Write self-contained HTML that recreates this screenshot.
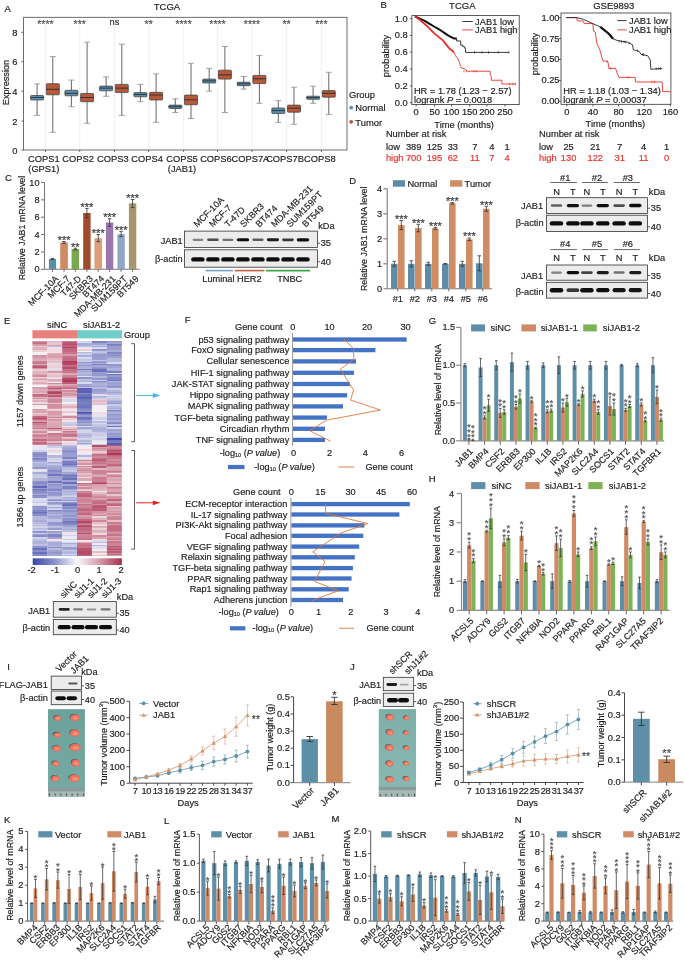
<!DOCTYPE html>
<html><head><meta charset="utf-8"><style>
html,body{margin:0;padding:0;background:#fff;}
svg{display:block;will-change:transform;}
text{font-family:"Liberation Sans",sans-serif;}
</style></head><body>
<svg width="685" height="960" viewBox="0 0 685 960" font-family="Liberation Sans, sans-serif" fill="#1e1e1e">
<defs><filter id="bl" x="-20%" y="-50%" width="140%" height="200%"><feGaussianBlur stdDeviation="0.55"/></filter>
<filter id="hb" x="0" y="0" width="100%" height="100%"><feGaussianBlur stdDeviation="0.35"/></filter>
<filter id="tb" x="-10%" y="-10%" width="120%" height="120%"><feGaussianBlur stdDeviation="0.4"/></filter>
<linearGradient id="phg" x1="0" x2="0" y1="0" y2="1"><stop offset="0" stop-color="#5f9690" stop-opacity="0.35"/><stop offset="1" stop-color="#7cb0aa" stop-opacity="0.3"/></linearGradient></defs>
<rect width="685" height="960" fill="#fff"/>
<text x="4.5" y="8" font-size="9.5" dominant-baseline="central" stroke="#1e1e1e" stroke-width="0.18">A</text>
<text x="167" y="6.6" font-size="9.5" text-anchor="middle" dominant-baseline="central" stroke="#1e1e1e" stroke-width="0.18">TCGA</text>
<line x1="45.4" y1="17.3" x2="45.4" y2="150" stroke="#e6e6e6" stroke-width="0.6"/>
<line x1="79.7" y1="17.3" x2="79.7" y2="150" stroke="#e6e6e6" stroke-width="0.6"/>
<line x1="114.4" y1="17.3" x2="114.4" y2="150" stroke="#e6e6e6" stroke-width="0.6"/>
<line x1="148.7" y1="17.3" x2="148.7" y2="150" stroke="#e6e6e6" stroke-width="0.6"/>
<line x1="183.6" y1="17.3" x2="183.6" y2="150" stroke="#e6e6e6" stroke-width="0.6"/>
<line x1="217.5" y1="17.3" x2="217.5" y2="150" stroke="#e6e6e6" stroke-width="0.6"/>
<line x1="252" y1="17.3" x2="252" y2="150" stroke="#e6e6e6" stroke-width="0.6"/>
<line x1="286.6" y1="17.3" x2="286.6" y2="150" stroke="#e6e6e6" stroke-width="0.6"/>
<line x1="321.4" y1="17.3" x2="321.4" y2="150" stroke="#e6e6e6" stroke-width="0.6"/>
<rect x="23.6" y="17.3" width="323.4" height="132.7" fill="none" stroke="#4a4a4a" stroke-width="0.8"/>
<line x1="21.4" y1="150.1" x2="23.6" y2="150.1" stroke="#4a4a4a" stroke-width="0.8"/>
<text x="17.5" y="150.1" font-size="9.4" text-anchor="end" dominant-baseline="central" stroke="#1e1e1e" stroke-width="0.18">0</text>
<line x1="21.4" y1="121" x2="23.6" y2="121" stroke="#4a4a4a" stroke-width="0.8"/>
<text x="17.5" y="121" font-size="9.4" text-anchor="end" dominant-baseline="central" stroke="#1e1e1e" stroke-width="0.18">2</text>
<line x1="21.4" y1="91.3" x2="23.6" y2="91.3" stroke="#4a4a4a" stroke-width="0.8"/>
<text x="17.5" y="91.3" font-size="9.4" text-anchor="end" dominant-baseline="central" stroke="#1e1e1e" stroke-width="0.18">4</text>
<line x1="21.4" y1="61.7" x2="23.6" y2="61.7" stroke="#4a4a4a" stroke-width="0.8"/>
<text x="17.5" y="61.7" font-size="9.4" text-anchor="end" dominant-baseline="central" stroke="#1e1e1e" stroke-width="0.18">6</text>
<line x1="21.4" y1="32.3" x2="23.6" y2="32.3" stroke="#4a4a4a" stroke-width="0.8"/>
<text x="17.5" y="32.3" font-size="9.4" text-anchor="end" dominant-baseline="central" stroke="#1e1e1e" stroke-width="0.18">8</text>
<text x="5.8" y="82.5" font-size="9.2" text-anchor="middle" transform="rotate(-90 5.8 82.5)" dominant-baseline="central" stroke="#1e1e1e" stroke-width="0.18">Expression</text>
<line x1="37.1" y1="83.9" x2="37.1" y2="115.4" stroke="#555" stroke-width="0.9"/>
<line x1="34.1" y1="83.9" x2="40.1" y2="83.9" stroke="#999" stroke-width="0.9"/>
<line x1="34.1" y1="115.4" x2="40.1" y2="115.4" stroke="#999" stroke-width="0.9"/>
<rect x="30.6" y="95.5" width="13" height="4.5" fill="#5b8fad" stroke="#3a3a3a" stroke-width="0.7" rx="0.8"/>
<line x1="30.6" y1="97.5" x2="43.6" y2="97.5" stroke="#2a2a2a" stroke-width="0.9"/>
<line x1="52.8" y1="56.6" x2="52.8" y2="132.3" stroke="#555" stroke-width="0.9"/>
<line x1="49.8" y1="56.6" x2="55.8" y2="56.6" stroke="#999" stroke-width="0.9"/>
<line x1="49.8" y1="132.3" x2="55.8" y2="132.3" stroke="#999" stroke-width="0.9"/>
<rect x="46.3" y="83.7" width="13" height="11.1" fill="#b5593a" stroke="#3a3a3a" stroke-width="0.7" rx="0.8"/>
<line x1="46.3" y1="89.3" x2="59.3" y2="89.3" stroke="#2a2a2a" stroke-width="0.9"/>
<text x="45.4" y="27.86" font-size="10.5" text-anchor="middle" fill="#555" dominant-baseline="auto" stroke="#555" stroke-width="0.2">****</text>
<line x1="71.4" y1="80.1" x2="71.4" y2="106.7" stroke="#555" stroke-width="0.9"/>
<line x1="68.4" y1="80.1" x2="74.4" y2="80.1" stroke="#999" stroke-width="0.9"/>
<line x1="68.4" y1="106.7" x2="74.4" y2="106.7" stroke="#999" stroke-width="0.9"/>
<rect x="64.9" y="90.3" width="13" height="5.5" fill="#5b8fad" stroke="#3a3a3a" stroke-width="0.7" rx="0.8"/>
<line x1="64.9" y1="93.3" x2="77.9" y2="93.3" stroke="#2a2a2a" stroke-width="0.9"/>
<line x1="87.1" y1="42.2" x2="87.1" y2="123.3" stroke="#555" stroke-width="0.9"/>
<line x1="84.1" y1="42.2" x2="90.1" y2="42.2" stroke="#999" stroke-width="0.9"/>
<line x1="84.1" y1="123.3" x2="90.1" y2="123.3" stroke="#999" stroke-width="0.9"/>
<rect x="80.6" y="93.5" width="13" height="8.2" fill="#b5593a" stroke="#3a3a3a" stroke-width="0.7" rx="0.8"/>
<line x1="80.6" y1="97.5" x2="93.6" y2="97.5" stroke="#2a2a2a" stroke-width="0.9"/>
<text x="79.7" y="27.86" font-size="10.5" text-anchor="middle" fill="#555" dominant-baseline="auto" stroke="#555" stroke-width="0.2">***</text>
<line x1="106.1" y1="76.9" x2="106.1" y2="96.3" stroke="#555" stroke-width="0.9"/>
<line x1="103.1" y1="76.9" x2="109.1" y2="76.9" stroke="#999" stroke-width="0.9"/>
<line x1="103.1" y1="96.3" x2="109.1" y2="96.3" stroke="#999" stroke-width="0.9"/>
<rect x="99.6" y="86.1" width="13" height="4.7" fill="#5b8fad" stroke="#3a3a3a" stroke-width="0.7" rx="0.8"/>
<line x1="99.6" y1="88.1" x2="112.6" y2="88.1" stroke="#2a2a2a" stroke-width="0.9"/>
<line x1="121.8" y1="44.2" x2="121.8" y2="115.4" stroke="#555" stroke-width="0.9"/>
<line x1="118.8" y1="44.2" x2="124.8" y2="44.2" stroke="#999" stroke-width="0.9"/>
<line x1="118.8" y1="115.4" x2="124.8" y2="115.4" stroke="#999" stroke-width="0.9"/>
<rect x="115.3" y="84.4" width="13" height="8.2" fill="#b5593a" stroke="#3a3a3a" stroke-width="0.7" rx="0.8"/>
<line x1="115.3" y1="88.1" x2="128.3" y2="88.1" stroke="#2a2a2a" stroke-width="0.9"/>
<text x="114.4" y="21.5" font-size="9.2" text-anchor="middle" fill="#333" dominant-baseline="central" stroke="#333" stroke-width="0.18">ns</text>
<line x1="140.4" y1="84.4" x2="140.4" y2="101.7" stroke="#555" stroke-width="0.9"/>
<line x1="137.4" y1="84.4" x2="143.4" y2="84.4" stroke="#999" stroke-width="0.9"/>
<line x1="137.4" y1="101.7" x2="143.4" y2="101.7" stroke="#999" stroke-width="0.9"/>
<rect x="133.9" y="92.6" width="13" height="4.2" fill="#5b8fad" stroke="#3a3a3a" stroke-width="0.7" rx="0.8"/>
<line x1="133.9" y1="94.5" x2="146.9" y2="94.5" stroke="#2a2a2a" stroke-width="0.9"/>
<line x1="156.1" y1="73.9" x2="156.1" y2="122.3" stroke="#555" stroke-width="0.9"/>
<line x1="153.1" y1="73.9" x2="159.1" y2="73.9" stroke="#999" stroke-width="0.9"/>
<line x1="153.1" y1="122.3" x2="159.1" y2="122.3" stroke="#999" stroke-width="0.9"/>
<rect x="149.6" y="92.3" width="13" height="7.7" fill="#b5593a" stroke="#3a3a3a" stroke-width="0.7" rx="0.8"/>
<line x1="149.6" y1="95" x2="162.6" y2="95" stroke="#2a2a2a" stroke-width="0.9"/>
<text x="148.7" y="27.86" font-size="10.5" text-anchor="middle" fill="#555" dominant-baseline="auto" stroke="#555" stroke-width="0.2">**</text>
<line x1="175.3" y1="98.8" x2="175.3" y2="112.5" stroke="#555" stroke-width="0.9"/>
<line x1="172.3" y1="98.8" x2="178.3" y2="98.8" stroke="#999" stroke-width="0.9"/>
<line x1="172.3" y1="112.5" x2="178.3" y2="112.5" stroke="#999" stroke-width="0.9"/>
<rect x="168.8" y="105.1" width="13" height="3.4" fill="#5b8fad" stroke="#3a3a3a" stroke-width="0.7" rx="0.8"/>
<line x1="168.8" y1="106.7" x2="181.8" y2="106.7" stroke="#2a2a2a" stroke-width="0.9"/>
<line x1="191" y1="63.3" x2="191" y2="118.5" stroke="#555" stroke-width="0.9"/>
<line x1="188" y1="63.3" x2="194" y2="63.3" stroke="#999" stroke-width="0.9"/>
<line x1="188" y1="118.5" x2="194" y2="118.5" stroke="#999" stroke-width="0.9"/>
<rect x="184.5" y="95.1" width="13" height="9.7" fill="#b5593a" stroke="#3a3a3a" stroke-width="0.7" rx="0.8"/>
<line x1="184.5" y1="99.8" x2="197.5" y2="99.8" stroke="#2a2a2a" stroke-width="0.9"/>
<text x="183.6" y="27.86" font-size="10.5" text-anchor="middle" fill="#555" dominant-baseline="auto" stroke="#555" stroke-width="0.2">****</text>
<line x1="209.2" y1="68.3" x2="209.2" y2="91.2" stroke="#555" stroke-width="0.9"/>
<line x1="206.2" y1="68.3" x2="212.2" y2="68.3" stroke="#999" stroke-width="0.9"/>
<line x1="206.2" y1="91.2" x2="212.2" y2="91.2" stroke="#999" stroke-width="0.9"/>
<rect x="202.7" y="79.1" width="13" height="3.9" fill="#5b8fad" stroke="#3a3a3a" stroke-width="0.7" rx="0.8"/>
<line x1="202.7" y1="80.9" x2="215.7" y2="80.9" stroke="#2a2a2a" stroke-width="0.9"/>
<line x1="224.9" y1="46.5" x2="224.9" y2="112.5" stroke="#555" stroke-width="0.9"/>
<line x1="221.9" y1="46.5" x2="227.9" y2="46.5" stroke="#999" stroke-width="0.9"/>
<line x1="221.9" y1="112.5" x2="227.9" y2="112.5" stroke="#999" stroke-width="0.9"/>
<rect x="218.4" y="70.2" width="13" height="8.9" fill="#b5593a" stroke="#3a3a3a" stroke-width="0.7" rx="0.8"/>
<line x1="218.4" y1="74.9" x2="231.4" y2="74.9" stroke="#2a2a2a" stroke-width="0.9"/>
<text x="217.5" y="27.86" font-size="10.5" text-anchor="middle" fill="#555" dominant-baseline="auto" stroke="#555" stroke-width="0.2">****</text>
<line x1="243.7" y1="76.5" x2="243.7" y2="89.1" stroke="#555" stroke-width="0.9"/>
<line x1="240.7" y1="76.5" x2="246.7" y2="76.5" stroke="#999" stroke-width="0.9"/>
<line x1="240.7" y1="89.1" x2="246.7" y2="89.1" stroke="#999" stroke-width="0.9"/>
<rect x="237.2" y="82.2" width="13" height="3.5" fill="#5b8fad" stroke="#3a3a3a" stroke-width="0.7" rx="0.8"/>
<line x1="237.2" y1="83.8" x2="250.2" y2="83.8" stroke="#2a2a2a" stroke-width="0.9"/>
<line x1="259.4" y1="55.4" x2="259.4" y2="103.3" stroke="#555" stroke-width="0.9"/>
<line x1="256.4" y1="55.4" x2="262.4" y2="55.4" stroke="#999" stroke-width="0.9"/>
<line x1="256.4" y1="103.3" x2="262.4" y2="103.3" stroke="#999" stroke-width="0.9"/>
<rect x="252.9" y="75.4" width="13" height="8.2" fill="#b5593a" stroke="#3a3a3a" stroke-width="0.7" rx="0.8"/>
<line x1="252.9" y1="78.8" x2="265.9" y2="78.8" stroke="#2a2a2a" stroke-width="0.9"/>
<text x="252" y="27.86" font-size="10.5" text-anchor="middle" fill="#555" dominant-baseline="auto" stroke="#555" stroke-width="0.2">****</text>
<line x1="278.3" y1="100.6" x2="278.3" y2="122.4" stroke="#555" stroke-width="0.9"/>
<line x1="275.3" y1="100.6" x2="281.3" y2="100.6" stroke="#999" stroke-width="0.9"/>
<line x1="275.3" y1="122.4" x2="281.3" y2="122.4" stroke="#999" stroke-width="0.9"/>
<rect x="271.8" y="108" width="13" height="5.5" fill="#5b8fad" stroke="#3a3a3a" stroke-width="0.7" rx="0.8"/>
<line x1="271.8" y1="110.6" x2="284.8" y2="110.6" stroke="#2a2a2a" stroke-width="0.9"/>
<line x1="294" y1="87.2" x2="294" y2="124.3" stroke="#555" stroke-width="0.9"/>
<line x1="291" y1="87.2" x2="297" y2="87.2" stroke="#999" stroke-width="0.9"/>
<line x1="291" y1="124.3" x2="297" y2="124.3" stroke="#999" stroke-width="0.9"/>
<rect x="287.5" y="105.1" width="13" height="7.1" fill="#b5593a" stroke="#3a3a3a" stroke-width="0.7" rx="0.8"/>
<line x1="287.5" y1="108.2" x2="300.5" y2="108.2" stroke="#2a2a2a" stroke-width="0.9"/>
<text x="286.6" y="27.86" font-size="10.5" text-anchor="middle" fill="#555" dominant-baseline="auto" stroke="#555" stroke-width="0.2">**</text>
<line x1="313.1" y1="86.2" x2="313.1" y2="103.3" stroke="#555" stroke-width="0.9"/>
<line x1="310.1" y1="86.2" x2="316.1" y2="86.2" stroke="#999" stroke-width="0.9"/>
<line x1="310.1" y1="103.3" x2="316.1" y2="103.3" stroke="#999" stroke-width="0.9"/>
<rect x="306.6" y="96.2" width="13" height="3.1" fill="#5b8fad" stroke="#3a3a3a" stroke-width="0.7" rx="0.8"/>
<line x1="306.6" y1="97.7" x2="319.6" y2="97.7" stroke="#2a2a2a" stroke-width="0.9"/>
<line x1="328.8" y1="72.3" x2="328.8" y2="114.6" stroke="#555" stroke-width="0.9"/>
<line x1="325.8" y1="72.3" x2="331.8" y2="72.3" stroke="#999" stroke-width="0.9"/>
<line x1="325.8" y1="114.6" x2="331.8" y2="114.6" stroke="#999" stroke-width="0.9"/>
<rect x="322.3" y="90.6" width="13" height="6.6" fill="#b5593a" stroke="#3a3a3a" stroke-width="0.7" rx="0.8"/>
<line x1="322.3" y1="93.3" x2="335.3" y2="93.3" stroke="#2a2a2a" stroke-width="0.9"/>
<text x="321.4" y="27.86" font-size="10.5" text-anchor="middle" fill="#555" dominant-baseline="auto" stroke="#555" stroke-width="0.2">***</text>
<line x1="45.4" y1="150" x2="45.4" y2="152" stroke="#4a4a4a" stroke-width="0.8"/>
<text x="43.8" y="159" font-size="9.3" text-anchor="middle" dominant-baseline="central" stroke="#1e1e1e" stroke-width="0.18">COPS1</text>
<line x1="79.7" y1="150" x2="79.7" y2="152" stroke="#4a4a4a" stroke-width="0.8"/>
<text x="78.1" y="159" font-size="9.3" text-anchor="middle" dominant-baseline="central" stroke="#1e1e1e" stroke-width="0.18">COPS2</text>
<line x1="114.4" y1="150" x2="114.4" y2="152" stroke="#4a4a4a" stroke-width="0.8"/>
<text x="112.8" y="159" font-size="9.3" text-anchor="middle" dominant-baseline="central" stroke="#1e1e1e" stroke-width="0.18">COPS3</text>
<line x1="148.7" y1="150" x2="148.7" y2="152" stroke="#4a4a4a" stroke-width="0.8"/>
<text x="147.1" y="159" font-size="9.3" text-anchor="middle" dominant-baseline="central" stroke="#1e1e1e" stroke-width="0.18">COPS4</text>
<line x1="183.6" y1="150" x2="183.6" y2="152" stroke="#4a4a4a" stroke-width="0.8"/>
<text x="182" y="159" font-size="9.3" text-anchor="middle" dominant-baseline="central" stroke="#1e1e1e" stroke-width="0.18">COPS5</text>
<line x1="217.5" y1="150" x2="217.5" y2="152" stroke="#4a4a4a" stroke-width="0.8"/>
<text x="215.9" y="159" font-size="9.3" text-anchor="middle" dominant-baseline="central" stroke="#1e1e1e" stroke-width="0.18">COPS6</text>
<line x1="252" y1="150" x2="252" y2="152" stroke="#4a4a4a" stroke-width="0.8"/>
<text x="250.4" y="159" font-size="9.3" text-anchor="middle" dominant-baseline="central" stroke="#1e1e1e" stroke-width="0.18">COPS7A</text>
<line x1="286.6" y1="150" x2="286.6" y2="152" stroke="#4a4a4a" stroke-width="0.8"/>
<text x="285" y="159" font-size="9.3" text-anchor="middle" dominant-baseline="central" stroke="#1e1e1e" stroke-width="0.18">COPS7B</text>
<line x1="321.4" y1="150" x2="321.4" y2="152" stroke="#4a4a4a" stroke-width="0.8"/>
<text x="319.8" y="159" font-size="9.3" text-anchor="middle" dominant-baseline="central" stroke="#1e1e1e" stroke-width="0.18">COPS8</text>
<text x="43.8" y="169" font-size="9.3" text-anchor="middle" dominant-baseline="central" stroke="#1e1e1e" stroke-width="0.18">(GPS1)</text>
<text x="182" y="169" font-size="9.3" text-anchor="middle" dominant-baseline="central" stroke="#1e1e1e" stroke-width="0.18">(JAB1)</text>
<text x="348.9" y="94.6" font-size="9.4" dominant-baseline="central" stroke="#1e1e1e" stroke-width="0.18">Group</text>
<circle cx="351.2" cy="107.7" r="1.9" fill="#5b8fad"/>
<text x="355.3" y="107.9" font-size="9.4" dominant-baseline="central" stroke="#1e1e1e" stroke-width="0.18">Normal</text>
<circle cx="351.2" cy="121.8" r="1.9" fill="#b5593a"/>
<text x="355.3" y="122" font-size="9.4" dominant-baseline="central" stroke="#1e1e1e" stroke-width="0.18">Tumor</text>
<text x="380.5" y="4.2" font-size="9.5" dominant-baseline="central" stroke="#1e1e1e" stroke-width="0.18">B</text>
<rect x="411.9" y="15.6" width="107.3" height="89" fill="none" stroke="#333" stroke-width="0.8"/>
<line x1="409.9" y1="18.6" x2="411.9" y2="18.6" stroke="#333" stroke-width="0.8"/>
<text x="407.8" y="18.6" font-size="9.3" text-anchor="end" dominant-baseline="central" stroke="#1e1e1e" stroke-width="0.18">1.0</text>
<line x1="409.9" y1="35.4" x2="411.9" y2="35.4" stroke="#333" stroke-width="0.8"/>
<text x="407.8" y="35.4" font-size="9.3" text-anchor="end" dominant-baseline="central" stroke="#1e1e1e" stroke-width="0.18">0.8</text>
<line x1="409.9" y1="52.2" x2="411.9" y2="52.2" stroke="#333" stroke-width="0.8"/>
<text x="407.8" y="52.2" font-size="9.3" text-anchor="end" dominant-baseline="central" stroke="#1e1e1e" stroke-width="0.18">0.6</text>
<line x1="409.9" y1="69.1" x2="411.9" y2="69.1" stroke="#333" stroke-width="0.8"/>
<text x="407.8" y="69.1" font-size="9.3" text-anchor="end" dominant-baseline="central" stroke="#1e1e1e" stroke-width="0.18">0.4</text>
<line x1="409.9" y1="85.9" x2="411.9" y2="85.9" stroke="#333" stroke-width="0.8"/>
<text x="407.8" y="85.9" font-size="9.3" text-anchor="end" dominant-baseline="central" stroke="#1e1e1e" stroke-width="0.18">0.2</text>
<line x1="409.9" y1="102.7" x2="411.9" y2="102.7" stroke="#333" stroke-width="0.8"/>
<text x="407.8" y="102.7" font-size="9.3" text-anchor="end" dominant-baseline="central" stroke="#1e1e1e" stroke-width="0.18">0.0</text>
<line x1="416.1" y1="104.6" x2="416.1" y2="106.6" stroke="#333" stroke-width="0.8"/>
<text x="416.1" y="111.9" font-size="9.3" text-anchor="middle" dominant-baseline="central" stroke="#1e1e1e" stroke-width="0.18">0</text>
<line x1="434.7" y1="104.6" x2="434.7" y2="106.6" stroke="#333" stroke-width="0.8"/>
<text x="434.7" y="111.9" font-size="9.3" text-anchor="middle" dominant-baseline="central" stroke="#1e1e1e" stroke-width="0.18">50</text>
<line x1="451.6" y1="104.6" x2="451.6" y2="106.6" stroke="#333" stroke-width="0.8"/>
<text x="451.6" y="111.9" font-size="9.3" text-anchor="middle" dominant-baseline="central" stroke="#1e1e1e" stroke-width="0.18">100</text>
<line x1="469.7" y1="104.6" x2="469.7" y2="106.6" stroke="#333" stroke-width="0.8"/>
<text x="469.7" y="111.9" font-size="9.3" text-anchor="middle" dominant-baseline="central" stroke="#1e1e1e" stroke-width="0.18">150</text>
<line x1="486.9" y1="104.6" x2="486.9" y2="106.6" stroke="#333" stroke-width="0.8"/>
<text x="486.9" y="111.9" font-size="9.3" text-anchor="middle" dominant-baseline="central" stroke="#1e1e1e" stroke-width="0.18">200</text>
<line x1="505" y1="104.6" x2="505" y2="106.6" stroke="#333" stroke-width="0.8"/>
<text x="505" y="111.9" font-size="9.3" text-anchor="middle" dominant-baseline="central" stroke="#1e1e1e" stroke-width="0.18">250</text>
<text x="462.3" y="5.9" font-size="9.5" text-anchor="middle" dominant-baseline="central" stroke="#1e1e1e" stroke-width="0.18">TCGA</text>
<text x="386.2" y="56" font-size="9.3" text-anchor="middle" transform="rotate(-90 386.2 56)" dominant-baseline="central" stroke="#1e1e1e" stroke-width="0.18">probability</text>
<text x="464.1" y="124.5" font-size="9.3" text-anchor="middle" dominant-baseline="central" stroke="#1e1e1e" stroke-width="0.18">Time (months)</text>
<polyline points="414.91,16.45 419.81,19.72 426.35,25.45 434.53,33.62 442.7,40.16 449.24,48.34 451.69,50.3 454.15,52.42 455.45,55.69 457.42,58.15 459.05,61.42 460.69,66.32 461.5,67.96 464.77,68.77 467.23,71.23 490.12,71.23 490.12,74.82 491.26,76.13 491.26,80.22 501.89,80.22 501.89,83.98 515.46,83.98" fill="none" stroke="#e8302a" stroke-width="0.9"/>
<polyline points="414.91,16.45 419.81,18.58 424.72,20.87 429.62,23.81 434.53,26.75 439.43,29.53 444.34,32.8 449.24,36.07 454.15,38.53 456.6,38.53 456.6,40.98 460.69,40.98 460.69,45.07 462.65,45.07 462.65,46.7 464.77,46.7 464.77,48.34 465.59,48.34 465.59,52.42 508.92,52.42" fill="none" stroke="#222" stroke-width="0.9"/>
<polyline points="414.91,16.45 419.81,18.58 424.72,20.87 429.62,23.81 434.53,26.75 439.43,29.53 444.34,32.8 449.24,36.07 454.15,38.53 456.6,38.53" fill="none" stroke="#111" stroke-width="2"/>
<polyline points="414.91,16.45 419.81,19.72 426.35,25.45 434.53,33.62 442.7,40.16 449.24,48.34 451.69,50.3 454.15,52.42" fill="none" stroke="#e8302a" stroke-width="1.8"/>
<line x1="474.58" y1="51.22" x2="474.58" y2="53.62" stroke="#222" stroke-width="0.7"/>
<line x1="481.94" y1="51.22" x2="481.94" y2="53.62" stroke="#222" stroke-width="0.7"/>
<line x1="488.48" y1="51.22" x2="488.48" y2="53.62" stroke="#222" stroke-width="0.7"/>
<line x1="498.29" y1="51.22" x2="498.29" y2="53.62" stroke="#222" stroke-width="0.7"/>
<line x1="508.92" y1="51.22" x2="508.92" y2="53.62" stroke="#222" stroke-width="0.7"/>
<line x1="463.96" y1="70.03" x2="463.96" y2="72.43" stroke="#e8302a" stroke-width="0.7"/>
<line x1="466.41" y1="70.03" x2="466.41" y2="72.43" stroke="#e8302a" stroke-width="0.7"/>
<line x1="473.77" y1="70.03" x2="473.77" y2="72.43" stroke="#e8302a" stroke-width="0.7"/>
<line x1="476.22" y1="70.03" x2="476.22" y2="72.43" stroke="#e8302a" stroke-width="0.7"/>
<line x1="509.74" y1="82.78" x2="509.74" y2="85.18" stroke="#e8302a" stroke-width="0.7"/>
<line x1="513.01" y1="82.78" x2="513.01" y2="85.18" stroke="#e8302a" stroke-width="0.7"/>
<line x1="515.46" y1="82.78" x2="515.46" y2="85.18" stroke="#e8302a" stroke-width="0.7"/>
<line x1="462.3" y1="21.5" x2="472.8" y2="21.5" stroke="#222" stroke-width="0.9"/>
<text x="475.1" y="21.9" font-size="9.3" dominant-baseline="central" stroke="#1e1e1e" stroke-width="0.18">JAB1 low</text>
<line x1="462.3" y1="29.9" x2="472.8" y2="29.9" stroke="#e8302a" stroke-width="0.9"/>
<text x="475.1" y="30.3" font-size="9.3" dominant-baseline="central" stroke="#1e1e1e" stroke-width="0.18">JAB1 high</text>
<text x="413.9" y="90.8" font-size="9.3" dominant-baseline="central" stroke="#1e1e1e" stroke-width="0.18">HR = 1.78 (1.23 − 2.57)</text>
<text x="413.9" y="100.2" font-size="9.3" dominant-baseline="central" stroke="#1e1e1e" stroke-width="0.18">logrank <tspan font-style="italic">P</tspan> = 0.0018</text>
<rect x="561" y="13" width="109.9" height="91.3" fill="none" stroke="#333" stroke-width="0.8"/>
<line x1="559" y1="17.6" x2="561" y2="17.6" stroke="#333" stroke-width="0.8"/>
<text x="559.5" y="17.6" font-size="9.3" text-anchor="end" dominant-baseline="central" stroke="#1e1e1e" stroke-width="0.18">1.00</text>
<line x1="559" y1="38.5" x2="561" y2="38.5" stroke="#333" stroke-width="0.8"/>
<text x="559.5" y="38.5" font-size="9.3" text-anchor="end" dominant-baseline="central" stroke="#1e1e1e" stroke-width="0.18">0.75</text>
<line x1="559" y1="59.4" x2="561" y2="59.4" stroke="#333" stroke-width="0.8"/>
<text x="559.5" y="59.4" font-size="9.3" text-anchor="end" dominant-baseline="central" stroke="#1e1e1e" stroke-width="0.18">0.50</text>
<line x1="559" y1="80.4" x2="561" y2="80.4" stroke="#333" stroke-width="0.8"/>
<text x="559.5" y="80.4" font-size="9.3" text-anchor="end" dominant-baseline="central" stroke="#1e1e1e" stroke-width="0.18">0.25</text>
<line x1="559" y1="101.3" x2="561" y2="101.3" stroke="#333" stroke-width="0.8"/>
<text x="559.5" y="101.3" font-size="9.3" text-anchor="end" dominant-baseline="central" stroke="#1e1e1e" stroke-width="0.18">0.00</text>
<line x1="566.8" y1="104.3" x2="566.8" y2="106.3" stroke="#333" stroke-width="0.8"/>
<text x="566.8" y="111.9" font-size="9.3" text-anchor="middle" dominant-baseline="central" stroke="#1e1e1e" stroke-width="0.18">0</text>
<line x1="593" y1="104.3" x2="593" y2="106.3" stroke="#333" stroke-width="0.8"/>
<text x="593" y="111.9" font-size="9.3" text-anchor="middle" dominant-baseline="central" stroke="#1e1e1e" stroke-width="0.18">40</text>
<line x1="618.6" y1="104.3" x2="618.6" y2="106.3" stroke="#333" stroke-width="0.8"/>
<text x="618.6" y="111.9" font-size="9.3" text-anchor="middle" dominant-baseline="central" stroke="#1e1e1e" stroke-width="0.18">80</text>
<line x1="644.2" y1="104.3" x2="644.2" y2="106.3" stroke="#333" stroke-width="0.8"/>
<text x="644.2" y="111.9" font-size="9.3" text-anchor="middle" dominant-baseline="central" stroke="#1e1e1e" stroke-width="0.18">120</text>
<line x1="670.4" y1="104.3" x2="670.4" y2="106.3" stroke="#333" stroke-width="0.8"/>
<text x="670.4" y="111.9" font-size="9.3" text-anchor="middle" dominant-baseline="central" stroke="#1e1e1e" stroke-width="0.18">160</text>
<text x="613.8" y="5.3" font-size="9.5" text-anchor="middle" dominant-baseline="central" stroke="#1e1e1e" stroke-width="0.18">GSE9893</text>
<text x="534.5" y="54" font-size="9.3" text-anchor="middle" transform="rotate(-90 534.5 54)" dominant-baseline="central" stroke="#1e1e1e" stroke-width="0.18">probability</text>
<text x="615.4" y="123.8" font-size="9.3" text-anchor="middle" dominant-baseline="central" stroke="#1e1e1e" stroke-width="0.18">Time (months)</text>
<polyline points="566.13,17.62 576.63,17.62 577.48,21.01 583.4,21.01 584.25,23.55 592.72,23.55 593.56,31.17 595.26,32.02 596.95,43.87 599.49,48.95 602.88,60.8 607.96,61.65 608.8,68.43 615.58,68.43 617.27,73.51 618.97,77.4 635.05,77.4 635.56,81.97 662.15,81.97 662.66,91.63 670.62,91.63" fill="none" stroke="#e8302a" stroke-width="0.9"/>
<polyline points="566.13,17.62 576.63,17.62 583.4,19.31 591.87,23.21 600.34,26.93 608.8,33.71 613.04,38.79 617.27,40.48 627.43,42.18 632.51,44.72 633.36,49.8 639.29,51.49 640.98,54.37 647.75,55.72 650.29,59.96 650.8,69.27 662.15,68.43" fill="none" stroke="#222" stroke-width="0.9"/>
<polyline points="600.34,26.93 608.8,33.71 613.04,38.79" fill="none" stroke="#111" stroke-width="2.2"/>
<line x1="618.97" y1="40.13" x2="618.97" y2="42.53" stroke="#222" stroke-width="0.7"/>
<line x1="621.51" y1="40.47" x2="621.51" y2="42.87" stroke="#222" stroke-width="0.7"/>
<line x1="624.05" y1="40.64" x2="624.05" y2="43.04" stroke="#222" stroke-width="0.7"/>
<line x1="625.74" y1="40.81" x2="625.74" y2="43.21" stroke="#222" stroke-width="0.7"/>
<line x1="629.13" y1="41.82" x2="629.13" y2="44.22" stroke="#222" stroke-width="0.7"/>
<line x1="637.59" y1="49.44" x2="637.59" y2="51.84" stroke="#222" stroke-width="0.7"/>
<line x1="642.67" y1="53.17" x2="642.67" y2="55.57" stroke="#222" stroke-width="0.7"/>
<line x1="643.52" y1="53.51" x2="643.52" y2="55.91" stroke="#222" stroke-width="0.7"/>
<line x1="656.22" y1="67.73" x2="656.22" y2="70.13" stroke="#222" stroke-width="0.7"/>
<line x1="658.76" y1="67.56" x2="658.76" y2="69.96" stroke="#222" stroke-width="0.7"/>
<line x1="660.46" y1="67.39" x2="660.46" y2="69.79" stroke="#222" stroke-width="0.7"/>
<line x1="607.11" y1="60.11" x2="607.11" y2="62.51" stroke="#e8302a" stroke-width="0.7"/>
<line x1="610.5" y1="67.23" x2="610.5" y2="69.63" stroke="#e8302a" stroke-width="0.7"/>
<line x1="628.28" y1="76.2" x2="628.28" y2="78.6" stroke="#e8302a" stroke-width="0.7"/>
<line x1="651.99" y1="80.77" x2="651.99" y2="83.17" stroke="#e8302a" stroke-width="0.7"/>
<line x1="654.53" y1="80.77" x2="654.53" y2="83.17" stroke="#e8302a" stroke-width="0.7"/>
<line x1="617.3" y1="20.6" x2="626.6" y2="20.6" stroke="#222" stroke-width="0.9"/>
<text x="629" y="21" font-size="9.3" dominant-baseline="central" stroke="#1e1e1e" stroke-width="0.18">JAB1 low</text>
<line x1="617.3" y1="29.9" x2="626.6" y2="29.9" stroke="#e8302a" stroke-width="0.9"/>
<text x="629" y="30.3" font-size="9.3" dominant-baseline="central" stroke="#1e1e1e" stroke-width="0.18">JAB1 high</text>
<text x="563.2" y="90.8" font-size="9.3" dominant-baseline="central" stroke="#1e1e1e" stroke-width="0.18">HR = 1.18 (1.03 − 1.34)</text>
<text x="563.2" y="100.2" font-size="9.3" dominant-baseline="central" stroke="#1e1e1e" stroke-width="0.18">logrank <tspan font-style="italic">P</tspan> = 0.00037</text>
<text x="385.9" y="133.6" font-size="9.3" dominant-baseline="central" stroke="#1e1e1e" stroke-width="0.18">Number at risk</text>
<text x="385.9" y="146.7" font-size="9.3" dominant-baseline="central" stroke="#1e1e1e" stroke-width="0.18">low</text>
<text x="385.9" y="157.7" font-size="9.3" fill="#e8302a" dominant-baseline="central" stroke="#e8302a" stroke-width="0.18">high</text>
<text x="413.7" y="146.7" font-size="9.3" text-anchor="middle" dominant-baseline="central" stroke="#1e1e1e" stroke-width="0.18">389</text>
<text x="413.7" y="157.7" font-size="9.3" text-anchor="middle" fill="#e8302a" dominant-baseline="central" stroke="#e8302a" stroke-width="0.18">700</text>
<text x="434.4" y="146.7" font-size="9.3" text-anchor="middle" dominant-baseline="central" stroke="#1e1e1e" stroke-width="0.18">125</text>
<text x="434.4" y="157.7" font-size="9.3" text-anchor="middle" fill="#e8302a" dominant-baseline="central" stroke="#e8302a" stroke-width="0.18">195</text>
<text x="452.8" y="146.7" font-size="9.3" text-anchor="middle" dominant-baseline="central" stroke="#1e1e1e" stroke-width="0.18">33</text>
<text x="452.8" y="157.7" font-size="9.3" text-anchor="middle" fill="#e8302a" dominant-baseline="central" stroke="#e8302a" stroke-width="0.18">62</text>
<text x="474.8" y="146.7" font-size="9.3" text-anchor="middle" dominant-baseline="central" stroke="#1e1e1e" stroke-width="0.18">7</text>
<text x="474.8" y="157.7" font-size="9.3" text-anchor="middle" fill="#e8302a" dominant-baseline="central" stroke="#e8302a" stroke-width="0.18">11</text>
<text x="491.8" y="146.7" font-size="9.3" text-anchor="middle" dominant-baseline="central" stroke="#1e1e1e" stroke-width="0.18">4</text>
<text x="491.8" y="157.7" font-size="9.3" text-anchor="middle" fill="#e8302a" dominant-baseline="central" stroke="#e8302a" stroke-width="0.18">7</text>
<text x="507" y="146.7" font-size="9.3" text-anchor="middle" dominant-baseline="central" stroke="#1e1e1e" stroke-width="0.18">1</text>
<text x="507" y="157.7" font-size="9.3" text-anchor="middle" fill="#e8302a" dominant-baseline="central" stroke="#e8302a" stroke-width="0.18">4</text>
<text x="539" y="133.6" font-size="9.3" dominant-baseline="central" stroke="#1e1e1e" stroke-width="0.18">Number at risk</text>
<text x="539" y="146.7" font-size="9.3" dominant-baseline="central" stroke="#1e1e1e" stroke-width="0.18">low</text>
<text x="539" y="157.7" font-size="9.3" fill="#e8302a" dominant-baseline="central" stroke="#e8302a" stroke-width="0.18">high</text>
<text x="568.6" y="146.7" font-size="9.3" text-anchor="middle" dominant-baseline="central" stroke="#1e1e1e" stroke-width="0.18">25</text>
<text x="568.6" y="157.7" font-size="9.3" text-anchor="middle" fill="#e8302a" dominant-baseline="central" stroke="#e8302a" stroke-width="0.18">130</text>
<text x="595.3" y="146.7" font-size="9.3" text-anchor="middle" dominant-baseline="central" stroke="#1e1e1e" stroke-width="0.18">21</text>
<text x="595.3" y="157.7" font-size="9.3" text-anchor="middle" fill="#e8302a" dominant-baseline="central" stroke="#e8302a" stroke-width="0.18">122</text>
<text x="619.7" y="146.7" font-size="9.3" text-anchor="middle" dominant-baseline="central" stroke="#1e1e1e" stroke-width="0.18">7</text>
<text x="619.7" y="157.7" font-size="9.3" text-anchor="middle" fill="#e8302a" dominant-baseline="central" stroke="#e8302a" stroke-width="0.18">31</text>
<text x="643.6" y="146.7" font-size="9.3" text-anchor="middle" dominant-baseline="central" stroke="#1e1e1e" stroke-width="0.18">4</text>
<text x="643.6" y="157.7" font-size="9.3" text-anchor="middle" fill="#e8302a" dominant-baseline="central" stroke="#e8302a" stroke-width="0.18">11</text>
<text x="666.6" y="146.7" font-size="9.3" text-anchor="middle" dominant-baseline="central" stroke="#1e1e1e" stroke-width="0.18">1</text>
<text x="666.6" y="157.7" font-size="9.3" text-anchor="middle" fill="#e8302a" dominant-baseline="central" stroke="#e8302a" stroke-width="0.18">0</text>
<text x="5" y="177.8" font-size="9.5" dominant-baseline="central" stroke="#1e1e1e" stroke-width="0.18">C</text>
<line x1="44.5" y1="182.5" x2="44.5" y2="269.3" stroke="#7a7a7a" stroke-width="1.1"/>
<line x1="41" y1="269.3" x2="44.5" y2="269.3" stroke="#7a7a7a" stroke-width="1.1"/>
<text x="39.6" y="269.3" font-size="9.2" text-anchor="end" dominant-baseline="central" stroke="#1e1e1e" stroke-width="0.18">0</text>
<line x1="41" y1="251.94" x2="44.5" y2="251.94" stroke="#7a7a7a" stroke-width="1.1"/>
<text x="39.6" y="251.94" font-size="9.2" text-anchor="end" dominant-baseline="central" stroke="#1e1e1e" stroke-width="0.18">2</text>
<line x1="41" y1="234.58" x2="44.5" y2="234.58" stroke="#7a7a7a" stroke-width="1.1"/>
<text x="39.6" y="234.58" font-size="9.2" text-anchor="end" dominant-baseline="central" stroke="#1e1e1e" stroke-width="0.18">4</text>
<line x1="41" y1="217.22" x2="44.5" y2="217.22" stroke="#7a7a7a" stroke-width="1.1"/>
<text x="39.6" y="217.22" font-size="9.2" text-anchor="end" dominant-baseline="central" stroke="#1e1e1e" stroke-width="0.18">6</text>
<line x1="41" y1="199.86" x2="44.5" y2="199.86" stroke="#7a7a7a" stroke-width="1.1"/>
<text x="39.6" y="199.86" font-size="9.2" text-anchor="end" dominant-baseline="central" stroke="#1e1e1e" stroke-width="0.18">8</text>
<line x1="41" y1="182.5" x2="44.5" y2="182.5" stroke="#7a7a7a" stroke-width="1.1"/>
<text x="39.6" y="182.5" font-size="9.2" text-anchor="end" dominant-baseline="central" stroke="#1e1e1e" stroke-width="0.18">10</text>
<line x1="44.5" y1="269.3" x2="139.6" y2="269.3" stroke="#7a7a7a" stroke-width="1.1"/>
<text x="22.3" y="228" font-size="8.9" text-anchor="middle" transform="rotate(-90 22.3 228)" dominant-baseline="central" stroke="#1e1e1e" stroke-width="0.18">Relative JAB1 mRNA level</text>
<rect x="48.9" y="259" width="7.2" height="10.3" fill="#5a8fa5"/>
<line x1="52.5" y1="258.5" x2="52.5" y2="259.6" stroke="#333" stroke-width="0.8"/>
<line x1="50.7" y1="258.5" x2="54.3" y2="258.5" stroke="#333" stroke-width="0.8"/>
<line x1="50.7" y1="259.6" x2="54.3" y2="259.6" stroke="#333" stroke-width="0.8"/>
<line x1="52.5" y1="269.3" x2="52.5" y2="271.8" stroke="#555" stroke-width="0.9"/>
<text x="59.1" y="279.3" font-size="9" text-anchor="end" transform="rotate(-45 59.1 279.3)" dominant-baseline="auto" stroke="#1e1e1e" stroke-width="0.18">MCF-10A</text>
<rect x="60.2" y="242.4" width="7.7" height="26.9" fill="#d08a65"/>
<line x1="64.05" y1="241.5" x2="64.05" y2="243.4" stroke="#333" stroke-width="0.8"/>
<line x1="62.25" y1="241.5" x2="65.85" y2="241.5" stroke="#333" stroke-width="0.8"/>
<line x1="62.25" y1="243.4" x2="65.85" y2="243.4" stroke="#333" stroke-width="0.8"/>
<text x="64.05" y="244.02" font-size="11" text-anchor="middle" fill="#444" dominant-baseline="auto" stroke="#444" stroke-width="0.25">***</text>
<line x1="64.05" y1="269.3" x2="64.05" y2="271.8" stroke="#555" stroke-width="0.9"/>
<text x="70.65" y="279.3" font-size="9" text-anchor="end" transform="rotate(-45 70.65 279.3)" dominant-baseline="auto" stroke="#1e1e1e" stroke-width="0.18">MCF-7</text>
<rect x="71.6" y="249" width="7.5" height="20.3" fill="#79a84e"/>
<line x1="75.35" y1="248.2" x2="75.35" y2="250" stroke="#333" stroke-width="0.8"/>
<line x1="73.55" y1="248.2" x2="77.15" y2="248.2" stroke="#333" stroke-width="0.8"/>
<line x1="73.55" y1="250" x2="77.15" y2="250" stroke="#333" stroke-width="0.8"/>
<text x="75.35" y="250.72" font-size="11" text-anchor="middle" fill="#444" dominant-baseline="auto" stroke="#444" stroke-width="0.25">**</text>
<line x1="75.35" y1="269.3" x2="75.35" y2="271.8" stroke="#555" stroke-width="0.9"/>
<text x="81.95" y="279.3" font-size="9" text-anchor="end" transform="rotate(-45 81.95 279.3)" dominant-baseline="auto" stroke="#1e1e1e" stroke-width="0.18">T47-D</text>
<rect x="83.2" y="213" width="7.4" height="56.3" fill="#a24b2c"/>
<line x1="86.9" y1="208.4" x2="86.9" y2="217.6" stroke="#333" stroke-width="0.8"/>
<line x1="85.1" y1="208.4" x2="88.7" y2="208.4" stroke="#333" stroke-width="0.8"/>
<line x1="85.1" y1="217.6" x2="88.7" y2="217.6" stroke="#333" stroke-width="0.8"/>
<text x="86.9" y="210.92" font-size="11" text-anchor="middle" fill="#444" dominant-baseline="auto" stroke="#444" stroke-width="0.25">***</text>
<line x1="86.9" y1="269.3" x2="86.9" y2="271.8" stroke="#555" stroke-width="0.9"/>
<text x="93.5" y="279.3" font-size="9" text-anchor="end" transform="rotate(-45 93.5 279.3)" dominant-baseline="auto" stroke="#1e1e1e" stroke-width="0.18">SKBR3</text>
<rect x="94.4" y="238.3" width="7.7" height="31" fill="#d9a07a"/>
<line x1="98.25" y1="234.5" x2="98.25" y2="241.7" stroke="#333" stroke-width="0.8"/>
<line x1="96.45" y1="234.5" x2="100.05" y2="234.5" stroke="#333" stroke-width="0.8"/>
<line x1="96.45" y1="241.7" x2="100.05" y2="241.7" stroke="#333" stroke-width="0.8"/>
<text x="98.25" y="237.02" font-size="11" text-anchor="middle" fill="#444" dominant-baseline="auto" stroke="#444" stroke-width="0.25">***</text>
<line x1="98.25" y1="269.3" x2="98.25" y2="271.8" stroke="#555" stroke-width="0.9"/>
<text x="104.85" y="279.3" font-size="9" text-anchor="end" transform="rotate(-45 104.85 279.3)" dominant-baseline="auto" stroke="#1e1e1e" stroke-width="0.18">BT474</text>
<rect x="105.9" y="222.5" width="7.4" height="46.8" fill="#9a78ae"/>
<line x1="109.6" y1="218.7" x2="109.6" y2="226.3" stroke="#333" stroke-width="0.8"/>
<line x1="107.8" y1="218.7" x2="111.4" y2="218.7" stroke="#333" stroke-width="0.8"/>
<line x1="107.8" y1="226.3" x2="111.4" y2="226.3" stroke="#333" stroke-width="0.8"/>
<text x="109.6" y="221.22" font-size="11" text-anchor="middle" fill="#444" dominant-baseline="auto" stroke="#444" stroke-width="0.25">***</text>
<line x1="109.6" y1="269.3" x2="109.6" y2="271.8" stroke="#555" stroke-width="0.9"/>
<text x="116.2" y="279.3" font-size="9" text-anchor="end" transform="rotate(-45 116.2 279.3)" dominant-baseline="auto" stroke="#1e1e1e" stroke-width="0.18">MDA-MB-231</text>
<rect x="117.4" y="234.1" width="7.4" height="35.2" fill="#91a6c7"/>
<line x1="121.1" y1="231.4" x2="121.1" y2="236.7" stroke="#333" stroke-width="0.8"/>
<line x1="119.3" y1="231.4" x2="122.9" y2="231.4" stroke="#333" stroke-width="0.8"/>
<line x1="119.3" y1="236.7" x2="122.9" y2="236.7" stroke="#333" stroke-width="0.8"/>
<text x="121.1" y="233.92" font-size="11" text-anchor="middle" fill="#444" dominant-baseline="auto" stroke="#444" stroke-width="0.25">***</text>
<line x1="121.1" y1="269.3" x2="121.1" y2="271.8" stroke="#555" stroke-width="0.9"/>
<text x="127.7" y="279.3" font-size="9" text-anchor="end" transform="rotate(-45 127.7 279.3)" dominant-baseline="auto" stroke="#1e1e1e" stroke-width="0.18">SUM159PT</text>
<rect x="128.9" y="203.3" width="7.4" height="66" fill="#a8956b"/>
<line x1="132.6" y1="199.5" x2="132.6" y2="207.6" stroke="#333" stroke-width="0.8"/>
<line x1="130.8" y1="199.5" x2="134.4" y2="199.5" stroke="#333" stroke-width="0.8"/>
<line x1="130.8" y1="207.6" x2="134.4" y2="207.6" stroke="#333" stroke-width="0.8"/>
<text x="132.6" y="202.02" font-size="11" text-anchor="middle" fill="#444" dominant-baseline="auto" stroke="#444" stroke-width="0.25">***</text>
<line x1="132.6" y1="269.3" x2="132.6" y2="271.8" stroke="#555" stroke-width="0.9"/>
<text x="139.2" y="279.3" font-size="9" text-anchor="end" transform="rotate(-45 139.2 279.3)" dominant-baseline="auto" stroke="#1e1e1e" stroke-width="0.18">BT549</text>
<text x="197.2" y="227.8" font-size="9" transform="rotate(-45 197.2 227.8)" dominant-baseline="auto" stroke="#1e1e1e" stroke-width="0.18">MCF-10A</text>
<text x="212.7" y="227.8" font-size="9" transform="rotate(-45 212.7 227.8)" dominant-baseline="auto" stroke="#1e1e1e" stroke-width="0.18">MCF-7</text>
<text x="228.2" y="227.8" font-size="9" transform="rotate(-45 228.2 227.8)" dominant-baseline="auto" stroke="#1e1e1e" stroke-width="0.18">T-47D</text>
<text x="243.7" y="227.8" font-size="9" transform="rotate(-45 243.7 227.8)" dominant-baseline="auto" stroke="#1e1e1e" stroke-width="0.18">SKBR3</text>
<text x="259.2" y="227.8" font-size="9" transform="rotate(-45 259.2 227.8)" dominant-baseline="auto" stroke="#1e1e1e" stroke-width="0.18">BT474</text>
<text x="274.7" y="227.8" font-size="9" transform="rotate(-45 274.7 227.8)" dominant-baseline="auto" stroke="#1e1e1e" stroke-width="0.18">MDA-MB-231</text>
<text x="290.2" y="227.8" font-size="9" transform="rotate(-45 290.2 227.8)" dominant-baseline="auto" stroke="#1e1e1e" stroke-width="0.18">SUM159PT</text>
<text x="305.7" y="227.8" font-size="9" transform="rotate(-45 305.7 227.8)" dominant-baseline="auto" stroke="#1e1e1e" stroke-width="0.18">BT549</text>
<rect x="184.5" y="231.1" width="133" height="16.3" fill="#ececec" stroke="#333" stroke-width="0.8"/>
<rect x="192.53" y="238.7" width="10.75" height="2.19" rx="1.1" fill="#111" fill-opacity="0.49" filter="url(#bl)"/>
<rect x="207.16" y="238.49" width="11.5" height="2.62" rx="1.31" fill="#111" fill-opacity="0.73" filter="url(#bl)"/>
<rect x="222.42" y="238.63" width="11" height="2.34" rx="1.17" fill="#111" fill-opacity="0.57" filter="url(#bl)"/>
<rect x="236.74" y="238.24" width="12.38" height="3.13" rx="1.56" fill="#111" fill-opacity="1" filter="url(#bl)"/>
<rect x="252.31" y="238.56" width="11.25" height="2.48" rx="1.24" fill="#111" fill-opacity="0.65" filter="url(#bl)"/>
<rect x="266.89" y="238.31" width="12.13" height="2.98" rx="1.49" fill="#111" fill-opacity="0.93" filter="url(#bl)"/>
<rect x="282.09" y="238.42" width="11.75" height="2.77" rx="1.38" fill="#111" fill-opacity="0.81" filter="url(#bl)"/>
<rect x="296.72" y="238.2" width="12.5" height="3.2" rx="1.6" fill="#111" fill-opacity="1" filter="url(#bl)"/>
<rect x="184.5" y="249.8" width="133" height="17.4" fill="#ececec" stroke="#333" stroke-width="0.8"/>
<rect x="191.15" y="257.2" width="13.5" height="4.4" rx="2.2" fill="#111" fill-opacity="1" filter="url(#bl)"/>
<rect x="206.16" y="257.2" width="13.5" height="4.4" rx="2.2" fill="#111" fill-opacity="1" filter="url(#bl)"/>
<rect x="221.17" y="257.2" width="13.5" height="4.4" rx="2.2" fill="#111" fill-opacity="1" filter="url(#bl)"/>
<rect x="236.18" y="257.2" width="13.5" height="4.4" rx="2.2" fill="#111" fill-opacity="1" filter="url(#bl)"/>
<rect x="251.19" y="257.2" width="13.5" height="4.4" rx="2.2" fill="#111" fill-opacity="1" filter="url(#bl)"/>
<rect x="266.2" y="257.2" width="13.5" height="4.4" rx="2.2" fill="#111" fill-opacity="1" filter="url(#bl)"/>
<rect x="281.21" y="257.2" width="13.5" height="4.4" rx="2.2" fill="#111" fill-opacity="1" filter="url(#bl)"/>
<rect x="296.22" y="257.2" width="13.5" height="4.4" rx="2.2" fill="#111" fill-opacity="1" filter="url(#bl)"/>
<text x="182.7" y="240.5" font-size="9.2" text-anchor="end" dominant-baseline="central" stroke="#1e1e1e" stroke-width="0.18">JAB1</text>
<text x="182.7" y="259.1" font-size="9.2" text-anchor="end" dominant-baseline="central" stroke="#1e1e1e" stroke-width="0.18">β-actin</text>
<text x="318.2" y="226" font-size="9.2" dominant-baseline="central" stroke="#1e1e1e" stroke-width="0.18">kDa</text>
<line x1="317.5" y1="243.2" x2="320.1" y2="243.2" stroke="#333" stroke-width="0.8"/>
<text x="320.7" y="243.2" font-size="9.2" dominant-baseline="central" stroke="#1e1e1e" stroke-width="0.18">35</text>
<line x1="317.5" y1="261.8" x2="320.1" y2="261.8" stroke="#333" stroke-width="0.8"/>
<text x="320.7" y="261.8" font-size="9.2" dominant-baseline="central" stroke="#1e1e1e" stroke-width="0.18">40</text>
<line x1="205.6" y1="270.6" x2="232.9" y2="270.6" stroke="#6fa3c7" stroke-width="1.6"/>
<line x1="234.6" y1="270.6" x2="264.5" y2="270.6" stroke="#c0603f" stroke-width="1.6"/>
<line x1="266.1" y1="270.6" x2="310.2" y2="270.6" stroke="#3aa64a" stroke-width="1.6"/>
<text x="218.4" y="279.2" font-size="9.2" text-anchor="middle" dominant-baseline="central" stroke="#1e1e1e" stroke-width="0.18">Luminal</text>
<text x="249.3" y="279.2" font-size="9.2" text-anchor="middle" dominant-baseline="central" stroke="#1e1e1e" stroke-width="0.18">HER2</text>
<text x="289.7" y="279.2" font-size="9.2" text-anchor="middle" dominant-baseline="central" stroke="#1e1e1e" stroke-width="0.18">TNBC</text>
<text x="349.3" y="180.1" font-size="9.5" dominant-baseline="central" stroke="#1e1e1e" stroke-width="0.18">D</text>
<line x1="387.2" y1="188.8" x2="387.2" y2="288.8" stroke="#7a7a7a" stroke-width="1.1"/>
<line x1="383.4" y1="288.8" x2="387.2" y2="288.8" stroke="#7a7a7a" stroke-width="1.1"/>
<text x="382" y="288.8" font-size="9.2" text-anchor="end" dominant-baseline="central" stroke="#1e1e1e" stroke-width="0.18">0</text>
<line x1="383.4" y1="263.8" x2="387.2" y2="263.8" stroke="#7a7a7a" stroke-width="1.1"/>
<text x="382" y="263.8" font-size="9.2" text-anchor="end" dominant-baseline="central" stroke="#1e1e1e" stroke-width="0.18">1</text>
<line x1="383.4" y1="238.8" x2="387.2" y2="238.8" stroke="#7a7a7a" stroke-width="1.1"/>
<text x="382" y="238.8" font-size="9.2" text-anchor="end" dominant-baseline="central" stroke="#1e1e1e" stroke-width="0.18">2</text>
<line x1="383.4" y1="213.8" x2="387.2" y2="213.8" stroke="#7a7a7a" stroke-width="1.1"/>
<text x="382" y="213.8" font-size="9.2" text-anchor="end" dominant-baseline="central" stroke="#1e1e1e" stroke-width="0.18">3</text>
<line x1="383.4" y1="188.8" x2="387.2" y2="188.8" stroke="#7a7a7a" stroke-width="1.1"/>
<text x="382" y="188.8" font-size="9.2" text-anchor="end" dominant-baseline="central" stroke="#1e1e1e" stroke-width="0.18">4</text>
<line x1="387.2" y1="288.8" x2="491.9" y2="288.8" stroke="#7a7a7a" stroke-width="1.1"/>
<text x="364.3" y="238.8" font-size="8.9" text-anchor="middle" transform="rotate(-90 364.3 238.8)" dominant-baseline="central" stroke="#1e1e1e" stroke-width="0.18">Relative JAB1 mRNA level</text>
<rect x="392.9" y="180.2" width="12.1" height="6.5" fill="#5e8ca6"/>
<text x="407.4" y="183.6" font-size="9.3" dominant-baseline="central" stroke="#1e1e1e" stroke-width="0.18">Normal</text>
<rect x="450.1" y="180.2" width="12.2" height="6.5" fill="#d08c62"/>
<text x="464.6" y="183.6" font-size="9.3" dominant-baseline="central" stroke="#1e1e1e" stroke-width="0.18">Tumor</text>
<rect x="391" y="263.8" width="6.6" height="25" fill="#5e8ca6"/>
<rect x="398" y="225.05" width="6.6" height="63.75" fill="#d08c62"/>
<line x1="394.3" y1="261.3" x2="394.3" y2="266.3" stroke="#333" stroke-width="0.8"/>
<line x1="392.5" y1="261.3" x2="396.1" y2="261.3" stroke="#333" stroke-width="0.8"/>
<line x1="392.5" y1="266.3" x2="396.1" y2="266.3" stroke="#333" stroke-width="0.8"/>
<line x1="401.3" y1="220.55" x2="401.3" y2="229.55" stroke="#333" stroke-width="0.8"/>
<line x1="399.5" y1="220.55" x2="403.1" y2="220.55" stroke="#333" stroke-width="0.8"/>
<line x1="399.5" y1="229.55" x2="403.1" y2="229.55" stroke="#333" stroke-width="0.8"/>
<text x="401.3" y="222.87" font-size="11" text-anchor="middle" fill="#444" dominant-baseline="auto" stroke="#444" stroke-width="0.25">***</text>
<line x1="397.8" y1="288.8" x2="397.8" y2="291.3" stroke="#555" stroke-width="0.9"/>
<text x="397.8" y="299.4" font-size="9.3" text-anchor="middle" dominant-baseline="central" stroke="#1e1e1e" stroke-width="0.18">#1</text>
<rect x="408" y="263.8" width="6.6" height="25" fill="#5e8ca6"/>
<rect x="415" y="228.05" width="6.6" height="60.75" fill="#d08c62"/>
<line x1="411.3" y1="260.8" x2="411.3" y2="266.8" stroke="#333" stroke-width="0.8"/>
<line x1="409.5" y1="260.8" x2="413.1" y2="260.8" stroke="#333" stroke-width="0.8"/>
<line x1="409.5" y1="266.8" x2="413.1" y2="266.8" stroke="#333" stroke-width="0.8"/>
<line x1="418.3" y1="224.3" x2="418.3" y2="231.8" stroke="#333" stroke-width="0.8"/>
<line x1="416.5" y1="224.3" x2="420.1" y2="224.3" stroke="#333" stroke-width="0.8"/>
<line x1="416.5" y1="231.8" x2="420.1" y2="231.8" stroke="#333" stroke-width="0.8"/>
<text x="418.3" y="226.62" font-size="11" text-anchor="middle" fill="#444" dominant-baseline="auto" stroke="#444" stroke-width="0.25">***</text>
<line x1="414.8" y1="288.8" x2="414.8" y2="291.3" stroke="#555" stroke-width="0.9"/>
<text x="414.8" y="299.4" font-size="9.3" text-anchor="middle" dominant-baseline="central" stroke="#1e1e1e" stroke-width="0.18">#2</text>
<rect x="425" y="263.8" width="6.6" height="25" fill="#5e8ca6"/>
<rect x="432" y="228.3" width="6.6" height="60.5" fill="#d08c62"/>
<line x1="428.3" y1="262.3" x2="428.3" y2="265.3" stroke="#333" stroke-width="0.8"/>
<line x1="426.5" y1="262.3" x2="430.1" y2="262.3" stroke="#333" stroke-width="0.8"/>
<line x1="426.5" y1="265.3" x2="430.1" y2="265.3" stroke="#333" stroke-width="0.8"/>
<line x1="435.3" y1="227.3" x2="435.3" y2="229.3" stroke="#333" stroke-width="0.8"/>
<line x1="433.5" y1="227.3" x2="437.1" y2="227.3" stroke="#333" stroke-width="0.8"/>
<line x1="433.5" y1="229.3" x2="437.1" y2="229.3" stroke="#333" stroke-width="0.8"/>
<text x="435.3" y="229.62" font-size="11" text-anchor="middle" fill="#444" dominant-baseline="auto" stroke="#444" stroke-width="0.25">***</text>
<line x1="431.8" y1="288.8" x2="431.8" y2="291.3" stroke="#555" stroke-width="0.9"/>
<text x="431.8" y="299.4" font-size="9.3" text-anchor="middle" dominant-baseline="central" stroke="#1e1e1e" stroke-width="0.18">#3</text>
<rect x="442" y="263.8" width="6.6" height="25" fill="#5e8ca6"/>
<rect x="449" y="203.3" width="6.6" height="85.5" fill="#d08c62"/>
<line x1="445.3" y1="263.55" x2="445.3" y2="264.05" stroke="#333" stroke-width="0.8"/>
<line x1="443.5" y1="263.55" x2="447.1" y2="263.55" stroke="#333" stroke-width="0.8"/>
<line x1="443.5" y1="264.05" x2="447.1" y2="264.05" stroke="#333" stroke-width="0.8"/>
<line x1="452.3" y1="202.55" x2="452.3" y2="204.05" stroke="#333" stroke-width="0.8"/>
<line x1="450.5" y1="202.55" x2="454.1" y2="202.55" stroke="#333" stroke-width="0.8"/>
<line x1="450.5" y1="204.05" x2="454.1" y2="204.05" stroke="#333" stroke-width="0.8"/>
<text x="452.3" y="204.87" font-size="11" text-anchor="middle" fill="#444" dominant-baseline="auto" stroke="#444" stroke-width="0.25">***</text>
<line x1="448.8" y1="288.8" x2="448.8" y2="291.3" stroke="#555" stroke-width="0.9"/>
<text x="448.8" y="299.4" font-size="9.3" text-anchor="middle" dominant-baseline="central" stroke="#1e1e1e" stroke-width="0.18">#4</text>
<rect x="459" y="263.8" width="6.6" height="25" fill="#5e8ca6"/>
<rect x="466" y="239.3" width="6.6" height="49.5" fill="#d08c62"/>
<line x1="462.3" y1="261.3" x2="462.3" y2="266.3" stroke="#333" stroke-width="0.8"/>
<line x1="460.5" y1="261.3" x2="464.1" y2="261.3" stroke="#333" stroke-width="0.8"/>
<line x1="460.5" y1="266.3" x2="464.1" y2="266.3" stroke="#333" stroke-width="0.8"/>
<line x1="469.3" y1="238.05" x2="469.3" y2="240.55" stroke="#333" stroke-width="0.8"/>
<line x1="467.5" y1="238.05" x2="471.1" y2="238.05" stroke="#333" stroke-width="0.8"/>
<line x1="467.5" y1="240.55" x2="471.1" y2="240.55" stroke="#333" stroke-width="0.8"/>
<text x="469.3" y="240.37" font-size="11" text-anchor="middle" fill="#444" dominant-baseline="auto" stroke="#444" stroke-width="0.25">***</text>
<line x1="465.8" y1="288.8" x2="465.8" y2="291.3" stroke="#555" stroke-width="0.9"/>
<text x="465.8" y="299.4" font-size="9.3" text-anchor="middle" dominant-baseline="central" stroke="#1e1e1e" stroke-width="0.18">#5</text>
<rect x="476" y="263.3" width="6.6" height="25.5" fill="#5e8ca6"/>
<rect x="483" y="208.8" width="6.6" height="80" fill="#d08c62"/>
<line x1="479.3" y1="255.8" x2="479.3" y2="270.8" stroke="#333" stroke-width="0.8"/>
<line x1="477.5" y1="255.8" x2="481.1" y2="255.8" stroke="#333" stroke-width="0.8"/>
<line x1="477.5" y1="270.8" x2="481.1" y2="270.8" stroke="#333" stroke-width="0.8"/>
<line x1="486.3" y1="206.3" x2="486.3" y2="211.3" stroke="#333" stroke-width="0.8"/>
<line x1="484.5" y1="206.3" x2="488.1" y2="206.3" stroke="#333" stroke-width="0.8"/>
<line x1="484.5" y1="211.3" x2="488.1" y2="211.3" stroke="#333" stroke-width="0.8"/>
<text x="486.3" y="208.62" font-size="11" text-anchor="middle" fill="#444" dominant-baseline="auto" stroke="#444" stroke-width="0.25">***</text>
<line x1="482.8" y1="288.8" x2="482.8" y2="291.3" stroke="#555" stroke-width="0.9"/>
<text x="482.8" y="299.4" font-size="9.3" text-anchor="middle" dominant-baseline="central" stroke="#1e1e1e" stroke-width="0.18">#6</text>
<text x="565.2" y="177.8" font-size="9.3" text-anchor="middle" dominant-baseline="central" stroke="#1e1e1e" stroke-width="0.18">#1</text>
<line x1="550.2" y1="182.5" x2="576.9" y2="182.5" stroke="#444" stroke-width="0.8"/>
<text x="597" y="177.8" font-size="9.3" text-anchor="middle" dominant-baseline="central" stroke="#1e1e1e" stroke-width="0.18">#2</text>
<line x1="582.2" y1="182.5" x2="607.9" y2="182.5" stroke="#444" stroke-width="0.8"/>
<text x="627.8" y="177.8" font-size="9.3" text-anchor="middle" dominant-baseline="central" stroke="#1e1e1e" stroke-width="0.18">#3</text>
<line x1="613.8" y1="182.5" x2="639.9" y2="182.5" stroke="#444" stroke-width="0.8"/>
<text x="556.5" y="191.9" font-size="9.3" text-anchor="middle" dominant-baseline="central" stroke="#1e1e1e" stroke-width="0.18">N</text>
<text x="572.9" y="191.9" font-size="9.3" text-anchor="middle" dominant-baseline="central" stroke="#1e1e1e" stroke-width="0.18">T</text>
<text x="586.9" y="191.9" font-size="9.3" text-anchor="middle" dominant-baseline="central" stroke="#1e1e1e" stroke-width="0.18">N</text>
<text x="602.8" y="191.9" font-size="9.3" text-anchor="middle" dominant-baseline="central" stroke="#1e1e1e" stroke-width="0.18">T</text>
<text x="619.1" y="191.9" font-size="9.3" text-anchor="middle" dominant-baseline="central" stroke="#1e1e1e" stroke-width="0.18">N</text>
<text x="635.3" y="191.9" font-size="9.3" text-anchor="middle" dominant-baseline="central" stroke="#1e1e1e" stroke-width="0.18">T</text>
<text x="648.8" y="191.9" font-size="9.2" dominant-baseline="central" stroke="#1e1e1e" stroke-width="0.18">kDa</text>
<rect x="546.5" y="197.7" width="101.1" height="15.7" fill="#ececec" stroke="#333" stroke-width="0.8"/>
<rect x="550.88" y="204.23" width="11.25" height="2.63" rx="1.32" fill="#111" fill-opacity="0.65" filter="url(#bl)"/>
<rect x="566.77" y="203.93" width="12.25" height="3.25" rx="1.62" fill="#111" fill-opacity="0.97" filter="url(#bl)"/>
<rect x="581.52" y="204.39" width="10.75" height="2.33" rx="1.16" fill="#111" fill-opacity="0.49" filter="url(#bl)"/>
<rect x="596.61" y="203.89" width="12.38" height="3.32" rx="1.66" fill="#111" fill-opacity="1" filter="url(#bl)"/>
<rect x="613.35" y="204.16" width="11.5" height="2.79" rx="1.39" fill="#111" fill-opacity="0.73" filter="url(#bl)"/>
<rect x="629.05" y="203.85" width="12.5" height="3.4" rx="1.7" fill="#111" fill-opacity="1" filter="url(#bl)"/>
<rect x="546.5" y="215.2" width="101.1" height="16.4" fill="#ececec" stroke="#333" stroke-width="0.8"/>
<rect x="549.75" y="221.2" width="13.5" height="4.4" rx="2.2" fill="#111" fill-opacity="1" filter="url(#bl)"/>
<rect x="566.15" y="221.2" width="13.5" height="4.4" rx="2.2" fill="#111" fill-opacity="1" filter="url(#bl)"/>
<rect x="580.15" y="221.2" width="13.5" height="4.4" rx="2.2" fill="#111" fill-opacity="1" filter="url(#bl)"/>
<rect x="596.05" y="221.2" width="13.5" height="4.4" rx="2.2" fill="#111" fill-opacity="1" filter="url(#bl)"/>
<rect x="612.35" y="221.2" width="13.5" height="4.4" rx="2.2" fill="#111" fill-opacity="1" filter="url(#bl)"/>
<rect x="628.55" y="221.2" width="13.5" height="4.4" rx="2.2" fill="#111" fill-opacity="1" filter="url(#bl)"/>
<line x1="647.6" y1="208.2" x2="650.2" y2="208.2" stroke="#333" stroke-width="0.8"/>
<text x="650.8" y="208.2" font-size="9.2" dominant-baseline="central" stroke="#1e1e1e" stroke-width="0.18">35</text>
<line x1="647.6" y1="226.9" x2="650.2" y2="226.9" stroke="#333" stroke-width="0.8"/>
<text x="650.8" y="226.9" font-size="9.2" dominant-baseline="central" stroke="#1e1e1e" stroke-width="0.18">40</text>
<text x="543" y="206" font-size="9.2" text-anchor="end" dominant-baseline="central" stroke="#1e1e1e" stroke-width="0.18">JAB1</text>
<text x="543.5" y="222.8" font-size="9.2" text-anchor="end" dominant-baseline="central" stroke="#1e1e1e" stroke-width="0.18">β-actin</text>
<text x="565.2" y="244.4" font-size="9.3" text-anchor="middle" dominant-baseline="central" stroke="#1e1e1e" stroke-width="0.18">#4</text>
<line x1="550.2" y1="249.6" x2="576.9" y2="249.6" stroke="#444" stroke-width="0.8"/>
<text x="597" y="244.4" font-size="9.3" text-anchor="middle" dominant-baseline="central" stroke="#1e1e1e" stroke-width="0.18">#5</text>
<line x1="582.2" y1="249.6" x2="607.9" y2="249.6" stroke="#444" stroke-width="0.8"/>
<text x="627.8" y="244.4" font-size="9.3" text-anchor="middle" dominant-baseline="central" stroke="#1e1e1e" stroke-width="0.18">#6</text>
<line x1="613.8" y1="249.6" x2="639.9" y2="249.6" stroke="#444" stroke-width="0.8"/>
<text x="556.5" y="258.4" font-size="9.3" text-anchor="middle" dominant-baseline="central" stroke="#1e1e1e" stroke-width="0.18">N</text>
<text x="572.9" y="258.4" font-size="9.3" text-anchor="middle" dominant-baseline="central" stroke="#1e1e1e" stroke-width="0.18">T</text>
<text x="586.9" y="258.4" font-size="9.3" text-anchor="middle" dominant-baseline="central" stroke="#1e1e1e" stroke-width="0.18">N</text>
<text x="602.8" y="258.4" font-size="9.3" text-anchor="middle" dominant-baseline="central" stroke="#1e1e1e" stroke-width="0.18">T</text>
<text x="619.1" y="258.4" font-size="9.3" text-anchor="middle" dominant-baseline="central" stroke="#1e1e1e" stroke-width="0.18">N</text>
<text x="635.3" y="258.4" font-size="9.3" text-anchor="middle" dominant-baseline="central" stroke="#1e1e1e" stroke-width="0.18">T</text>
<text x="648.8" y="258.4" font-size="9.2" dominant-baseline="central" stroke="#1e1e1e" stroke-width="0.18">kDa</text>
<rect x="546.5" y="265" width="101.1" height="15.2" fill="#ececec" stroke="#333" stroke-width="0.8"/>
<rect x="551.12" y="271.44" width="10.75" height="2.33" rx="1.16" fill="#111" fill-opacity="0.49" filter="url(#bl)"/>
<rect x="566.65" y="270.9" width="12.5" height="3.4" rx="1.7" fill="#111" fill-opacity="1" filter="url(#bl)"/>
<rect x="581.09" y="271.17" width="11.62" height="2.86" rx="1.43" fill="#111" fill-opacity="0.77" filter="url(#bl)"/>
<rect x="596.74" y="271.01" width="12.13" height="3.17" rx="1.59" fill="#111" fill-opacity="0.93" filter="url(#bl)"/>
<rect x="613.6" y="271.36" width="11" height="2.48" rx="1.24" fill="#111" fill-opacity="0.57" filter="url(#bl)"/>
<rect x="629.24" y="271.01" width="12.13" height="3.17" rx="1.59" fill="#111" fill-opacity="0.93" filter="url(#bl)"/>
<rect x="546.5" y="282.3" width="101.1" height="15.8" fill="#ececec" stroke="#333" stroke-width="0.8"/>
<rect x="549.75" y="288" width="13.5" height="4.4" rx="2.2" fill="#111" fill-opacity="1" filter="url(#bl)"/>
<rect x="566.55" y="288.3" width="12.69" height="3.81" rx="1.9" fill="#111" fill-opacity="0.81" filter="url(#bl)"/>
<rect x="580.15" y="288" width="13.5" height="4.4" rx="2.2" fill="#111" fill-opacity="1" filter="url(#bl)"/>
<rect x="596.12" y="288.05" width="13.37" height="4.3" rx="2.15" fill="#111" fill-opacity="1" filter="url(#bl)"/>
<rect x="612.49" y="288.1" width="13.23" height="4.2" rx="2.1" fill="#111" fill-opacity="0.97" filter="url(#bl)"/>
<rect x="628.68" y="288.1" width="13.23" height="4.2" rx="2.1" fill="#111" fill-opacity="0.97" filter="url(#bl)"/>
<line x1="647.6" y1="275.5" x2="650.2" y2="275.5" stroke="#333" stroke-width="0.8"/>
<text x="650.8" y="275.5" font-size="9.2" dominant-baseline="central" stroke="#1e1e1e" stroke-width="0.18">35</text>
<line x1="647.6" y1="293.5" x2="650.2" y2="293.5" stroke="#333" stroke-width="0.8"/>
<text x="650.8" y="293.5" font-size="9.2" dominant-baseline="central" stroke="#1e1e1e" stroke-width="0.18">40</text>
<text x="543" y="275.5" font-size="9.2" text-anchor="end" dominant-baseline="central" stroke="#1e1e1e" stroke-width="0.18">JAB1</text>
<text x="543.5" y="291.9" font-size="9.2" text-anchor="end" dominant-baseline="central" stroke="#1e1e1e" stroke-width="0.18">β-actin</text>
<text x="3.9" y="320.2" font-size="9.5" dominant-baseline="central" stroke="#1e1e1e" stroke-width="0.18">E</text>
<text x="57.1" y="324.9" font-size="9.3" text-anchor="middle" dominant-baseline="central" stroke="#1e1e1e" stroke-width="0.18">siNC</text>
<text x="101.6" y="324.9" font-size="9.3" text-anchor="middle" dominant-baseline="central" stroke="#1e1e1e" stroke-width="0.18">siJAB1-2</text>
<rect x="32.4" y="330.2" width="44.6" height="8.2" fill="#e8807e"/>
<rect x="77" y="330.2" width="44.9" height="8.2" fill="#6dcfc7"/>
<text x="124" y="334.6" font-size="9.3" dominant-baseline="central" stroke="#1e1e1e" stroke-width="0.18">Group</text>
<g filter="url(#hb)">
<rect x="32.4" y="341" width="14.95" height="1.05" fill="#d69bab"/>
<rect x="32.4" y="342" width="14.95" height="2.05" fill="#c57087"/>
<rect x="32.4" y="344" width="14.95" height="1.05" fill="#d394a5"/>
<rect x="32.4" y="345" width="14.95" height="1.05" fill="#daa4b3"/>
<rect x="32.4" y="346" width="14.95" height="1.05" fill="#e8c6d0"/>
<rect x="32.4" y="347" width="14.95" height="2.05" fill="#dfb0bd"/>
<rect x="32.4" y="349" width="14.95" height="1.05" fill="#ddacba"/>
<rect x="32.4" y="350" width="14.95" height="2.05" fill="#ebced6"/>
<rect x="32.4" y="352" width="14.95" height="1.05" fill="#f9eff2"/>
<rect x="32.4" y="353" width="14.95" height="2.05" fill="#eff0f8"/>
<rect x="32.4" y="355" width="14.95" height="2.05" fill="#d291a3"/>
<rect x="32.4" y="357" width="14.95" height="2.05" fill="#d79eae"/>
<rect x="32.4" y="359" width="14.95" height="2.05" fill="#deadbb"/>
<rect x="32.4" y="361" width="14.95" height="1.05" fill="#cc8397"/>
<rect x="32.4" y="362" width="14.95" height="2.05" fill="#ca7e93"/>
<rect x="32.4" y="364" width="14.95" height="1.05" fill="#dba7b6"/>
<rect x="32.4" y="365" width="14.95" height="1.05" fill="#c87a8f"/>
<rect x="32.4" y="366" width="14.95" height="2.05" fill="#ba5771"/>
<rect x="32.4" y="368" width="14.95" height="1.05" fill="#d497a7"/>
<rect x="32.4" y="369" width="14.95" height="2.05" fill="#e9c9d2"/>
<rect x="32.4" y="371" width="14.95" height="1.05" fill="#e2b8c4"/>
<rect x="32.4" y="372" width="14.95" height="2.05" fill="#e0b4c0"/>
<rect x="32.4" y="374" width="14.95" height="1.05" fill="#dba8b6"/>
<rect x="32.4" y="375" width="14.95" height="2.05" fill="#d08b9e"/>
<rect x="32.4" y="377" width="14.95" height="1.05" fill="#ebcfd7"/>
<rect x="32.4" y="378" width="14.95" height="1.05" fill="#e3bac5"/>
<rect x="32.4" y="379" width="14.95" height="1.05" fill="#d496a7"/>
<rect x="32.4" y="380" width="14.95" height="1.05" fill="#eacbd3"/>
<rect x="32.4" y="381" width="14.95" height="1.05" fill="#e9c8d1"/>
<rect x="32.4" y="382" width="14.95" height="1.05" fill="#e0b3c0"/>
<rect x="32.4" y="383" width="14.95" height="1.05" fill="#dba8b6"/>
<rect x="32.4" y="384" width="14.95" height="1.05" fill="#ebcfd7"/>
<rect x="32.4" y="385" width="14.95" height="2.05" fill="#f4f4fa"/>
<rect x="32.4" y="387" width="14.95" height="2.05" fill="#d89fae"/>
<rect x="32.4" y="389" width="14.95" height="2.05" fill="#deadba"/>
<rect x="32.4" y="391" width="14.95" height="2.05" fill="#daa5b4"/>
<rect x="32.4" y="393" width="14.95" height="1.05" fill="#e7c4ce"/>
<rect x="32.4" y="394" width="14.95" height="1.05" fill="#c0647d"/>
<rect x="32.4" y="395" width="14.95" height="2.05" fill="#c67389"/>
<rect x="32.4" y="397" width="14.95" height="1.05" fill="#e0b2bf"/>
<rect x="32.4" y="398" width="14.95" height="1.05" fill="#d394a5"/>
<rect x="32.4" y="399" width="14.95" height="1.05" fill="#e8c7d0"/>
<rect x="32.4" y="400" width="14.95" height="2.05" fill="#deaebb"/>
<rect x="32.4" y="402" width="14.95" height="2.05" fill="#f0dae1"/>
<rect x="32.4" y="404" width="14.95" height="1.05" fill="#d598a8"/>
<rect x="32.4" y="405" width="14.95" height="2.05" fill="#ebecf6"/>
<rect x="32.4" y="407" width="14.95" height="2.05" fill="#f8eef1"/>
<rect x="32.4" y="409" width="14.95" height="1.05" fill="#d89fae"/>
<rect x="32.4" y="410" width="14.95" height="1.05" fill="#dba6b4"/>
<rect x="32.4" y="411" width="14.95" height="2.05" fill="#daa4b3"/>
<rect x="32.4" y="413" width="14.95" height="1.05" fill="#ebcdd5"/>
<rect x="32.4" y="414" width="14.95" height="2.05" fill="#e0b3bf"/>
<rect x="32.4" y="416" width="14.95" height="2.05" fill="#c26981"/>
<rect x="32.4" y="418" width="14.95" height="1.05" fill="#b54966"/>
<rect x="32.4" y="419" width="14.95" height="1.05" fill="#c26a82"/>
<rect x="32.4" y="420" width="14.95" height="1.05" fill="#d598a9"/>
<rect x="32.4" y="421" width="14.95" height="1.05" fill="#d599a9"/>
<rect x="32.4" y="422" width="14.95" height="1.05" fill="#bb5973"/>
<rect x="32.4" y="423" width="14.95" height="1.05" fill="#cb7f94"/>
<rect x="32.4" y="424" width="14.95" height="1.05" fill="#ca7e93"/>
<rect x="32.4" y="425" width="14.95" height="2.05" fill="#d292a3"/>
<rect x="32.4" y="427" width="14.95" height="1.05" fill="#d292a3"/>
<rect x="32.4" y="428" width="14.95" height="1.05" fill="#cc8296"/>
<rect x="32.4" y="429" width="14.95" height="2.05" fill="#e2b7c3"/>
<rect x="32.4" y="431" width="14.95" height="2.05" fill="#d18ea0"/>
<rect x="32.4" y="433" width="14.95" height="1.05" fill="#e2b9c4"/>
<rect x="32.4" y="434" width="14.95" height="1.05" fill="#d393a4"/>
<rect x="32.4" y="435" width="14.95" height="2.05" fill="#cb7f93"/>
<rect x="32.4" y="437" width="14.95" height="1.05" fill="#d9a1b0"/>
<rect x="32.4" y="438" width="14.95" height="1.05" fill="#d393a5"/>
<rect x="32.4" y="439" width="14.95" height="1.05" fill="#c26a82"/>
<rect x="32.4" y="440" width="14.95" height="1.05" fill="#c26a82"/>
<rect x="32.4" y="441" width="14.95" height="1.05" fill="#d496a7"/>
<rect x="32.4" y="442" width="14.95" height="2.05" fill="#c26b82"/>
<rect x="32.4" y="444" width="14.95" height="1.05" fill="#c97c91"/>
<rect x="32.4" y="445" width="14.95" height="1.05" fill="#f6e8ec"/>
<rect x="32.4" y="446" width="14.95" height="2.05" fill="#e6e6f3"/>
<rect x="32.4" y="448" width="14.95" height="2.05" fill="#e5e5f3"/>
<rect x="32.4" y="450" width="14.95" height="2.05" fill="#d1d2ea"/>
<rect x="32.4" y="452" width="14.95" height="2.05" fill="#9196cd"/>
<rect x="32.4" y="454" width="14.95" height="1.05" fill="#8085c5"/>
<rect x="32.4" y="455" width="14.95" height="2.05" fill="#8d92cb"/>
<rect x="32.4" y="457" width="14.95" height="1.05" fill="#9ea2d3"/>
<rect x="32.4" y="458" width="14.95" height="2.05" fill="#8085c5"/>
<rect x="32.4" y="460" width="14.95" height="2.05" fill="#9fa3d3"/>
<rect x="32.4" y="462" width="14.95" height="1.05" fill="#c1c4e3"/>
<rect x="32.4" y="463" width="14.95" height="1.05" fill="#b2b5dc"/>
<rect x="32.4" y="464" width="14.95" height="2.05" fill="#afb2da"/>
<rect x="32.4" y="466" width="14.95" height="1.05" fill="#abaed8"/>
<rect x="32.4" y="467" width="14.95" height="2.05" fill="#959ace"/>
<rect x="32.4" y="469" width="14.95" height="1.05" fill="#dcddef"/>
<rect x="32.4" y="470" width="14.95" height="1.05" fill="#e9e9f5"/>
<rect x="32.4" y="471" width="14.95" height="1.05" fill="#dcddef"/>
<rect x="32.4" y="472" width="14.95" height="2.05" fill="#a7abd7"/>
<rect x="32.4" y="474" width="14.95" height="2.05" fill="#c5c8e5"/>
<rect x="32.4" y="476" width="14.95" height="2.05" fill="#c9cbe6"/>
<rect x="32.4" y="478" width="14.95" height="1.05" fill="#b5b7dd"/>
<rect x="32.4" y="479" width="14.95" height="2.05" fill="#b1b4db"/>
<rect x="32.4" y="481" width="14.95" height="2.05" fill="#8b90ca"/>
<rect x="32.4" y="483" width="14.95" height="1.05" fill="#7e84c4"/>
<rect x="32.4" y="484" width="14.95" height="1.05" fill="#9599ce"/>
<rect x="32.4" y="485" width="14.95" height="1.05" fill="#8c90ca"/>
<rect x="32.4" y="486" width="14.95" height="2.05" fill="#6067b6"/>
<rect x="32.4" y="488" width="14.95" height="1.05" fill="#9a9ed0"/>
<rect x="32.4" y="489" width="14.95" height="1.05" fill="#7076bd"/>
<rect x="32.4" y="490" width="14.95" height="1.05" fill="#8287c5"/>
<rect x="32.4" y="491" width="14.95" height="2.05" fill="#898ec9"/>
<rect x="32.4" y="493" width="14.95" height="1.05" fill="#9397cd"/>
<rect x="32.4" y="494" width="14.95" height="1.05" fill="#abaed8"/>
<rect x="32.4" y="495" width="14.95" height="1.05" fill="#8388c6"/>
<rect x="32.4" y="496" width="14.95" height="2.05" fill="#8d92cb"/>
<rect x="32.4" y="498" width="14.95" height="2.05" fill="#dcdeef"/>
<rect x="32.4" y="500" width="14.95" height="1.05" fill="#d3d5eb"/>
<rect x="32.4" y="501" width="14.95" height="1.05" fill="#dddeef"/>
<rect x="32.4" y="502" width="14.95" height="1.05" fill="#c0c2e2"/>
<rect x="32.4" y="503" width="14.95" height="2.05" fill="#e3e4f2"/>
<rect x="32.4" y="505" width="14.95" height="1.05" fill="#d3d5eb"/>
<rect x="32.4" y="506" width="14.95" height="2.05" fill="#9297cd"/>
<rect x="32.4" y="508" width="14.95" height="2.05" fill="#9499ce"/>
<rect x="32.4" y="510" width="14.95" height="2.05" fill="#8288c6"/>
<rect x="32.4" y="512" width="14.95" height="1.05" fill="#6c73bc"/>
<rect x="32.4" y="513" width="14.95" height="1.05" fill="#7a7fc2"/>
<rect x="32.4" y="514" width="14.95" height="2.05" fill="#8a8fc9"/>
<rect x="32.4" y="516" width="14.95" height="1.05" fill="#b5b8dd"/>
<rect x="32.4" y="517" width="14.95" height="2.05" fill="#b5b8dd"/>
<rect x="32.4" y="519" width="14.95" height="1.05" fill="#b6b9de"/>
<rect x="32.4" y="520" width="14.95" height="2.05" fill="#aaadd8"/>
<rect x="32.4" y="522" width="14.95" height="2.05" fill="#b7bade"/>
<rect x="32.4" y="524" width="14.95" height="1.05" fill="#c6c8e5"/>
<rect x="32.4" y="525" width="14.95" height="1.05" fill="#babcdf"/>
<rect x="32.4" y="526" width="14.95" height="2.05" fill="#d1d3ea"/>
<rect x="32.4" y="528" width="14.95" height="1.05" fill="#b6b9de"/>
<rect x="32.4" y="529" width="14.95" height="2.05" fill="#c5c7e4"/>
<rect x="32.4" y="531" width="14.95" height="2.05" fill="#9498ce"/>
<rect x="32.4" y="533" width="14.95" height="1.05" fill="#c8cae6"/>
<rect x="32.4" y="534" width="14.95" height="1.05" fill="#9ea2d2"/>
<rect x="32.4" y="535" width="14.95" height="2.05" fill="#888dc8"/>
<rect x="32.4" y="537" width="14.95" height="2.05" fill="#d1d3ea"/>
<rect x="32.4" y="539" width="14.95" height="2.05" fill="#bec0e1"/>
<rect x="32.4" y="541" width="14.95" height="1.05" fill="#abafd9"/>
<rect x="32.4" y="542" width="14.95" height="2.05" fill="#b0b3db"/>
<rect x="32.4" y="544" width="14.95" height="2.05" fill="#bfc2e2"/>
<rect x="32.4" y="546" width="14.95" height="2.05" fill="#8e93cb"/>
<rect x="32.4" y="548" width="14.95" height="2.05" fill="#6a71bb"/>
<rect x="32.4" y="550" width="14.95" height="2.05" fill="#898ec9"/>
<rect x="32.4" y="552" width="14.95" height="2.05" fill="#6b72bb"/>
<rect x="32.4" y="554" width="14.95" height="2.05" fill="#878cc8"/>
<rect x="47.3" y="341" width="14.95" height="1.05" fill="#e1b6c2"/>
<rect x="47.3" y="342" width="14.95" height="1.05" fill="#e7c4cd"/>
<rect x="47.3" y="343" width="14.95" height="2.05" fill="#e8c7d1"/>
<rect x="47.3" y="345" width="14.95" height="1.05" fill="#d79dad"/>
<rect x="47.3" y="346" width="14.95" height="1.05" fill="#bdbfe1"/>
<rect x="47.3" y="347" width="14.95" height="2.05" fill="#f2dee4"/>
<rect x="47.3" y="349" width="14.95" height="2.05" fill="#f0dbe1"/>
<rect x="47.3" y="351" width="14.95" height="2.05" fill="#f2dfe5"/>
<rect x="47.3" y="353" width="14.95" height="1.05" fill="#dfb1be"/>
<rect x="47.3" y="354" width="14.95" height="2.05" fill="#d8a1b0"/>
<rect x="47.3" y="356" width="14.95" height="2.05" fill="#d79dac"/>
<rect x="47.3" y="358" width="14.95" height="2.05" fill="#e1b6c2"/>
<rect x="47.3" y="360" width="14.95" height="1.05" fill="#e6c2cc"/>
<rect x="47.3" y="361" width="14.95" height="2.05" fill="#e4bdc8"/>
<rect x="47.3" y="363" width="14.95" height="1.05" fill="#e0e1f1"/>
<rect x="47.3" y="364" width="14.95" height="2.05" fill="#edd2da"/>
<rect x="47.3" y="366" width="14.95" height="2.05" fill="#ebced6"/>
<rect x="47.3" y="368" width="14.95" height="2.05" fill="#dfe0f0"/>
<rect x="47.3" y="370" width="14.95" height="1.05" fill="#ecd0d8"/>
<rect x="47.3" y="371" width="14.95" height="2.05" fill="#d495a6"/>
<rect x="47.3" y="373" width="14.95" height="1.05" fill="#edd2da"/>
<rect x="47.3" y="374" width="14.95" height="2.05" fill="#e7c4cd"/>
<rect x="47.3" y="376" width="14.95" height="1.05" fill="#e4bcc7"/>
<rect x="47.3" y="377" width="14.95" height="1.05" fill="#f1dde3"/>
<rect x="47.3" y="378" width="14.95" height="1.05" fill="#e0e1f1"/>
<rect x="47.3" y="379" width="14.95" height="1.05" fill="#ddacb9"/>
<rect x="47.3" y="380" width="14.95" height="1.05" fill="#dcaab8"/>
<rect x="47.3" y="381" width="14.95" height="1.05" fill="#e4bcc7"/>
<rect x="47.3" y="382" width="14.95" height="1.05" fill="#f6e8ec"/>
<rect x="47.3" y="383" width="14.95" height="1.05" fill="#d08b9e"/>
<rect x="47.3" y="384" width="14.95" height="2.05" fill="#e5bec9"/>
<rect x="47.3" y="386" width="14.95" height="2.05" fill="#cd8498"/>
<rect x="47.3" y="388" width="14.95" height="1.05" fill="#bb5772"/>
<rect x="47.3" y="389" width="14.95" height="2.05" fill="#d393a4"/>
<rect x="47.3" y="391" width="14.95" height="1.05" fill="#bc5b75"/>
<rect x="47.3" y="392" width="14.95" height="2.05" fill="#b44764"/>
<rect x="47.3" y="394" width="14.95" height="1.05" fill="#cf899c"/>
<rect x="47.3" y="395" width="14.95" height="2.05" fill="#bc5b75"/>
<rect x="47.3" y="397" width="14.95" height="2.05" fill="#d79dad"/>
<rect x="47.3" y="399" width="14.95" height="1.05" fill="#cd8599"/>
<rect x="47.3" y="400" width="14.95" height="2.05" fill="#cd8598"/>
<rect x="47.3" y="402" width="14.95" height="1.05" fill="#d292a3"/>
<rect x="47.3" y="403" width="14.95" height="1.05" fill="#e5bec9"/>
<rect x="47.3" y="404" width="14.95" height="2.05" fill="#d18da0"/>
<rect x="47.3" y="406" width="14.95" height="2.05" fill="#d18fa1"/>
<rect x="47.3" y="408" width="14.95" height="1.05" fill="#d89fae"/>
<rect x="47.3" y="409" width="14.95" height="2.05" fill="#ebced6"/>
<rect x="47.3" y="411" width="14.95" height="2.05" fill="#d69aaa"/>
<rect x="47.3" y="413" width="14.95" height="2.05" fill="#d69aaa"/>
<rect x="47.3" y="415" width="14.95" height="2.05" fill="#ddacb9"/>
<rect x="47.3" y="417" width="14.95" height="1.05" fill="#ce869a"/>
<rect x="47.3" y="418" width="14.95" height="1.05" fill="#e4bcc7"/>
<rect x="47.3" y="419" width="14.95" height="2.05" fill="#d597a8"/>
<rect x="47.3" y="421" width="14.95" height="1.05" fill="#dfb1be"/>
<rect x="47.3" y="422" width="14.95" height="2.05" fill="#dca9b7"/>
<rect x="47.3" y="424" width="14.95" height="2.05" fill="#dba7b5"/>
<rect x="47.3" y="426" width="14.95" height="2.05" fill="#d9a2b1"/>
<rect x="47.3" y="428" width="14.95" height="1.05" fill="#bd5d77"/>
<rect x="47.3" y="429" width="14.95" height="2.05" fill="#d79dad"/>
<rect x="47.3" y="431" width="14.95" height="2.05" fill="#f3e0e6"/>
<rect x="47.3" y="433" width="14.95" height="2.05" fill="#c97b90"/>
<rect x="47.3" y="435" width="14.95" height="1.05" fill="#ce889b"/>
<rect x="47.3" y="436" width="14.95" height="1.05" fill="#d08c9f"/>
<rect x="47.3" y="437" width="14.95" height="2.05" fill="#d292a3"/>
<rect x="47.3" y="439" width="14.95" height="2.05" fill="#cd8498"/>
<rect x="47.3" y="441" width="14.95" height="2.05" fill="#e2b7c3"/>
<rect x="47.3" y="443" width="14.95" height="1.05" fill="#ca7d91"/>
<rect x="47.3" y="444" width="14.95" height="1.05" fill="#d9a3b2"/>
<rect x="47.3" y="445" width="14.95" height="1.05" fill="#b2b5db"/>
<rect x="47.3" y="446" width="14.95" height="2.05" fill="#ced0e9"/>
<rect x="47.3" y="448" width="14.95" height="2.05" fill="#e7e8f4"/>
<rect x="47.3" y="450" width="14.95" height="2.05" fill="#eed5dc"/>
<rect x="47.3" y="452" width="14.95" height="2.05" fill="#e8e8f4"/>
<rect x="47.3" y="454" width="14.95" height="1.05" fill="#f9eff2"/>
<rect x="47.3" y="455" width="14.95" height="1.05" fill="#b5b8dd"/>
<rect x="47.3" y="456" width="14.95" height="1.05" fill="#b3b6dc"/>
<rect x="47.3" y="457" width="14.95" height="1.05" fill="#b9bcdf"/>
<rect x="47.3" y="458" width="14.95" height="2.05" fill="#d2d3ea"/>
<rect x="47.3" y="460" width="14.95" height="2.05" fill="#d8d9ed"/>
<rect x="47.3" y="462" width="14.95" height="1.05" fill="#a2a6d4"/>
<rect x="47.3" y="463" width="14.95" height="1.05" fill="#babcdf"/>
<rect x="47.3" y="464" width="14.95" height="1.05" fill="#c6c9e5"/>
<rect x="47.3" y="465" width="14.95" height="1.05" fill="#aeb1da"/>
<rect x="47.3" y="466" width="14.95" height="2.05" fill="#a5a9d6"/>
<rect x="47.3" y="468" width="14.95" height="2.05" fill="#9b9fd1"/>
<rect x="47.3" y="470" width="14.95" height="2.05" fill="#878cc8"/>
<rect x="47.3" y="472" width="14.95" height="2.05" fill="#9297cd"/>
<rect x="47.3" y="474" width="14.95" height="2.05" fill="#7076bd"/>
<rect x="47.3" y="476" width="14.95" height="1.05" fill="#a5a8d5"/>
<rect x="47.3" y="477" width="14.95" height="1.05" fill="#979bcf"/>
<rect x="47.3" y="478" width="14.95" height="1.05" fill="#a2a6d4"/>
<rect x="47.3" y="479" width="14.95" height="2.05" fill="#a5a9d6"/>
<rect x="47.3" y="481" width="14.95" height="2.05" fill="#7076bd"/>
<rect x="47.3" y="483" width="14.95" height="1.05" fill="#acb0d9"/>
<rect x="47.3" y="484" width="14.95" height="1.05" fill="#8f94cc"/>
<rect x="47.3" y="485" width="14.95" height="1.05" fill="#9599ce"/>
<rect x="47.3" y="486" width="14.95" height="2.05" fill="#9ea2d2"/>
<rect x="47.3" y="488" width="14.95" height="1.05" fill="#959ace"/>
<rect x="47.3" y="489" width="14.95" height="2.05" fill="#8287c6"/>
<rect x="47.3" y="491" width="14.95" height="1.05" fill="#a8abd7"/>
<rect x="47.3" y="492" width="14.95" height="2.05" fill="#8f94cc"/>
<rect x="47.3" y="494" width="14.95" height="1.05" fill="#9297cd"/>
<rect x="47.3" y="495" width="14.95" height="1.05" fill="#9a9ed1"/>
<rect x="47.3" y="496" width="14.95" height="1.05" fill="#b8bbde"/>
<rect x="47.3" y="497" width="14.95" height="2.05" fill="#c6c8e5"/>
<rect x="47.3" y="499" width="14.95" height="1.05" fill="#a7aad6"/>
<rect x="47.3" y="500" width="14.95" height="1.05" fill="#888dc8"/>
<rect x="47.3" y="501" width="14.95" height="1.05" fill="#cdcfe8"/>
<rect x="47.3" y="502" width="14.95" height="2.05" fill="#959ace"/>
<rect x="47.3" y="504" width="14.95" height="1.05" fill="#a9add8"/>
<rect x="47.3" y="505" width="14.95" height="2.05" fill="#d4d6eb"/>
<rect x="47.3" y="507" width="14.95" height="1.05" fill="#a3a6d5"/>
<rect x="47.3" y="508" width="14.95" height="2.05" fill="#d2d3ea"/>
<rect x="47.3" y="510" width="14.95" height="1.05" fill="#8489c7"/>
<rect x="47.3" y="511" width="14.95" height="1.05" fill="#969bcf"/>
<rect x="47.3" y="512" width="14.95" height="2.05" fill="#a2a6d4"/>
<rect x="47.3" y="514" width="14.95" height="2.05" fill="#b0b3db"/>
<rect x="47.3" y="516" width="14.95" height="1.05" fill="#9ca1d2"/>
<rect x="47.3" y="517" width="14.95" height="2.05" fill="#a8abd7"/>
<rect x="47.3" y="519" width="14.95" height="2.05" fill="#bec1e1"/>
<rect x="47.3" y="521" width="14.95" height="1.05" fill="#bfc2e2"/>
<rect x="47.3" y="522" width="14.95" height="1.05" fill="#9499ce"/>
<rect x="47.3" y="523" width="14.95" height="2.05" fill="#9397cd"/>
<rect x="47.3" y="525" width="14.95" height="1.05" fill="#a3a7d5"/>
<rect x="47.3" y="526" width="14.95" height="2.05" fill="#babddf"/>
<rect x="47.3" y="528" width="14.95" height="2.05" fill="#989cd0"/>
<rect x="47.3" y="530" width="14.95" height="1.05" fill="#e8e8f4"/>
<rect x="47.3" y="531" width="14.95" height="2.05" fill="#9da1d2"/>
<rect x="47.3" y="533" width="14.95" height="1.05" fill="#b5b8dd"/>
<rect x="47.3" y="534" width="14.95" height="1.05" fill="#8489c6"/>
<rect x="47.3" y="535" width="14.95" height="2.05" fill="#8086c5"/>
<rect x="47.3" y="537" width="14.95" height="2.05" fill="#a0a4d3"/>
<rect x="47.3" y="539" width="14.95" height="2.05" fill="#f4e4e9"/>
<rect x="47.3" y="541" width="14.95" height="1.05" fill="#c6c8e5"/>
<rect x="47.3" y="542" width="14.95" height="2.05" fill="#a7abd7"/>
<rect x="47.3" y="544" width="14.95" height="2.05" fill="#a8acd7"/>
<rect x="47.3" y="546" width="14.95" height="1.05" fill="#b1b4db"/>
<rect x="47.3" y="547" width="14.95" height="1.05" fill="#9094cc"/>
<rect x="47.3" y="548" width="14.95" height="1.05" fill="#b6b9de"/>
<rect x="47.3" y="549" width="14.95" height="1.05" fill="#bbbee0"/>
<rect x="47.3" y="550" width="14.95" height="2.05" fill="#9fa3d3"/>
<rect x="47.3" y="552" width="14.95" height="1.05" fill="#8d92cb"/>
<rect x="47.3" y="553" width="14.95" height="2.05" fill="#9ca0d1"/>
<rect x="47.3" y="555" width="14.95" height="1.05" fill="#a4a8d5"/>
<rect x="62.2" y="341" width="14.95" height="1.05" fill="#c97b90"/>
<rect x="62.2" y="342" width="14.95" height="2.05" fill="#bb5873"/>
<rect x="62.2" y="344" width="14.95" height="1.05" fill="#b64d69"/>
<rect x="62.2" y="345" width="14.95" height="2.05" fill="#bf627b"/>
<rect x="62.2" y="347" width="14.95" height="1.05" fill="#b34462"/>
<rect x="62.2" y="348" width="14.95" height="2.05" fill="#c1667e"/>
<rect x="62.2" y="350" width="14.95" height="2.05" fill="#c36b83"/>
<rect x="62.2" y="352" width="14.95" height="2.05" fill="#c6748b"/>
<rect x="62.2" y="354" width="14.95" height="2.05" fill="#d69cac"/>
<rect x="62.2" y="356" width="14.95" height="2.05" fill="#c57188"/>
<rect x="62.2" y="358" width="14.95" height="2.05" fill="#c26981"/>
<rect x="62.2" y="360" width="14.95" height="1.05" fill="#c36c84"/>
<rect x="62.2" y="361" width="14.95" height="2.05" fill="#b1415f"/>
<rect x="62.2" y="363" width="14.95" height="2.05" fill="#b44865"/>
<rect x="62.2" y="365" width="14.95" height="1.05" fill="#c67389"/>
<rect x="62.2" y="366" width="14.95" height="1.05" fill="#c16880"/>
<rect x="62.2" y="367" width="14.95" height="2.05" fill="#b8506c"/>
<rect x="62.2" y="369" width="14.95" height="1.05" fill="#c7778d"/>
<rect x="62.2" y="370" width="14.95" height="1.05" fill="#c26a82"/>
<rect x="62.2" y="371" width="14.95" height="1.05" fill="#ca7d91"/>
<rect x="62.2" y="372" width="14.95" height="1.05" fill="#c57288"/>
<rect x="62.2" y="373" width="14.95" height="2.05" fill="#dcaab7"/>
<rect x="62.2" y="375" width="14.95" height="2.05" fill="#cd8497"/>
<rect x="62.2" y="377" width="14.95" height="1.05" fill="#c57087"/>
<rect x="62.2" y="378" width="14.95" height="1.05" fill="#b64d6a"/>
<rect x="62.2" y="379" width="14.95" height="2.05" fill="#b24361"/>
<rect x="62.2" y="381" width="14.95" height="1.05" fill="#ac3454"/>
<rect x="62.2" y="382" width="14.95" height="2.05" fill="#be5f78"/>
<rect x="62.2" y="384" width="14.95" height="1.05" fill="#dca9b7"/>
<rect x="62.2" y="385" width="14.95" height="2.05" fill="#d393a4"/>
<rect x="62.2" y="387" width="14.95" height="2.05" fill="#c67289"/>
<rect x="62.2" y="389" width="14.95" height="1.05" fill="#e5c0ca"/>
<rect x="62.2" y="390" width="14.95" height="2.05" fill="#d08c9f"/>
<rect x="62.2" y="392" width="14.95" height="1.05" fill="#ddacba"/>
<rect x="62.2" y="393" width="14.95" height="1.05" fill="#d393a4"/>
<rect x="62.2" y="394" width="14.95" height="2.05" fill="#d496a7"/>
<rect x="62.2" y="396" width="14.95" height="2.05" fill="#e5c0ca"/>
<rect x="62.2" y="398" width="14.95" height="1.05" fill="#e6e7f4"/>
<rect x="62.2" y="399" width="14.95" height="1.05" fill="#d6d7ec"/>
<rect x="62.2" y="400" width="14.95" height="2.05" fill="#dadbee"/>
<rect x="62.2" y="402" width="14.95" height="2.05" fill="#f0f0f8"/>
<rect x="62.2" y="404" width="14.95" height="2.05" fill="#e8c7d0"/>
<rect x="62.2" y="406" width="14.95" height="2.05" fill="#deaebc"/>
<rect x="62.2" y="408" width="14.95" height="1.05" fill="#eed5dc"/>
<rect x="62.2" y="409" width="14.95" height="1.05" fill="#f4e5e9"/>
<rect x="62.2" y="410" width="14.95" height="1.05" fill="#e9eaf5"/>
<rect x="62.2" y="411" width="14.95" height="1.05" fill="#eaccd4"/>
<rect x="62.2" y="412" width="14.95" height="1.05" fill="#eacbd4"/>
<rect x="62.2" y="413" width="14.95" height="2.05" fill="#f6e9ed"/>
<rect x="62.2" y="415" width="14.95" height="1.05" fill="#eaccd5"/>
<rect x="62.2" y="416" width="14.95" height="2.05" fill="#d08b9e"/>
<rect x="62.2" y="418" width="14.95" height="1.05" fill="#eed5dc"/>
<rect x="62.2" y="419" width="14.95" height="1.05" fill="#e9cad3"/>
<rect x="62.2" y="420" width="14.95" height="2.05" fill="#f4e4e9"/>
<rect x="62.2" y="422" width="14.95" height="2.05" fill="#cbcde7"/>
<rect x="62.2" y="424" width="14.95" height="2.05" fill="#c3c5e3"/>
<rect x="62.2" y="426" width="14.95" height="1.05" fill="#f4e5ea"/>
<rect x="62.2" y="427" width="14.95" height="2.05" fill="#e7c5cf"/>
<rect x="62.2" y="429" width="14.95" height="1.05" fill="#d597a8"/>
<rect x="62.2" y="430" width="14.95" height="1.05" fill="#e5c0ca"/>
<rect x="62.2" y="431" width="14.95" height="1.05" fill="#c7768c"/>
<rect x="62.2" y="432" width="14.95" height="2.05" fill="#d291a3"/>
<rect x="62.2" y="434" width="14.95" height="2.05" fill="#c46f86"/>
<rect x="62.2" y="436" width="14.95" height="1.05" fill="#ca7c91"/>
<rect x="62.2" y="437" width="14.95" height="2.05" fill="#e5bec9"/>
<rect x="62.2" y="439" width="14.95" height="2.05" fill="#d18fa1"/>
<rect x="62.2" y="441" width="14.95" height="1.05" fill="#f6eaee"/>
<rect x="62.2" y="442" width="14.95" height="1.05" fill="#f1dce2"/>
<rect x="62.2" y="443" width="14.95" height="2.05" fill="#efd8df"/>
<rect x="62.2" y="445" width="14.95" height="1.05" fill="#c0c3e2"/>
<rect x="62.2" y="446" width="14.95" height="2.05" fill="#a9add8"/>
<rect x="62.2" y="448" width="14.95" height="2.05" fill="#9fa3d3"/>
<rect x="62.2" y="450" width="14.95" height="1.05" fill="#9196cd"/>
<rect x="62.2" y="451" width="14.95" height="1.05" fill="#858ac7"/>
<rect x="62.2" y="452" width="14.95" height="1.05" fill="#9297cd"/>
<rect x="62.2" y="453" width="14.95" height="2.05" fill="#9a9ed1"/>
<rect x="62.2" y="455" width="14.95" height="2.05" fill="#9b9fd1"/>
<rect x="62.2" y="457" width="14.95" height="2.05" fill="#7d83c3"/>
<rect x="62.2" y="459" width="14.95" height="1.05" fill="#afb2da"/>
<rect x="62.2" y="460" width="14.95" height="1.05" fill="#a0a4d4"/>
<rect x="62.2" y="461" width="14.95" height="1.05" fill="#7b81c2"/>
<rect x="62.2" y="462" width="14.95" height="2.05" fill="#787ec1"/>
<rect x="62.2" y="464" width="14.95" height="1.05" fill="#6e74bc"/>
<rect x="62.2" y="465" width="14.95" height="1.05" fill="#898ec9"/>
<rect x="62.2" y="466" width="14.95" height="1.05" fill="#989dd0"/>
<rect x="62.2" y="467" width="14.95" height="1.05" fill="#b2b5dc"/>
<rect x="62.2" y="468" width="14.95" height="2.05" fill="#bdbfe0"/>
<rect x="62.2" y="470" width="14.95" height="2.05" fill="#c5c7e5"/>
<rect x="62.2" y="472" width="14.95" height="2.05" fill="#a2a6d4"/>
<rect x="62.2" y="474" width="14.95" height="1.05" fill="#8b90ca"/>
<rect x="62.2" y="475" width="14.95" height="2.05" fill="#777dc1"/>
<rect x="62.2" y="477" width="14.95" height="1.05" fill="#8388c6"/>
<rect x="62.2" y="478" width="14.95" height="2.05" fill="#6a70ba"/>
<rect x="62.2" y="480" width="14.95" height="2.05" fill="#9fa3d3"/>
<rect x="62.2" y="482" width="14.95" height="2.05" fill="#6a71bb"/>
<rect x="62.2" y="484" width="14.95" height="2.05" fill="#a4a8d5"/>
<rect x="62.2" y="486" width="14.95" height="1.05" fill="#8187c5"/>
<rect x="62.2" y="487" width="14.95" height="2.05" fill="#7f84c4"/>
<rect x="62.2" y="489" width="14.95" height="1.05" fill="#9b9fd1"/>
<rect x="62.2" y="490" width="14.95" height="1.05" fill="#bec0e1"/>
<rect x="62.2" y="491" width="14.95" height="1.05" fill="#a8abd7"/>
<rect x="62.2" y="492" width="14.95" height="2.05" fill="#babcdf"/>
<rect x="62.2" y="494" width="14.95" height="1.05" fill="#b4b7dd"/>
<rect x="62.2" y="495" width="14.95" height="1.05" fill="#c8cae6"/>
<rect x="62.2" y="496" width="14.95" height="1.05" fill="#d2d3ea"/>
<rect x="62.2" y="497" width="14.95" height="1.05" fill="#b3b6dc"/>
<rect x="62.2" y="498" width="14.95" height="2.05" fill="#b4b7dc"/>
<rect x="62.2" y="500" width="14.95" height="1.05" fill="#979bcf"/>
<rect x="62.2" y="501" width="14.95" height="1.05" fill="#c9cbe6"/>
<rect x="62.2" y="502" width="14.95" height="1.05" fill="#9398ce"/>
<rect x="62.2" y="503" width="14.95" height="1.05" fill="#787ec1"/>
<rect x="62.2" y="504" width="14.95" height="2.05" fill="#6a70bb"/>
<rect x="62.2" y="506" width="14.95" height="1.05" fill="#9296cd"/>
<rect x="62.2" y="507" width="14.95" height="2.05" fill="#878cc8"/>
<rect x="62.2" y="509" width="14.95" height="1.05" fill="#a7aad7"/>
<rect x="62.2" y="510" width="14.95" height="2.05" fill="#8d91ca"/>
<rect x="62.2" y="512" width="14.95" height="2.05" fill="#9fa3d3"/>
<rect x="62.2" y="514" width="14.95" height="1.05" fill="#a3a7d5"/>
<rect x="62.2" y="515" width="14.95" height="2.05" fill="#9296cd"/>
<rect x="62.2" y="517" width="14.95" height="1.05" fill="#a9add8"/>
<rect x="62.2" y="518" width="14.95" height="2.05" fill="#8d92cb"/>
<rect x="62.2" y="520" width="14.95" height="1.05" fill="#8d92cb"/>
<rect x="62.2" y="521" width="14.95" height="2.05" fill="#747abf"/>
<rect x="62.2" y="523" width="14.95" height="2.05" fill="#8085c4"/>
<rect x="62.2" y="525" width="14.95" height="1.05" fill="#a3a6d5"/>
<rect x="62.2" y="526" width="14.95" height="1.05" fill="#a0a4d3"/>
<rect x="62.2" y="527" width="14.95" height="2.05" fill="#b4b7dd"/>
<rect x="62.2" y="529" width="14.95" height="1.05" fill="#a6aad6"/>
<rect x="62.2" y="530" width="14.95" height="2.05" fill="#bec0e1"/>
<rect x="62.2" y="532" width="14.95" height="1.05" fill="#e4e5f3"/>
<rect x="62.2" y="533" width="14.95" height="2.05" fill="#f3e2e7"/>
<rect x="62.2" y="535" width="14.95" height="1.05" fill="#cfd0e9"/>
<rect x="62.2" y="536" width="14.95" height="1.05" fill="#e6e7f4"/>
<rect x="62.2" y="537" width="14.95" height="2.05" fill="#ebebf6"/>
<rect x="62.2" y="539" width="14.95" height="1.05" fill="#cbcde7"/>
<rect x="62.2" y="540" width="14.95" height="2.05" fill="#edeef7"/>
<rect x="62.2" y="542" width="14.95" height="1.05" fill="#d3d5eb"/>
<rect x="62.2" y="543" width="14.95" height="1.05" fill="#acb0d9"/>
<rect x="62.2" y="544" width="14.95" height="1.05" fill="#c3c5e3"/>
<rect x="62.2" y="545" width="14.95" height="2.05" fill="#c7c9e5"/>
<rect x="62.2" y="547" width="14.95" height="2.05" fill="#999dd0"/>
<rect x="62.2" y="549" width="14.95" height="1.05" fill="#a0a4d3"/>
<rect x="62.2" y="550" width="14.95" height="1.05" fill="#c7c9e5"/>
<rect x="62.2" y="551" width="14.95" height="1.05" fill="#b8bbde"/>
<rect x="62.2" y="552" width="14.95" height="2.05" fill="#b3b6dc"/>
<rect x="62.2" y="554" width="14.95" height="1.05" fill="#d5d7ec"/>
<rect x="62.2" y="555" width="14.95" height="1.05" fill="#aeb1da"/>
<rect x="77" y="341" width="14.95" height="2.05" fill="#d6d7ec"/>
<rect x="77" y="343" width="14.95" height="1.05" fill="#acafd9"/>
<rect x="77" y="344" width="14.95" height="2.05" fill="#aaadd8"/>
<rect x="77" y="346" width="14.95" height="1.05" fill="#c3c5e3"/>
<rect x="77" y="347" width="14.95" height="1.05" fill="#dfe0f0"/>
<rect x="77" y="348" width="14.95" height="1.05" fill="#f8ecf0"/>
<rect x="77" y="349" width="14.95" height="2.05" fill="#ebcfd7"/>
<rect x="77" y="351" width="14.95" height="1.05" fill="#f4f4fa"/>
<rect x="77" y="352" width="14.95" height="1.05" fill="#b5b8dd"/>
<rect x="77" y="353" width="14.95" height="2.05" fill="#ced0e9"/>
<rect x="77" y="355" width="14.95" height="2.05" fill="#adb0d9"/>
<rect x="77" y="357" width="14.95" height="1.05" fill="#dcddef"/>
<rect x="77" y="358" width="14.95" height="1.05" fill="#d7d8ed"/>
<rect x="77" y="359" width="14.95" height="1.05" fill="#c1c3e2"/>
<rect x="77" y="360" width="14.95" height="2.05" fill="#c6c9e5"/>
<rect x="77" y="362" width="14.95" height="1.05" fill="#979bcf"/>
<rect x="77" y="363" width="14.95" height="2.05" fill="#acafd9"/>
<rect x="77" y="365" width="14.95" height="1.05" fill="#989dd0"/>
<rect x="77" y="366" width="14.95" height="2.05" fill="#abaed8"/>
<rect x="77" y="368" width="14.95" height="1.05" fill="#b2b5dc"/>
<rect x="77" y="369" width="14.95" height="1.05" fill="#747abf"/>
<rect x="77" y="370" width="14.95" height="2.05" fill="#a8acd7"/>
<rect x="77" y="372" width="14.95" height="1.05" fill="#aeb1da"/>
<rect x="77" y="373" width="14.95" height="1.05" fill="#bcbee0"/>
<rect x="77" y="374" width="14.95" height="2.05" fill="#abafd9"/>
<rect x="77" y="376" width="14.95" height="1.05" fill="#dfe0f0"/>
<rect x="77" y="377" width="14.95" height="2.05" fill="#8e92cb"/>
<rect x="77" y="379" width="14.95" height="1.05" fill="#c3c5e4"/>
<rect x="77" y="380" width="14.95" height="2.05" fill="#b6b9dd"/>
<rect x="77" y="382" width="14.95" height="2.05" fill="#dadbee"/>
<rect x="77" y="384" width="14.95" height="2.05" fill="#9fa3d3"/>
<rect x="77" y="386" width="14.95" height="1.05" fill="#979bcf"/>
<rect x="77" y="387" width="14.95" height="1.05" fill="#bcbfe0"/>
<rect x="77" y="388" width="14.95" height="2.05" fill="#5a61b3"/>
<rect x="77" y="390" width="14.95" height="1.05" fill="#6369b7"/>
<rect x="77" y="391" width="14.95" height="2.05" fill="#575eb2"/>
<rect x="77" y="393" width="14.95" height="1.05" fill="#888dc8"/>
<rect x="77" y="394" width="14.95" height="2.05" fill="#6d74bc"/>
<rect x="77" y="396" width="14.95" height="1.05" fill="#6b71bb"/>
<rect x="77" y="397" width="14.95" height="2.05" fill="#5d64b5"/>
<rect x="77" y="399" width="14.95" height="2.05" fill="#757abf"/>
<rect x="77" y="401" width="14.95" height="1.05" fill="#7379bf"/>
<rect x="77" y="402" width="14.95" height="1.05" fill="#7e83c4"/>
<rect x="77" y="403" width="14.95" height="2.05" fill="#767cc0"/>
<rect x="77" y="405" width="14.95" height="1.05" fill="#7278be"/>
<rect x="77" y="406" width="14.95" height="2.05" fill="#7076bd"/>
<rect x="77" y="408" width="14.95" height="1.05" fill="#7c82c3"/>
<rect x="77" y="409" width="14.95" height="1.05" fill="#8a8fc9"/>
<rect x="77" y="410" width="14.95" height="1.05" fill="#898ec9"/>
<rect x="77" y="411" width="14.95" height="1.05" fill="#989cd0"/>
<rect x="77" y="412" width="14.95" height="1.05" fill="#4850ab"/>
<rect x="77" y="413" width="14.95" height="1.05" fill="#6269b7"/>
<rect x="77" y="414" width="14.95" height="1.05" fill="#7d83c3"/>
<rect x="77" y="415" width="14.95" height="2.05" fill="#969acf"/>
<rect x="77" y="417" width="14.95" height="2.05" fill="#6d73bc"/>
<rect x="77" y="419" width="14.95" height="1.05" fill="#7a7fc2"/>
<rect x="77" y="420" width="14.95" height="2.05" fill="#9599ce"/>
<rect x="77" y="422" width="14.95" height="1.05" fill="#8c91ca"/>
<rect x="77" y="423" width="14.95" height="1.05" fill="#a9acd7"/>
<rect x="77" y="424" width="14.95" height="1.05" fill="#a1a5d4"/>
<rect x="77" y="425" width="14.95" height="1.05" fill="#979bcf"/>
<rect x="77" y="426" width="14.95" height="1.05" fill="#d9daee"/>
<rect x="77" y="427" width="14.95" height="2.05" fill="#a5a8d6"/>
<rect x="77" y="429" width="14.95" height="1.05" fill="#bec0e1"/>
<rect x="77" y="430" width="14.95" height="1.05" fill="#d8daed"/>
<rect x="77" y="431" width="14.95" height="2.05" fill="#d2d4eb"/>
<rect x="77" y="433" width="14.95" height="2.05" fill="#bcbfe0"/>
<rect x="77" y="435" width="14.95" height="1.05" fill="#abafd9"/>
<rect x="77" y="436" width="14.95" height="2.05" fill="#bcbfe0"/>
<rect x="77" y="438" width="14.95" height="2.05" fill="#d1d3ea"/>
<rect x="77" y="440" width="14.95" height="2.05" fill="#b5b8dd"/>
<rect x="77" y="442" width="14.95" height="1.05" fill="#c5c7e4"/>
<rect x="77" y="443" width="14.95" height="1.05" fill="#a1a5d4"/>
<rect x="77" y="444" width="14.95" height="1.05" fill="#c6c8e5"/>
<rect x="77" y="445" width="14.95" height="2.05" fill="#ecedf7"/>
<rect x="77" y="447" width="14.95" height="2.05" fill="#f8edf0"/>
<rect x="77" y="449" width="14.95" height="1.05" fill="#eccfd7"/>
<rect x="77" y="450" width="14.95" height="2.05" fill="#f3e2e7"/>
<rect x="77" y="452" width="14.95" height="2.05" fill="#f7eaee"/>
<rect x="77" y="454" width="14.95" height="1.05" fill="#e2e3f2"/>
<rect x="77" y="455" width="14.95" height="2.05" fill="#b3b6dc"/>
<rect x="77" y="457" width="14.95" height="2.05" fill="#e3e4f2"/>
<rect x="77" y="459" width="14.95" height="1.05" fill="#ebcfd7"/>
<rect x="77" y="460" width="14.95" height="1.05" fill="#ce879a"/>
<rect x="77" y="461" width="14.95" height="1.05" fill="#e2b9c4"/>
<rect x="77" y="462" width="14.95" height="1.05" fill="#e1b5c1"/>
<rect x="77" y="463" width="14.95" height="2.05" fill="#d394a5"/>
<rect x="77" y="465" width="14.95" height="1.05" fill="#efd8de"/>
<rect x="77" y="466" width="14.95" height="1.05" fill="#d08c9e"/>
<rect x="77" y="467" width="14.95" height="1.05" fill="#e1b5c1"/>
<rect x="77" y="468" width="14.95" height="2.05" fill="#d599aa"/>
<rect x="77" y="470" width="14.95" height="1.05" fill="#d08b9e"/>
<rect x="77" y="471" width="14.95" height="2.05" fill="#d8a0af"/>
<rect x="77" y="473" width="14.95" height="2.05" fill="#e5bfc9"/>
<rect x="77" y="475" width="14.95" height="2.05" fill="#ddadba"/>
<rect x="77" y="477" width="14.95" height="1.05" fill="#efd7de"/>
<rect x="77" y="478" width="14.95" height="2.05" fill="#dca8b6"/>
<rect x="77" y="480" width="14.95" height="1.05" fill="#dcaab8"/>
<rect x="77" y="481" width="14.95" height="2.05" fill="#f8eef1"/>
<rect x="77" y="483" width="14.95" height="1.05" fill="#c57188"/>
<rect x="77" y="484" width="14.95" height="2.05" fill="#d08d9f"/>
<rect x="77" y="486" width="14.95" height="1.05" fill="#e1b6c2"/>
<rect x="77" y="487" width="14.95" height="2.05" fill="#cf899c"/>
<rect x="77" y="489" width="14.95" height="2.05" fill="#e9c8d1"/>
<rect x="77" y="491" width="14.95" height="2.05" fill="#cf8a9d"/>
<rect x="77" y="493" width="14.95" height="2.05" fill="#c36b83"/>
<rect x="77" y="495" width="14.95" height="2.05" fill="#bf647c"/>
<rect x="77" y="497" width="14.95" height="2.05" fill="#d08d9f"/>
<rect x="77" y="499" width="14.95" height="2.05" fill="#cc8296"/>
<rect x="77" y="501" width="14.95" height="2.05" fill="#ce8699"/>
<rect x="77" y="503" width="14.95" height="1.05" fill="#d9a2b1"/>
<rect x="77" y="504" width="14.95" height="1.05" fill="#c6738a"/>
<rect x="77" y="505" width="14.95" height="1.05" fill="#c97a8f"/>
<rect x="77" y="506" width="14.95" height="1.05" fill="#d18ea0"/>
<rect x="77" y="507" width="14.95" height="2.05" fill="#c7778d"/>
<rect x="77" y="509" width="14.95" height="1.05" fill="#bf637c"/>
<rect x="77" y="510" width="14.95" height="1.05" fill="#c1677f"/>
<rect x="77" y="511" width="14.95" height="2.05" fill="#ca7d92"/>
<rect x="77" y="513" width="14.95" height="2.05" fill="#c16880"/>
<rect x="77" y="515" width="14.95" height="2.05" fill="#d79dad"/>
<rect x="77" y="517" width="14.95" height="2.05" fill="#d08d9f"/>
<rect x="77" y="519" width="14.95" height="2.05" fill="#c26981"/>
<rect x="77" y="521" width="14.95" height="2.05" fill="#b44865"/>
<rect x="77" y="523" width="14.95" height="1.05" fill="#c26b82"/>
<rect x="77" y="524" width="14.95" height="1.05" fill="#cd8498"/>
<rect x="77" y="525" width="14.95" height="1.05" fill="#b8526d"/>
<rect x="77" y="526" width="14.95" height="1.05" fill="#b54a66"/>
<rect x="77" y="527" width="14.95" height="2.05" fill="#c26b82"/>
<rect x="77" y="529" width="14.95" height="2.05" fill="#c26a82"/>
<rect x="77" y="531" width="14.95" height="1.05" fill="#c8798e"/>
<rect x="77" y="532" width="14.95" height="1.05" fill="#c8798f"/>
<rect x="77" y="533" width="14.95" height="1.05" fill="#b8516c"/>
<rect x="77" y="534" width="14.95" height="2.05" fill="#cd8699"/>
<rect x="77" y="536" width="14.95" height="2.05" fill="#cc8195"/>
<rect x="77" y="538" width="14.95" height="2.05" fill="#c6748a"/>
<rect x="77" y="540" width="14.95" height="2.05" fill="#f5e6eb"/>
<rect x="77" y="542" width="14.95" height="1.05" fill="#ddabb8"/>
<rect x="77" y="543" width="14.95" height="1.05" fill="#ca7c91"/>
<rect x="77" y="544" width="14.95" height="1.05" fill="#c8778d"/>
<rect x="77" y="545" width="14.95" height="1.05" fill="#c26981"/>
<rect x="77" y="546" width="14.95" height="2.05" fill="#c7758b"/>
<rect x="77" y="548" width="14.95" height="1.05" fill="#b9546f"/>
<rect x="77" y="549" width="14.95" height="2.05" fill="#b9536f"/>
<rect x="77" y="551" width="14.95" height="1.05" fill="#b54b67"/>
<rect x="77" y="552" width="14.95" height="2.05" fill="#b64c68"/>
<rect x="77" y="554" width="14.95" height="1.05" fill="#b9536e"/>
<rect x="77" y="555" width="14.95" height="1.05" fill="#c0657d"/>
<rect x="91.95" y="341" width="14.95" height="2.05" fill="#7e83c4"/>
<rect x="91.95" y="343" width="14.95" height="2.05" fill="#a2a6d4"/>
<rect x="91.95" y="345" width="14.95" height="1.05" fill="#c5c7e4"/>
<rect x="91.95" y="346" width="14.95" height="1.05" fill="#a5a9d6"/>
<rect x="91.95" y="347" width="14.95" height="2.05" fill="#d7d9ed"/>
<rect x="91.95" y="349" width="14.95" height="2.05" fill="#9296cd"/>
<rect x="91.95" y="351" width="14.95" height="2.05" fill="#c3c5e4"/>
<rect x="91.95" y="353" width="14.95" height="1.05" fill="#aeb1da"/>
<rect x="91.95" y="354" width="14.95" height="2.05" fill="#9499ce"/>
<rect x="91.95" y="356" width="14.95" height="2.05" fill="#999dd0"/>
<rect x="91.95" y="358" width="14.95" height="2.05" fill="#9a9ed1"/>
<rect x="91.95" y="360" width="14.95" height="1.05" fill="#c2c5e3"/>
<rect x="91.95" y="361" width="14.95" height="1.05" fill="#989cd0"/>
<rect x="91.95" y="362" width="14.95" height="1.05" fill="#8d92cb"/>
<rect x="91.95" y="363" width="14.95" height="1.05" fill="#afb2da"/>
<rect x="91.95" y="364" width="14.95" height="1.05" fill="#797ec1"/>
<rect x="91.95" y="365" width="14.95" height="2.05" fill="#a7aad6"/>
<rect x="91.95" y="367" width="14.95" height="1.05" fill="#9498ce"/>
<rect x="91.95" y="368" width="14.95" height="1.05" fill="#8b90ca"/>
<rect x="91.95" y="369" width="14.95" height="2.05" fill="#6b71bb"/>
<rect x="91.95" y="371" width="14.95" height="1.05" fill="#6b71bb"/>
<rect x="91.95" y="372" width="14.95" height="2.05" fill="#979bcf"/>
<rect x="91.95" y="374" width="14.95" height="2.05" fill="#9398ce"/>
<rect x="91.95" y="376" width="14.95" height="2.05" fill="#b3b6dc"/>
<rect x="91.95" y="378" width="14.95" height="2.05" fill="#9297cd"/>
<rect x="91.95" y="380" width="14.95" height="1.05" fill="#c8cae6"/>
<rect x="91.95" y="381" width="14.95" height="1.05" fill="#8a8fc9"/>
<rect x="91.95" y="382" width="14.95" height="1.05" fill="#9ca0d2"/>
<rect x="91.95" y="383" width="14.95" height="2.05" fill="#adb0d9"/>
<rect x="91.95" y="385" width="14.95" height="1.05" fill="#aeb1da"/>
<rect x="91.95" y="386" width="14.95" height="1.05" fill="#a0a4d3"/>
<rect x="91.95" y="387" width="14.95" height="2.05" fill="#b7bade"/>
<rect x="91.95" y="389" width="14.95" height="1.05" fill="#979bcf"/>
<rect x="91.95" y="390" width="14.95" height="2.05" fill="#9b9fd1"/>
<rect x="91.95" y="392" width="14.95" height="2.05" fill="#a6a9d6"/>
<rect x="91.95" y="394" width="14.95" height="2.05" fill="#dbdcef"/>
<rect x="91.95" y="396" width="14.95" height="2.05" fill="#b4b7dd"/>
<rect x="91.95" y="398" width="14.95" height="1.05" fill="#cfd1e9"/>
<rect x="91.95" y="399" width="14.95" height="1.05" fill="#eaccd5"/>
<rect x="91.95" y="400" width="14.95" height="2.05" fill="#e4bcc7"/>
<rect x="91.95" y="402" width="14.95" height="2.05" fill="#e8c6cf"/>
<rect x="91.95" y="404" width="14.95" height="1.05" fill="#c5c7e4"/>
<rect x="91.95" y="405" width="14.95" height="1.05" fill="#edeef7"/>
<rect x="91.95" y="406" width="14.95" height="2.05" fill="#f7ecef"/>
<rect x="91.95" y="408" width="14.95" height="2.05" fill="#f9eff2"/>
<rect x="91.95" y="410" width="14.95" height="2.05" fill="#f1f1f9"/>
<rect x="91.95" y="412" width="14.95" height="2.05" fill="#f1dde3"/>
<rect x="91.95" y="414" width="14.95" height="1.05" fill="#e3e4f2"/>
<rect x="91.95" y="415" width="14.95" height="2.05" fill="#e3e4f2"/>
<rect x="91.95" y="417" width="14.95" height="1.05" fill="#cfd1e9"/>
<rect x="91.95" y="418" width="14.95" height="2.05" fill="#cecfe8"/>
<rect x="91.95" y="420" width="14.95" height="1.05" fill="#e5e6f3"/>
<rect x="91.95" y="421" width="14.95" height="2.05" fill="#bdbfe1"/>
<rect x="91.95" y="423" width="14.95" height="1.05" fill="#d7d8ed"/>
<rect x="91.95" y="424" width="14.95" height="1.05" fill="#c6c9e5"/>
<rect x="91.95" y="425" width="14.95" height="2.05" fill="#c1c3e2"/>
<rect x="91.95" y="427" width="14.95" height="2.05" fill="#afb2da"/>
<rect x="91.95" y="429" width="14.95" height="1.05" fill="#aaadd8"/>
<rect x="91.95" y="430" width="14.95" height="2.05" fill="#b1b4db"/>
<rect x="91.95" y="432" width="14.95" height="2.05" fill="#cacce7"/>
<rect x="91.95" y="434" width="14.95" height="2.05" fill="#cccee8"/>
<rect x="91.95" y="436" width="14.95" height="1.05" fill="#d4d5eb"/>
<rect x="91.95" y="437" width="14.95" height="1.05" fill="#dddeef"/>
<rect x="91.95" y="438" width="14.95" height="2.05" fill="#cfd1e9"/>
<rect x="91.95" y="440" width="14.95" height="2.05" fill="#e4e5f3"/>
<rect x="91.95" y="442" width="14.95" height="2.05" fill="#eeeef7"/>
<rect x="91.95" y="444" width="14.95" height="1.05" fill="#cacce7"/>
<rect x="91.95" y="445" width="14.95" height="2.05" fill="#b74e6a"/>
<rect x="91.95" y="447" width="14.95" height="1.05" fill="#d89faf"/>
<rect x="91.95" y="448" width="14.95" height="1.05" fill="#cf889b"/>
<rect x="91.95" y="449" width="14.95" height="2.05" fill="#d79dad"/>
<rect x="91.95" y="451" width="14.95" height="1.05" fill="#eaccd4"/>
<rect x="91.95" y="452" width="14.95" height="1.05" fill="#e7c5cf"/>
<rect x="91.95" y="453" width="14.95" height="1.05" fill="#deaebb"/>
<rect x="91.95" y="454" width="14.95" height="2.05" fill="#c57188"/>
<rect x="91.95" y="456" width="14.95" height="1.05" fill="#ce879a"/>
<rect x="91.95" y="457" width="14.95" height="1.05" fill="#d08b9d"/>
<rect x="91.95" y="458" width="14.95" height="1.05" fill="#c57188"/>
<rect x="91.95" y="459" width="14.95" height="2.05" fill="#bf617a"/>
<rect x="91.95" y="461" width="14.95" height="1.05" fill="#c57087"/>
<rect x="91.95" y="462" width="14.95" height="1.05" fill="#ca7c91"/>
<rect x="91.95" y="463" width="14.95" height="1.05" fill="#c7758b"/>
<rect x="91.95" y="464" width="14.95" height="2.05" fill="#d08c9e"/>
<rect x="91.95" y="466" width="14.95" height="2.05" fill="#bd5d76"/>
<rect x="91.95" y="468" width="14.95" height="1.05" fill="#e1b5c1"/>
<rect x="91.95" y="469" width="14.95" height="1.05" fill="#e1b5c1"/>
<rect x="91.95" y="470" width="14.95" height="2.05" fill="#cc8397"/>
<rect x="91.95" y="472" width="14.95" height="2.05" fill="#cd8498"/>
<rect x="91.95" y="474" width="14.95" height="1.05" fill="#d597a8"/>
<rect x="91.95" y="475" width="14.95" height="2.05" fill="#dba7b5"/>
<rect x="91.95" y="477" width="14.95" height="2.05" fill="#c97b90"/>
<rect x="91.95" y="479" width="14.95" height="2.05" fill="#cc8397"/>
<rect x="91.95" y="481" width="14.95" height="1.05" fill="#ca7d91"/>
<rect x="91.95" y="482" width="14.95" height="1.05" fill="#c0657d"/>
<rect x="91.95" y="483" width="14.95" height="1.05" fill="#b34563"/>
<rect x="91.95" y="484" width="14.95" height="2.05" fill="#d89faf"/>
<rect x="91.95" y="486" width="14.95" height="2.05" fill="#dba8b6"/>
<rect x="91.95" y="488" width="14.95" height="2.05" fill="#deafbc"/>
<rect x="91.95" y="490" width="14.95" height="1.05" fill="#e3bbc7"/>
<rect x="91.95" y="491" width="14.95" height="1.05" fill="#f3e1e6"/>
<rect x="91.95" y="492" width="14.95" height="2.05" fill="#e6c1cb"/>
<rect x="91.95" y="494" width="14.95" height="2.05" fill="#d8a0b0"/>
<rect x="91.95" y="496" width="14.95" height="2.05" fill="#cf8a9c"/>
<rect x="91.95" y="498" width="14.95" height="2.05" fill="#d8a0af"/>
<rect x="91.95" y="500" width="14.95" height="2.05" fill="#c7768c"/>
<rect x="91.95" y="502" width="14.95" height="2.05" fill="#c36d84"/>
<rect x="91.95" y="504" width="14.95" height="1.05" fill="#cf8b9d"/>
<rect x="91.95" y="505" width="14.95" height="1.05" fill="#c0647d"/>
<rect x="91.95" y="506" width="14.95" height="1.05" fill="#b74e6a"/>
<rect x="91.95" y="507" width="14.95" height="2.05" fill="#bc5b75"/>
<rect x="91.95" y="509" width="14.95" height="2.05" fill="#bc5b75"/>
<rect x="91.95" y="511" width="14.95" height="2.05" fill="#d392a4"/>
<rect x="91.95" y="513" width="14.95" height="2.05" fill="#daa4b3"/>
<rect x="91.95" y="515" width="14.95" height="1.05" fill="#cf899c"/>
<rect x="91.95" y="516" width="14.95" height="2.05" fill="#eed5dc"/>
<rect x="91.95" y="518" width="14.95" height="1.05" fill="#dfb1be"/>
<rect x="91.95" y="519" width="14.95" height="1.05" fill="#e1b5c1"/>
<rect x="91.95" y="520" width="14.95" height="2.05" fill="#cf889b"/>
<rect x="91.95" y="522" width="14.95" height="2.05" fill="#e5c0cb"/>
<rect x="91.95" y="524" width="14.95" height="2.05" fill="#efd9df"/>
<rect x="91.95" y="526" width="14.95" height="2.05" fill="#deaebb"/>
<rect x="91.95" y="528" width="14.95" height="2.05" fill="#edd2da"/>
<rect x="91.95" y="530" width="14.95" height="1.05" fill="#deadbb"/>
<rect x="91.95" y="531" width="14.95" height="1.05" fill="#e0b3bf"/>
<rect x="91.95" y="532" width="14.95" height="1.05" fill="#e2b9c4"/>
<rect x="91.95" y="533" width="14.95" height="2.05" fill="#efd6dd"/>
<rect x="91.95" y="535" width="14.95" height="2.05" fill="#d08b9e"/>
<rect x="91.95" y="537" width="14.95" height="2.05" fill="#d9a3b2"/>
<rect x="91.95" y="539" width="14.95" height="1.05" fill="#f0dae0"/>
<rect x="91.95" y="540" width="14.95" height="1.05" fill="#dcddef"/>
<rect x="91.95" y="541" width="14.95" height="1.05" fill="#d9daed"/>
<rect x="91.95" y="542" width="14.95" height="1.05" fill="#bfc1e2"/>
<rect x="91.95" y="543" width="14.95" height="2.05" fill="#f7eaee"/>
<rect x="91.95" y="545" width="14.95" height="1.05" fill="#b8bbdf"/>
<rect x="91.95" y="546" width="14.95" height="1.05" fill="#dddeef"/>
<rect x="91.95" y="547" width="14.95" height="2.05" fill="#dddeef"/>
<rect x="91.95" y="549" width="14.95" height="2.05" fill="#f8edf1"/>
<rect x="91.95" y="551" width="14.95" height="2.05" fill="#e5bfca"/>
<rect x="91.95" y="553" width="14.95" height="2.05" fill="#f6eaee"/>
<rect x="91.95" y="555" width="14.95" height="1.05" fill="#e6c0cb"/>
<rect x="106.9" y="341" width="14.95" height="1.05" fill="#8f94cc"/>
<rect x="106.9" y="342" width="14.95" height="1.05" fill="#9da1d2"/>
<rect x="106.9" y="343" width="14.95" height="1.05" fill="#9fa3d3"/>
<rect x="106.9" y="344" width="14.95" height="1.05" fill="#787ec1"/>
<rect x="106.9" y="345" width="14.95" height="1.05" fill="#858ac7"/>
<rect x="106.9" y="346" width="14.95" height="2.05" fill="#9a9ed0"/>
<rect x="106.9" y="348" width="14.95" height="2.05" fill="#999dd0"/>
<rect x="106.9" y="350" width="14.95" height="2.05" fill="#a8acd7"/>
<rect x="106.9" y="352" width="14.95" height="2.05" fill="#8187c5"/>
<rect x="106.9" y="354" width="14.95" height="1.05" fill="#999dd0"/>
<rect x="106.9" y="355" width="14.95" height="1.05" fill="#8a8fc9"/>
<rect x="106.9" y="356" width="14.95" height="2.05" fill="#9da1d2"/>
<rect x="106.9" y="358" width="14.95" height="2.05" fill="#b5b8dd"/>
<rect x="106.9" y="360" width="14.95" height="2.05" fill="#b7bade"/>
<rect x="106.9" y="362" width="14.95" height="2.05" fill="#d8d9ed"/>
<rect x="106.9" y="364" width="14.95" height="1.05" fill="#9397cd"/>
<rect x="106.9" y="365" width="14.95" height="1.05" fill="#9095cc"/>
<rect x="106.9" y="366" width="14.95" height="2.05" fill="#a1a5d4"/>
<rect x="106.9" y="368" width="14.95" height="1.05" fill="#b2b5db"/>
<rect x="106.9" y="369" width="14.95" height="2.05" fill="#abaed8"/>
<rect x="106.9" y="371" width="14.95" height="2.05" fill="#767cc0"/>
<rect x="106.9" y="373" width="14.95" height="1.05" fill="#e6e6f3"/>
<rect x="106.9" y="374" width="14.95" height="1.05" fill="#696fba"/>
<rect x="106.9" y="375" width="14.95" height="2.05" fill="#979ccf"/>
<rect x="106.9" y="377" width="14.95" height="1.05" fill="#858ac7"/>
<rect x="106.9" y="378" width="14.95" height="2.05" fill="#8388c6"/>
<rect x="106.9" y="380" width="14.95" height="1.05" fill="#767bc0"/>
<rect x="106.9" y="381" width="14.95" height="1.05" fill="#afb2da"/>
<rect x="106.9" y="382" width="14.95" height="2.05" fill="#9ea2d2"/>
<rect x="106.9" y="384" width="14.95" height="2.05" fill="#a2a6d4"/>
<rect x="106.9" y="386" width="14.95" height="1.05" fill="#8d91ca"/>
<rect x="106.9" y="387" width="14.95" height="1.05" fill="#959acf"/>
<rect x="106.9" y="388" width="14.95" height="2.05" fill="#cccee7"/>
<rect x="106.9" y="390" width="14.95" height="2.05" fill="#b3b6dc"/>
<rect x="106.9" y="392" width="14.95" height="1.05" fill="#a0a4d3"/>
<rect x="106.9" y="393" width="14.95" height="2.05" fill="#b6b9de"/>
<rect x="106.9" y="395" width="14.95" height="1.05" fill="#dadbee"/>
<rect x="106.9" y="396" width="14.95" height="1.05" fill="#c6c9e5"/>
<rect x="106.9" y="397" width="14.95" height="1.05" fill="#d4d6eb"/>
<rect x="106.9" y="398" width="14.95" height="2.05" fill="#c4c6e4"/>
<rect x="106.9" y="400" width="14.95" height="1.05" fill="#b5b8dd"/>
<rect x="106.9" y="401" width="14.95" height="2.05" fill="#a4a8d5"/>
<rect x="106.9" y="403" width="14.95" height="1.05" fill="#989cd0"/>
<rect x="106.9" y="404" width="14.95" height="2.05" fill="#c9cbe6"/>
<rect x="106.9" y="406" width="14.95" height="2.05" fill="#b7b9de"/>
<rect x="106.9" y="408" width="14.95" height="1.05" fill="#a9add8"/>
<rect x="106.9" y="409" width="14.95" height="1.05" fill="#b9bcdf"/>
<rect x="106.9" y="410" width="14.95" height="1.05" fill="#858ac7"/>
<rect x="106.9" y="411" width="14.95" height="1.05" fill="#9ba0d1"/>
<rect x="106.9" y="412" width="14.95" height="2.05" fill="#acb0d9"/>
<rect x="106.9" y="414" width="14.95" height="1.05" fill="#9296cd"/>
<rect x="106.9" y="415" width="14.95" height="2.05" fill="#9fa3d3"/>
<rect x="106.9" y="417" width="14.95" height="1.05" fill="#a4a8d5"/>
<rect x="106.9" y="418" width="14.95" height="2.05" fill="#9599ce"/>
<rect x="106.9" y="420" width="14.95" height="1.05" fill="#adb0d9"/>
<rect x="106.9" y="421" width="14.95" height="1.05" fill="#a7abd7"/>
<rect x="106.9" y="422" width="14.95" height="1.05" fill="#9296cd"/>
<rect x="106.9" y="423" width="14.95" height="1.05" fill="#8489c7"/>
<rect x="106.9" y="424" width="14.95" height="2.05" fill="#c0c2e2"/>
<rect x="106.9" y="426" width="14.95" height="1.05" fill="#6d73bc"/>
<rect x="106.9" y="427" width="14.95" height="2.05" fill="#d2d4ea"/>
<rect x="106.9" y="429" width="14.95" height="1.05" fill="#9fa3d3"/>
<rect x="106.9" y="430" width="14.95" height="1.05" fill="#9ea2d3"/>
<rect x="106.9" y="431" width="14.95" height="2.05" fill="#aaadd8"/>
<rect x="106.9" y="433" width="14.95" height="2.05" fill="#959ace"/>
<rect x="106.9" y="435" width="14.95" height="1.05" fill="#a0a4d4"/>
<rect x="106.9" y="436" width="14.95" height="2.05" fill="#959ace"/>
<rect x="106.9" y="438" width="14.95" height="2.05" fill="#464eaa"/>
<rect x="106.9" y="440" width="14.95" height="1.05" fill="#6d73bc"/>
<rect x="106.9" y="441" width="14.95" height="2.05" fill="#797ec1"/>
<rect x="106.9" y="443" width="14.95" height="2.05" fill="#555cb1"/>
<rect x="106.9" y="445" width="14.95" height="1.05" fill="#b9536e"/>
<rect x="106.9" y="446" width="14.95" height="2.05" fill="#ce889b"/>
<rect x="106.9" y="448" width="14.95" height="1.05" fill="#cc8397"/>
<rect x="106.9" y="449" width="14.95" height="1.05" fill="#c57188"/>
<rect x="106.9" y="450" width="14.95" height="1.05" fill="#b64c68"/>
<rect x="106.9" y="451" width="14.95" height="2.05" fill="#bd5f78"/>
<rect x="106.9" y="453" width="14.95" height="2.05" fill="#ae3857"/>
<rect x="106.9" y="455" width="14.95" height="1.05" fill="#c0667e"/>
<rect x="106.9" y="456" width="14.95" height="1.05" fill="#c6738a"/>
<rect x="106.9" y="457" width="14.95" height="2.05" fill="#c8798e"/>
<rect x="106.9" y="459" width="14.95" height="2.05" fill="#d18ea0"/>
<rect x="106.9" y="461" width="14.95" height="1.05" fill="#ca7d92"/>
<rect x="106.9" y="462" width="14.95" height="2.05" fill="#ce8699"/>
<rect x="106.9" y="464" width="14.95" height="1.05" fill="#c26b82"/>
<rect x="106.9" y="465" width="14.95" height="1.05" fill="#c26981"/>
<rect x="106.9" y="466" width="14.95" height="1.05" fill="#d08c9e"/>
<rect x="106.9" y="467" width="14.95" height="2.05" fill="#dca9b7"/>
<rect x="106.9" y="469" width="14.95" height="2.05" fill="#d79eae"/>
<rect x="106.9" y="471" width="14.95" height="1.05" fill="#c7758b"/>
<rect x="106.9" y="472" width="14.95" height="1.05" fill="#d393a4"/>
<rect x="106.9" y="473" width="14.95" height="1.05" fill="#efd9df"/>
<rect x="106.9" y="474" width="14.95" height="1.05" fill="#ddabb8"/>
<rect x="106.9" y="475" width="14.95" height="2.05" fill="#cc8397"/>
<rect x="106.9" y="477" width="14.95" height="2.05" fill="#ddabb8"/>
<rect x="106.9" y="479" width="14.95" height="2.05" fill="#d9a3b2"/>
<rect x="106.9" y="481" width="14.95" height="2.05" fill="#e0b4c0"/>
<rect x="106.9" y="483" width="14.95" height="1.05" fill="#ce889b"/>
<rect x="106.9" y="484" width="14.95" height="1.05" fill="#e3bac6"/>
<rect x="106.9" y="485" width="14.95" height="2.05" fill="#e0b3c0"/>
<rect x="106.9" y="487" width="14.95" height="1.05" fill="#cb7f94"/>
<rect x="106.9" y="488" width="14.95" height="1.05" fill="#d393a4"/>
<rect x="106.9" y="489" width="14.95" height="2.05" fill="#daa4b3"/>
<rect x="106.9" y="491" width="14.95" height="1.05" fill="#daa3b2"/>
<rect x="106.9" y="492" width="14.95" height="2.05" fill="#cd8598"/>
<rect x="106.9" y="494" width="14.95" height="2.05" fill="#e8c6cf"/>
<rect x="106.9" y="496" width="14.95" height="1.05" fill="#d598a9"/>
<rect x="106.9" y="497" width="14.95" height="2.05" fill="#d392a4"/>
<rect x="106.9" y="499" width="14.95" height="2.05" fill="#c1667f"/>
<rect x="106.9" y="501" width="14.95" height="2.05" fill="#d9a2b1"/>
<rect x="106.9" y="503" width="14.95" height="1.05" fill="#c97c91"/>
<rect x="106.9" y="504" width="14.95" height="2.05" fill="#c0667e"/>
<rect x="106.9" y="506" width="14.95" height="1.05" fill="#e6c2cc"/>
<rect x="106.9" y="507" width="14.95" height="2.05" fill="#d9a1b0"/>
<rect x="106.9" y="509" width="14.95" height="2.05" fill="#dcaab8"/>
<rect x="106.9" y="511" width="14.95" height="1.05" fill="#d394a5"/>
<rect x="106.9" y="512" width="14.95" height="1.05" fill="#dba7b5"/>
<rect x="106.9" y="513" width="14.95" height="2.05" fill="#d08b9e"/>
<rect x="106.9" y="515" width="14.95" height="1.05" fill="#dca9b7"/>
<rect x="106.9" y="516" width="14.95" height="2.05" fill="#cf8b9d"/>
<rect x="106.9" y="518" width="14.95" height="1.05" fill="#cb7f93"/>
<rect x="106.9" y="519" width="14.95" height="1.05" fill="#cf8a9c"/>
<rect x="106.9" y="520" width="14.95" height="2.05" fill="#e5bfc9"/>
<rect x="106.9" y="522" width="14.95" height="2.05" fill="#c97c91"/>
<rect x="106.9" y="524" width="14.95" height="1.05" fill="#d393a4"/>
<rect x="106.9" y="525" width="14.95" height="1.05" fill="#c7758b"/>
<rect x="106.9" y="526" width="14.95" height="1.05" fill="#c36c84"/>
<rect x="106.9" y="527" width="14.95" height="1.05" fill="#c26a82"/>
<rect x="106.9" y="528" width="14.95" height="2.05" fill="#c36d84"/>
<rect x="106.9" y="530" width="14.95" height="1.05" fill="#c16880"/>
<rect x="106.9" y="531" width="14.95" height="1.05" fill="#ce869a"/>
<rect x="106.9" y="532" width="14.95" height="2.05" fill="#d18ea0"/>
<rect x="106.9" y="534" width="14.95" height="2.05" fill="#c7758b"/>
<rect x="106.9" y="536" width="14.95" height="1.05" fill="#d79ead"/>
<rect x="106.9" y="537" width="14.95" height="1.05" fill="#d290a2"/>
<rect x="106.9" y="538" width="14.95" height="1.05" fill="#cf899c"/>
<rect x="106.9" y="539" width="14.95" height="1.05" fill="#ca7d92"/>
<rect x="106.9" y="540" width="14.95" height="1.05" fill="#ddacba"/>
<rect x="106.9" y="541" width="14.95" height="2.05" fill="#c7778c"/>
<rect x="106.9" y="543" width="14.95" height="2.05" fill="#cd8497"/>
<rect x="106.9" y="545" width="14.95" height="1.05" fill="#cf889b"/>
<rect x="106.9" y="546" width="14.95" height="1.05" fill="#bb5872"/>
<rect x="106.9" y="547" width="14.95" height="2.05" fill="#c36c84"/>
<rect x="106.9" y="549" width="14.95" height="1.05" fill="#b54966"/>
<rect x="106.9" y="550" width="14.95" height="1.05" fill="#ca7e93"/>
<rect x="106.9" y="551" width="14.95" height="2.05" fill="#bb5a74"/>
<rect x="106.9" y="553" width="14.95" height="1.05" fill="#ce879a"/>
<rect x="106.9" y="554" width="14.95" height="1.05" fill="#c26981"/>
<rect x="106.9" y="555" width="14.95" height="1.05" fill="#d69bab"/>
</g>
<defs><linearGradient id="cb" x1="0" x2="1" y1="0" y2="0"><stop offset="0" stop-color="#3a46a5"/><stop offset="0.25" stop-color="#8d93cd"/><stop offset="0.5" stop-color="#f8f8fb"/><stop offset="0.75" stop-color="#d69aab"/><stop offset="1" stop-color="#a72e4e"/></linearGradient></defs>
<rect x="32.7" y="558.3" width="89.2" height="6.7" fill="url(#cb)"/>
<text x="31.6" y="570.3" font-size="9.3" text-anchor="middle" dominant-baseline="central" stroke="#1e1e1e" stroke-width="0.18">-2</text>
<text x="55" y="570.3" font-size="9.3" text-anchor="middle" dominant-baseline="central" stroke="#1e1e1e" stroke-width="0.18">-1</text>
<text x="77.6" y="570.3" font-size="9.3" text-anchor="middle" dominant-baseline="central" stroke="#1e1e1e" stroke-width="0.18">0</text>
<text x="99.1" y="570.3" font-size="9.3" text-anchor="middle" dominant-baseline="central" stroke="#1e1e1e" stroke-width="0.18">1</text>
<text x="121" y="570.3" font-size="9.3" text-anchor="middle" dominant-baseline="central" stroke="#1e1e1e" stroke-width="0.18">2</text>
<path d="M131.2,343.7 H134.5 V441.7 H131.2" fill="none" stroke="#333" stroke-width="0.8"/>
<path d="M131.2,450.5 H134.5 V549.1 H131.2" fill="none" stroke="#333" stroke-width="0.8"/>
<text x="19.8" y="391.4" font-size="9.2" text-anchor="middle" transform="rotate(-90 19.8 391.4)" dominant-baseline="central" stroke="#1e1e1e" stroke-width="0.18">1157 down genes</text>
<text x="19.8" y="497.2" font-size="9.2" text-anchor="middle" transform="rotate(-90 19.8 497.2)" dominant-baseline="central" stroke="#1e1e1e" stroke-width="0.18">1366 up genes</text>
<line x1="136.2" y1="395.5" x2="154" y2="395.5" stroke="#4bb6ea" stroke-width="1"/>
<path d="M152.8,393.1 L160.5,395.5 L152.8,397.9 Z" fill="#4bb6ea" stroke="none" stroke-width="1"/>
<line x1="136.2" y1="502.8" x2="154" y2="502.8" stroke="#e8231f" stroke-width="1"/>
<path d="M152.8,500.40000000000003 L160.5,502.8 L152.8,505.2 Z" fill="#e8231f" stroke="none" stroke-width="1"/>
<text x="63.8" y="598.6" font-size="9" transform="rotate(-45 63.8 598.6)" dominant-baseline="auto" stroke="#1e1e1e" stroke-width="0.18">siNC</text>
<text x="77.6" y="598.6" font-size="9" transform="rotate(-45 77.6 598.6)" dominant-baseline="auto" stroke="#1e1e1e" stroke-width="0.18">siJ1-1</text>
<text x="91.1" y="598.6" font-size="9" transform="rotate(-45 91.1 598.6)" dominant-baseline="auto" stroke="#1e1e1e" stroke-width="0.18">siJ1-2</text>
<text x="105.1" y="598.6" font-size="9" transform="rotate(-45 105.1 598.6)" dominant-baseline="auto" stroke="#1e1e1e" stroke-width="0.18">siJ1-3</text>
<text x="116.8" y="597.4" font-size="9.2" dominant-baseline="central" stroke="#1e1e1e" stroke-width="0.18">kDa</text>
<rect x="53.3" y="601.6" width="63" height="15.6" fill="#ececec" stroke="#333" stroke-width="0.8"/>
<rect x="58.68" y="607.94" width="11.04" height="2.91" rx="1.46" fill="#111" fill-opacity="0.89" filter="url(#bl)"/>
<rect x="73.06" y="608.3" width="9.89" height="2.19" rx="1.1" fill="#111" fill-opacity="0.49" filter="url(#bl)"/>
<rect x="86.73" y="608.41" width="9.55" height="1.98" rx="0.99" fill="#111" fill-opacity="0.37" filter="url(#bl)"/>
<rect x="100.5" y="608.27" width="10.01" height="2.26" rx="1.13" fill="#111" fill-opacity="0.53" filter="url(#bl)"/>
<rect x="53.3" y="619.6" width="63" height="15.1" fill="#ececec" stroke="#333" stroke-width="0.8"/>
<rect x="57.7" y="624.95" width="13" height="4.4" rx="2.2" fill="#111" fill-opacity="1" filter="url(#bl)"/>
<rect x="71.5" y="624.95" width="13" height="4.4" rx="2.2" fill="#111" fill-opacity="1" filter="url(#bl)"/>
<rect x="85" y="624.95" width="13" height="4.4" rx="2.2" fill="#111" fill-opacity="1" filter="url(#bl)"/>
<rect x="99" y="624.95" width="13" height="4.4" rx="2.2" fill="#111" fill-opacity="1" filter="url(#bl)"/>
<line x1="116.3" y1="613.3" x2="118.9" y2="613.3" stroke="#333" stroke-width="0.8"/>
<text x="119.5" y="613.3" font-size="9.2" dominant-baseline="central" stroke="#1e1e1e" stroke-width="0.18">35</text>
<line x1="116.3" y1="630" x2="118.9" y2="630" stroke="#333" stroke-width="0.8"/>
<text x="119.5" y="630" font-size="9.2" dominant-baseline="central" stroke="#1e1e1e" stroke-width="0.18">40</text>
<text x="50.2" y="610.9" font-size="9.2" text-anchor="end" dominant-baseline="central" stroke="#1e1e1e" stroke-width="0.18">JAB1</text>
<text x="50.2" y="627.7" font-size="9.2" text-anchor="end" dominant-baseline="central" stroke="#1e1e1e" stroke-width="0.18">β-actin</text>
<text x="184.8" y="319.5" font-size="9.5" dominant-baseline="central" stroke="#1e1e1e" stroke-width="0.18">F</text>
<rect x="293" y="337.35" width="113.7" height="4.3" fill="#4472c4"/>
<text x="289.3" y="339.5" font-size="9.2" text-anchor="end" dominant-baseline="central" stroke="#1e1e1e" stroke-width="0.18">p53 signaling pathway</text>
<rect x="293" y="347.95" width="82.4" height="4.3" fill="#4472c4"/>
<text x="289.3" y="350.1" font-size="9.2" text-anchor="end" dominant-baseline="central" stroke="#1e1e1e" stroke-width="0.18">FoxO signaling pathway</text>
<rect x="293" y="359.25" width="63" height="4.3" fill="#4472c4"/>
<text x="289.3" y="361.4" font-size="9.2" text-anchor="end" dominant-baseline="central" stroke="#1e1e1e" stroke-width="0.18">Cellular senescence</text>
<rect x="293" y="370.65" width="60.9" height="4.3" fill="#4472c4"/>
<text x="289.3" y="372.8" font-size="9.2" text-anchor="end" dominant-baseline="central" stroke="#1e1e1e" stroke-width="0.18">HIF-1 signaling pathway</text>
<rect x="293" y="381.85" width="56.9" height="4.3" fill="#4472c4"/>
<text x="289.3" y="384" font-size="9.2" text-anchor="end" dominant-baseline="central" stroke="#1e1e1e" stroke-width="0.18">JAK-STAT signaling pathway</text>
<rect x="293" y="393.15" width="54.2" height="4.3" fill="#4472c4"/>
<text x="289.3" y="395.3" font-size="9.2" text-anchor="end" dominant-baseline="central" stroke="#1e1e1e" stroke-width="0.18">Hippo signaling pathway</text>
<rect x="293" y="404.25" width="50" height="4.3" fill="#4472c4"/>
<text x="289.3" y="406.4" font-size="9.2" text-anchor="end" dominant-baseline="central" stroke="#1e1e1e" stroke-width="0.18">MAPK signaling pathway</text>
<rect x="293" y="415.45" width="33.9" height="4.3" fill="#4472c4"/>
<text x="289.3" y="417.6" font-size="9.2" text-anchor="end" dominant-baseline="central" stroke="#1e1e1e" stroke-width="0.18">TGF-beta signaling pathway</text>
<rect x="293" y="426.65" width="32" height="4.3" fill="#4472c4"/>
<text x="289.3" y="428.8" font-size="9.2" text-anchor="end" dominant-baseline="central" stroke="#1e1e1e" stroke-width="0.18">Circadian rhythm</text>
<rect x="293" y="437.75" width="32" height="4.3" fill="#4472c4"/>
<text x="289.3" y="439.9" font-size="9.2" text-anchor="end" dominant-baseline="central" stroke="#1e1e1e" stroke-width="0.18">TNF signaling pathway</text>
<line x1="292.6" y1="333" x2="292.6" y2="446" stroke="#8a8a8a" stroke-width="0.9"/>
<polyline points="343.3,338.3 353.5,348.7 353.9,359.2 340.4,369.1 346.9,379.6 353.5,389.9 350.6,400.1 380.5,410 326.5,420.2 309.7,430.7 330.6,441.2" fill="none" stroke="#e0773a" stroke-width="0.9"/>
<text x="282.6" y="327.2" font-size="9.2" text-anchor="end" dominant-baseline="central" stroke="#1e1e1e" stroke-width="0.18">Gene count</text>
<text x="292.7" y="327.2" font-size="9.2" text-anchor="middle" dominant-baseline="central" stroke="#1e1e1e" stroke-width="0.18">0</text>
<text x="329.6" y="327.2" font-size="9.2" text-anchor="middle" dominant-baseline="central" stroke="#1e1e1e" stroke-width="0.18">10</text>
<text x="367" y="327.2" font-size="9.2" text-anchor="middle" dominant-baseline="central" stroke="#1e1e1e" stroke-width="0.18">20</text>
<text x="405.5" y="327.2" font-size="9.2" text-anchor="middle" dominant-baseline="central" stroke="#1e1e1e" stroke-width="0.18">30</text>
<text x="280.2" y="453.3" font-size="9.2" text-anchor="end" dominant-baseline="central" stroke="#1e1e1e" stroke-width="0.18">-log<tspan font-size="5.52" dy="2">10</tspan><tspan dy="-2"> (</tspan><tspan font-style="italic">P value</tspan>)</text>
<text x="293.6" y="453.3" font-size="9.2" text-anchor="middle" dominant-baseline="central" stroke="#1e1e1e" stroke-width="0.18">0</text>
<text x="329.6" y="453.3" font-size="9.2" text-anchor="middle" dominant-baseline="central" stroke="#1e1e1e" stroke-width="0.18">2</text>
<text x="365.4" y="453.3" font-size="9.2" text-anchor="middle" dominant-baseline="central" stroke="#1e1e1e" stroke-width="0.18">4</text>
<text x="401.5" y="453.3" font-size="9.2" text-anchor="middle" dominant-baseline="central" stroke="#1e1e1e" stroke-width="0.18">6</text>
<rect x="228" y="464.9" width="16.5" height="4.2" fill="#4472c4"/>
<text x="254.3" y="467" font-size="9.2" text-anchor="start" dominant-baseline="central" stroke="#1e1e1e" stroke-width="0.18">-log<tspan font-size="5.52" dy="2">10</tspan><tspan dy="-2"> (</tspan><tspan font-style="italic">P value</tspan>)</text>
<line x1="338.4" y1="467" x2="354.2" y2="467" stroke="#e0773a" stroke-width="0.9"/>
<text x="365.4" y="467" font-size="9.2" dominant-baseline="central" stroke="#1e1e1e" stroke-width="0.18">Gene count</text>
<rect x="291.4" y="501.95" width="118.4" height="4.3" fill="#4472c4"/>
<text x="287.3" y="504.1" font-size="9.2" text-anchor="end" dominant-baseline="central" stroke="#1e1e1e" stroke-width="0.18">ECM-receptor interaction</text>
<rect x="291.4" y="512.35" width="108" height="4.3" fill="#4472c4"/>
<text x="287.3" y="514.5" font-size="9.2" text-anchor="end" dominant-baseline="central" stroke="#1e1e1e" stroke-width="0.18">IL-17 signaling pathway</text>
<rect x="291.4" y="523.25" width="73.1" height="4.3" fill="#4472c4"/>
<text x="287.3" y="525.4" font-size="9.2" text-anchor="end" dominant-baseline="central" stroke="#1e1e1e" stroke-width="0.18">PI3K-Akt signaling pathway</text>
<rect x="291.4" y="533.65" width="71.9" height="4.3" fill="#4472c4"/>
<text x="287.3" y="535.8" font-size="9.2" text-anchor="end" dominant-baseline="central" stroke="#1e1e1e" stroke-width="0.18">Focal adhesion</text>
<rect x="291.4" y="544.45" width="67.8" height="4.3" fill="#4472c4"/>
<text x="287.3" y="546.6" font-size="9.2" text-anchor="end" dominant-baseline="central" stroke="#1e1e1e" stroke-width="0.18">VEGF signaling pathway</text>
<rect x="291.4" y="555.15" width="63.4" height="4.3" fill="#4472c4"/>
<text x="287.3" y="557.3" font-size="9.2" text-anchor="end" dominant-baseline="central" stroke="#1e1e1e" stroke-width="0.18">Relaxin signaling pathway</text>
<rect x="291.4" y="565.95" width="61.5" height="4.3" fill="#4472c4"/>
<text x="287.3" y="568.1" font-size="9.2" text-anchor="end" dominant-baseline="central" stroke="#1e1e1e" stroke-width="0.18">TGF-beta signaling pathway</text>
<rect x="291.4" y="576.35" width="60.2" height="4.3" fill="#4472c4"/>
<text x="287.3" y="578.5" font-size="9.2" text-anchor="end" dominant-baseline="central" stroke="#1e1e1e" stroke-width="0.18">PPAR signaling pathway</text>
<rect x="291.4" y="587.15" width="57.3" height="4.3" fill="#4472c4"/>
<text x="287.3" y="589.3" font-size="9.2" text-anchor="end" dominant-baseline="central" stroke="#1e1e1e" stroke-width="0.18">Rap1 signaling pathway</text>
<rect x="291.4" y="597.85" width="51.6" height="4.3" fill="#4472c4"/>
<text x="287.3" y="600" font-size="9.2" text-anchor="end" dominant-baseline="central" stroke="#1e1e1e" stroke-width="0.18">Adherens junction</text>
<line x1="290.9" y1="497.8" x2="290.9" y2="607" stroke="#8a8a8a" stroke-width="0.9"/>
<polyline points="325.6,503.5 325.6,513.4 367.7,523.5 341.1,533 312.7,551.9 325,561.4 314.6,581.4 338.3,590.8 311.7,600.7" fill="none" stroke="#e0773a" stroke-width="0.9"/>
<text x="280.6" y="492.2" font-size="9.2" text-anchor="end" dominant-baseline="central" stroke="#1e1e1e" stroke-width="0.18">Gene count</text>
<text x="291.2" y="492.2" font-size="9.2" text-anchor="middle" dominant-baseline="central" stroke="#1e1e1e" stroke-width="0.18">0</text>
<text x="320.4" y="492.2" font-size="9.2" text-anchor="middle" dominant-baseline="central" stroke="#1e1e1e" stroke-width="0.18">15</text>
<text x="350.5" y="492.2" font-size="9.2" text-anchor="middle" dominant-baseline="central" stroke="#1e1e1e" stroke-width="0.18">30</text>
<text x="381.1" y="492.2" font-size="9.2" text-anchor="middle" dominant-baseline="central" stroke="#1e1e1e" stroke-width="0.18">45</text>
<text x="412" y="492.2" font-size="9.2" text-anchor="middle" dominant-baseline="central" stroke="#1e1e1e" stroke-width="0.18">60</text>
<text x="278.9" y="612.3" font-size="9.2" text-anchor="end" dominant-baseline="central" stroke="#1e1e1e" stroke-width="0.18">-log<tspan font-size="5.52" dy="2">10</tspan><tspan dy="-2"> (</tspan><tspan font-style="italic">P value</tspan>)</text>
<text x="291.2" y="612.3" font-size="9.2" text-anchor="middle" dominant-baseline="central" stroke="#1e1e1e" stroke-width="0.18">0</text>
<text x="318.5" y="612.3" font-size="9.2" text-anchor="middle" dominant-baseline="central" stroke="#1e1e1e" stroke-width="0.18">1</text>
<text x="350.8" y="612.3" font-size="9.2" text-anchor="middle" dominant-baseline="central" stroke="#1e1e1e" stroke-width="0.18">2</text>
<text x="386" y="612.3" font-size="9.2" text-anchor="middle" dominant-baseline="central" stroke="#1e1e1e" stroke-width="0.18">3</text>
<text x="417.8" y="612.3" font-size="9.2" text-anchor="middle" dominant-baseline="central" stroke="#1e1e1e" stroke-width="0.18">4</text>
<rect x="229.9" y="626.2" width="15.4" height="4.2" fill="#4472c4"/>
<text x="252.6" y="628.3" font-size="9.2" text-anchor="start" dominant-baseline="central" stroke="#1e1e1e" stroke-width="0.18">-log<tspan font-size="5.52" dy="2">10</tspan><tspan dy="-2"> (</tspan><tspan font-style="italic">P value</tspan>)</text>
<line x1="339.1" y1="628.3" x2="354" y2="628.3" stroke="#e0773a" stroke-width="0.9"/>
<text x="366.4" y="628.3" font-size="9.2" dominant-baseline="central" stroke="#1e1e1e" stroke-width="0.18">Gene count</text>
<text x="428.7" y="320.6" font-size="9.5" dominant-baseline="central" stroke="#1e1e1e" stroke-width="0.18">G</text>
<line x1="460.9" y1="327.4" x2="460.9" y2="440.8" stroke="#8c8c8c" stroke-width="1.2"/>
<line x1="456.1" y1="440.8" x2="460.9" y2="440.8" stroke="#8c8c8c" stroke-width="1.2"/>
<text x="455.2" y="440.8" font-size="9.2" text-anchor="end" dominant-baseline="central" stroke="#1e1e1e" stroke-width="0.18">0.0</text>
<line x1="456.1" y1="403" x2="460.9" y2="403" stroke="#8c8c8c" stroke-width="1.2"/>
<text x="455.2" y="403" font-size="9.2" text-anchor="end" dominant-baseline="central" stroke="#1e1e1e" stroke-width="0.18">0.5</text>
<line x1="456.1" y1="365.2" x2="460.9" y2="365.2" stroke="#8c8c8c" stroke-width="1.2"/>
<text x="455.2" y="365.2" font-size="9.2" text-anchor="end" dominant-baseline="central" stroke="#1e1e1e" stroke-width="0.18">1.0</text>
<line x1="456.1" y1="327.4" x2="460.9" y2="327.4" stroke="#8c8c8c" stroke-width="1.2"/>
<text x="455.2" y="327.4" font-size="9.2" text-anchor="end" dominant-baseline="central" stroke="#1e1e1e" stroke-width="0.18">1.5</text>
<text x="438" y="389.7" font-size="8.9" text-anchor="middle" transform="rotate(-90 438 389.7)" dominant-baseline="central" stroke="#1e1e1e" stroke-width="0.18">Relative level of mRNA</text>
<rect x="471.1" y="324.4" width="13.9" height="7" fill="#5f8fa8"/>
<text x="490.5" y="328.1" font-size="9.3" dominant-baseline="central" stroke="#1e1e1e" stroke-width="0.18">siNC</text>
<rect x="521.4" y="324.4" width="14.6" height="7" fill="#d08a65"/>
<text x="540.7" y="328.1" font-size="9.3" dominant-baseline="central" stroke="#1e1e1e" stroke-width="0.18">siJAB1-1</text>
<rect x="583.2" y="324.4" width="13.6" height="7" fill="#7db356"/>
<text x="602.8" y="328.1" font-size="9.3" dominant-baseline="central" stroke="#1e1e1e" stroke-width="0.18">siJAB1-2</text>
<line x1="460.9" y1="440.8" x2="664.2" y2="440.8" stroke="#8c8c8c" stroke-width="1.2"/>
<rect x="462.9" y="365.2" width="4" height="75.6" fill="#5f8fa8"/>
<line x1="464.9" y1="363.69" x2="464.9" y2="366.71" stroke="#333" stroke-width="0.75"/>
<line x1="463.6" y1="363.69" x2="466.2" y2="363.69" stroke="#333" stroke-width="0.75"/>
<line x1="463.6" y1="366.71" x2="466.2" y2="366.71" stroke="#333" stroke-width="0.75"/>
<rect x="466.9" y="439.29" width="4" height="1.51" fill="#d08a65"/>
<line x1="468.9" y1="438.53" x2="468.9" y2="440.04" stroke="#333" stroke-width="0.75"/>
<line x1="467.6" y1="438.53" x2="470.2" y2="438.53" stroke="#333" stroke-width="0.75"/>
<line x1="467.6" y1="440.04" x2="470.2" y2="440.04" stroke="#333" stroke-width="0.75"/>
<text x="468.9" y="439.72" font-size="9.6" text-anchor="middle" fill="#555" dominant-baseline="auto" stroke="#555" stroke-width="0.2">*</text>
<text x="468.9" y="435.02" font-size="9.6" text-anchor="middle" fill="#555" dominant-baseline="auto" stroke="#555" stroke-width="0.2">*</text>
<text x="468.9" y="430.32" font-size="9.6" text-anchor="middle" fill="#555" dominant-baseline="auto" stroke="#555" stroke-width="0.2">*</text>
<rect x="470.9" y="440.04" width="4" height="0.76" fill="#7db356"/>
<line x1="472.9" y1="439.29" x2="472.9" y2="440.8" stroke="#333" stroke-width="0.75"/>
<line x1="471.6" y1="439.29" x2="474.2" y2="439.29" stroke="#333" stroke-width="0.75"/>
<line x1="471.6" y1="440.8" x2="474.2" y2="440.8" stroke="#333" stroke-width="0.75"/>
<text x="472.9" y="440.48" font-size="9.6" text-anchor="middle" fill="#555" dominant-baseline="auto" stroke="#555" stroke-width="0.2">*</text>
<text x="472.9" y="435.78" font-size="9.6" text-anchor="middle" fill="#555" dominant-baseline="auto" stroke="#555" stroke-width="0.2">*</text>
<text x="472.9" y="431.08" font-size="9.6" text-anchor="middle" fill="#555" dominant-baseline="auto" stroke="#555" stroke-width="0.2">*</text>
<line x1="468.9" y1="440.8" x2="468.9" y2="444.8" stroke="#555" stroke-width="0.9"/>
<text x="473.6" y="452" font-size="9" text-anchor="end" transform="rotate(-45 473.6 452)" dominant-baseline="auto" stroke="#1e1e1e" stroke-width="0.18">JAB1</text>
<rect x="478.57" y="367.47" width="4" height="73.33" fill="#5f8fa8"/>
<line x1="480.57" y1="358.4" x2="480.57" y2="376.54" stroke="#333" stroke-width="0.75"/>
<line x1="479.27" y1="358.4" x2="481.87" y2="358.4" stroke="#333" stroke-width="0.75"/>
<line x1="479.27" y1="376.54" x2="481.87" y2="376.54" stroke="#333" stroke-width="0.75"/>
<rect x="482.57" y="417.36" width="4" height="23.44" fill="#d08a65"/>
<line x1="484.57" y1="415.85" x2="484.57" y2="418.88" stroke="#333" stroke-width="0.75"/>
<line x1="483.27" y1="415.85" x2="485.87" y2="415.85" stroke="#333" stroke-width="0.75"/>
<line x1="483.27" y1="418.88" x2="485.87" y2="418.88" stroke="#333" stroke-width="0.75"/>
<text x="484.57" y="417.04" font-size="9.6" text-anchor="middle" fill="#555" dominant-baseline="auto" stroke="#555" stroke-width="0.2">*</text>
<text x="484.57" y="412.34" font-size="9.6" text-anchor="middle" fill="#555" dominant-baseline="auto" stroke="#555" stroke-width="0.2">*</text>
<rect x="486.57" y="405.27" width="4" height="35.53" fill="#7db356"/>
<line x1="488.57" y1="399.22" x2="488.57" y2="411.32" stroke="#333" stroke-width="0.75"/>
<line x1="487.27" y1="399.22" x2="489.87" y2="399.22" stroke="#333" stroke-width="0.75"/>
<line x1="487.27" y1="411.32" x2="489.87" y2="411.32" stroke="#333" stroke-width="0.75"/>
<text x="488.57" y="400.41" font-size="9.6" text-anchor="middle" fill="#555" dominant-baseline="auto" stroke="#555" stroke-width="0.2">*</text>
<line x1="484.57" y1="440.8" x2="484.57" y2="444.8" stroke="#555" stroke-width="0.9"/>
<text x="489.27" y="452" font-size="9" text-anchor="end" transform="rotate(-45 489.27 452)" dominant-baseline="auto" stroke="#1e1e1e" stroke-width="0.18">BMP4</text>
<rect x="494.24" y="365.2" width="4" height="75.6" fill="#5f8fa8"/>
<line x1="496.24" y1="360.66" x2="496.24" y2="369.74" stroke="#333" stroke-width="0.75"/>
<line x1="494.94" y1="360.66" x2="497.54" y2="360.66" stroke="#333" stroke-width="0.75"/>
<line x1="494.94" y1="369.74" x2="497.54" y2="369.74" stroke="#333" stroke-width="0.75"/>
<rect x="498.24" y="412.83" width="4" height="27.97" fill="#d08a65"/>
<line x1="500.24" y1="408.29" x2="500.24" y2="417.36" stroke="#333" stroke-width="0.75"/>
<line x1="498.94" y1="408.29" x2="501.54" y2="408.29" stroke="#333" stroke-width="0.75"/>
<line x1="498.94" y1="417.36" x2="501.54" y2="417.36" stroke="#333" stroke-width="0.75"/>
<text x="500.24" y="409.48" font-size="9.6" text-anchor="middle" fill="#555" dominant-baseline="auto" stroke="#555" stroke-width="0.2">*</text>
<text x="500.24" y="404.78" font-size="9.6" text-anchor="middle" fill="#555" dominant-baseline="auto" stroke="#555" stroke-width="0.2">*</text>
<rect x="502.24" y="412.07" width="4" height="28.73" fill="#7db356"/>
<line x1="504.24" y1="409.8" x2="504.24" y2="414.34" stroke="#333" stroke-width="0.75"/>
<line x1="502.94" y1="409.8" x2="505.54" y2="409.8" stroke="#333" stroke-width="0.75"/>
<line x1="502.94" y1="414.34" x2="505.54" y2="414.34" stroke="#333" stroke-width="0.75"/>
<text x="504.24" y="411" font-size="9.6" text-anchor="middle" fill="#555" dominant-baseline="auto" stroke="#555" stroke-width="0.2">*</text>
<text x="504.24" y="406.3" font-size="9.6" text-anchor="middle" fill="#555" dominant-baseline="auto" stroke="#555" stroke-width="0.2">*</text>
<line x1="500.24" y1="440.8" x2="500.24" y2="444.8" stroke="#555" stroke-width="0.9"/>
<text x="504.94" y="452" font-size="9" text-anchor="end" transform="rotate(-45 504.94 452)" dominant-baseline="auto" stroke="#1e1e1e" stroke-width="0.18">CSF2</text>
<rect x="509.91" y="362.18" width="4" height="78.62" fill="#5f8fa8"/>
<line x1="511.91" y1="353.1" x2="511.91" y2="371.25" stroke="#333" stroke-width="0.75"/>
<line x1="510.61" y1="353.1" x2="513.21" y2="353.1" stroke="#333" stroke-width="0.75"/>
<line x1="510.61" y1="371.25" x2="513.21" y2="371.25" stroke="#333" stroke-width="0.75"/>
<rect x="513.91" y="406.78" width="4" height="34.02" fill="#d08a65"/>
<line x1="515.91" y1="404.51" x2="515.91" y2="409.05" stroke="#333" stroke-width="0.75"/>
<line x1="514.61" y1="404.51" x2="517.21" y2="404.51" stroke="#333" stroke-width="0.75"/>
<line x1="514.61" y1="409.05" x2="517.21" y2="409.05" stroke="#333" stroke-width="0.75"/>
<text x="515.91" y="405.7" font-size="9.6" text-anchor="middle" fill="#555" dominant-baseline="auto" stroke="#555" stroke-width="0.2">*</text>
<text x="515.91" y="401" font-size="9.6" text-anchor="middle" fill="#555" dominant-baseline="auto" stroke="#555" stroke-width="0.2">*</text>
<rect x="517.91" y="398.46" width="4" height="42.34" fill="#7db356"/>
<line x1="519.91" y1="393.93" x2="519.91" y2="403" stroke="#333" stroke-width="0.75"/>
<line x1="518.61" y1="393.93" x2="521.21" y2="393.93" stroke="#333" stroke-width="0.75"/>
<line x1="518.61" y1="403" x2="521.21" y2="403" stroke="#333" stroke-width="0.75"/>
<text x="519.91" y="395.12" font-size="9.6" text-anchor="middle" fill="#555" dominant-baseline="auto" stroke="#555" stroke-width="0.2">*</text>
<line x1="515.91" y1="440.8" x2="515.91" y2="444.8" stroke="#555" stroke-width="0.9"/>
<text x="520.61" y="452" font-size="9" text-anchor="end" transform="rotate(-45 520.61 452)" dominant-baseline="auto" stroke="#1e1e1e" stroke-width="0.18">ERBB3</text>
<rect x="525.58" y="365.2" width="4" height="75.6" fill="#5f8fa8"/>
<line x1="527.58" y1="361.42" x2="527.58" y2="368.98" stroke="#333" stroke-width="0.75"/>
<line x1="526.28" y1="361.42" x2="528.88" y2="361.42" stroke="#333" stroke-width="0.75"/>
<line x1="526.28" y1="368.98" x2="528.88" y2="368.98" stroke="#333" stroke-width="0.75"/>
<rect x="529.58" y="401.49" width="4" height="39.31" fill="#d08a65"/>
<line x1="531.58" y1="400.73" x2="531.58" y2="402.24" stroke="#333" stroke-width="0.75"/>
<line x1="530.28" y1="400.73" x2="532.88" y2="400.73" stroke="#333" stroke-width="0.75"/>
<line x1="530.28" y1="402.24" x2="532.88" y2="402.24" stroke="#333" stroke-width="0.75"/>
<text x="531.58" y="401.92" font-size="9.6" text-anchor="middle" fill="#555" dominant-baseline="auto" stroke="#555" stroke-width="0.2">*</text>
<rect x="533.58" y="427.95" width="4" height="12.85" fill="#7db356"/>
<line x1="535.58" y1="427.19" x2="535.58" y2="428.7" stroke="#333" stroke-width="0.75"/>
<line x1="534.28" y1="427.19" x2="536.88" y2="427.19" stroke="#333" stroke-width="0.75"/>
<line x1="534.28" y1="428.7" x2="536.88" y2="428.7" stroke="#333" stroke-width="0.75"/>
<text x="535.58" y="428.38" font-size="9.6" text-anchor="middle" fill="#555" dominant-baseline="auto" stroke="#555" stroke-width="0.2">*</text>
<text x="535.58" y="423.68" font-size="9.6" text-anchor="middle" fill="#555" dominant-baseline="auto" stroke="#555" stroke-width="0.2">*</text>
<text x="535.58" y="418.98" font-size="9.6" text-anchor="middle" fill="#555" dominant-baseline="auto" stroke="#555" stroke-width="0.2">*</text>
<line x1="531.58" y1="440.8" x2="531.58" y2="444.8" stroke="#555" stroke-width="0.9"/>
<text x="536.28" y="452" font-size="9" text-anchor="end" transform="rotate(-45 536.28 452)" dominant-baseline="auto" stroke="#1e1e1e" stroke-width="0.18">EP300</text>
<rect x="541.25" y="365.2" width="4" height="75.6" fill="#5f8fa8"/>
<line x1="543.25" y1="362.93" x2="543.25" y2="367.47" stroke="#333" stroke-width="0.75"/>
<line x1="541.95" y1="362.93" x2="544.55" y2="362.93" stroke="#333" stroke-width="0.75"/>
<line x1="541.95" y1="367.47" x2="544.55" y2="367.47" stroke="#333" stroke-width="0.75"/>
<rect x="545.25" y="411.32" width="4" height="29.48" fill="#d08a65"/>
<line x1="547.25" y1="409.8" x2="547.25" y2="412.83" stroke="#333" stroke-width="0.75"/>
<line x1="545.95" y1="409.8" x2="548.55" y2="409.8" stroke="#333" stroke-width="0.75"/>
<line x1="545.95" y1="412.83" x2="548.55" y2="412.83" stroke="#333" stroke-width="0.75"/>
<text x="547.25" y="411" font-size="9.6" text-anchor="middle" fill="#555" dominant-baseline="auto" stroke="#555" stroke-width="0.2">*</text>
<text x="547.25" y="406.3" font-size="9.6" text-anchor="middle" fill="#555" dominant-baseline="auto" stroke="#555" stroke-width="0.2">*</text>
<rect x="549.25" y="410.56" width="4" height="30.24" fill="#7db356"/>
<line x1="551.25" y1="409.05" x2="551.25" y2="412.07" stroke="#333" stroke-width="0.75"/>
<line x1="549.95" y1="409.05" x2="552.55" y2="409.05" stroke="#333" stroke-width="0.75"/>
<line x1="549.95" y1="412.07" x2="552.55" y2="412.07" stroke="#333" stroke-width="0.75"/>
<text x="551.25" y="410.24" font-size="9.6" text-anchor="middle" fill="#555" dominant-baseline="auto" stroke="#555" stroke-width="0.2">*</text>
<text x="551.25" y="405.54" font-size="9.6" text-anchor="middle" fill="#555" dominant-baseline="auto" stroke="#555" stroke-width="0.2">*</text>
<line x1="547.25" y1="440.8" x2="547.25" y2="444.8" stroke="#555" stroke-width="0.9"/>
<text x="551.95" y="452" font-size="9" text-anchor="end" transform="rotate(-45 551.95 452)" dominant-baseline="auto" stroke="#1e1e1e" stroke-width="0.18">IL1B</text>
<rect x="556.92" y="365.2" width="4" height="75.6" fill="#5f8fa8"/>
<line x1="558.92" y1="356.88" x2="558.92" y2="373.52" stroke="#333" stroke-width="0.75"/>
<line x1="557.62" y1="356.88" x2="560.22" y2="356.88" stroke="#333" stroke-width="0.75"/>
<line x1="557.62" y1="373.52" x2="560.22" y2="373.52" stroke="#333" stroke-width="0.75"/>
<rect x="560.92" y="407.54" width="4" height="33.26" fill="#d08a65"/>
<line x1="562.92" y1="403" x2="562.92" y2="412.07" stroke="#333" stroke-width="0.75"/>
<line x1="561.62" y1="403" x2="564.22" y2="403" stroke="#333" stroke-width="0.75"/>
<line x1="561.62" y1="412.07" x2="564.22" y2="412.07" stroke="#333" stroke-width="0.75"/>
<text x="562.92" y="404.19" font-size="9.6" text-anchor="middle" fill="#555" dominant-baseline="auto" stroke="#555" stroke-width="0.2">*</text>
<rect x="564.92" y="402.24" width="4" height="38.56" fill="#7db356"/>
<line x1="566.92" y1="398.46" x2="566.92" y2="406.02" stroke="#333" stroke-width="0.75"/>
<line x1="565.62" y1="398.46" x2="568.22" y2="398.46" stroke="#333" stroke-width="0.75"/>
<line x1="565.62" y1="406.02" x2="568.22" y2="406.02" stroke="#333" stroke-width="0.75"/>
<text x="566.92" y="399.66" font-size="9.6" text-anchor="middle" fill="#555" dominant-baseline="auto" stroke="#555" stroke-width="0.2">*</text>
<line x1="562.92" y1="440.8" x2="562.92" y2="444.8" stroke="#555" stroke-width="0.9"/>
<text x="567.62" y="452" font-size="9" text-anchor="end" transform="rotate(-45 567.62 452)" dominant-baseline="auto" stroke="#1e1e1e" stroke-width="0.18">IRS2</text>
<rect x="572.59" y="365.2" width="4" height="75.6" fill="#5f8fa8"/>
<line x1="574.59" y1="361.42" x2="574.59" y2="368.98" stroke="#333" stroke-width="0.75"/>
<line x1="573.29" y1="361.42" x2="575.89" y2="361.42" stroke="#333" stroke-width="0.75"/>
<line x1="573.29" y1="368.98" x2="575.89" y2="368.98" stroke="#333" stroke-width="0.75"/>
<rect x="576.59" y="404.51" width="4" height="36.29" fill="#d08a65"/>
<line x1="578.59" y1="403.76" x2="578.59" y2="405.27" stroke="#333" stroke-width="0.75"/>
<line x1="577.29" y1="403.76" x2="579.89" y2="403.76" stroke="#333" stroke-width="0.75"/>
<line x1="577.29" y1="405.27" x2="579.89" y2="405.27" stroke="#333" stroke-width="0.75"/>
<text x="578.59" y="404.95" font-size="9.6" text-anchor="middle" fill="#555" dominant-baseline="auto" stroke="#555" stroke-width="0.2">*</text>
<rect x="580.59" y="393.93" width="4" height="46.87" fill="#7db356"/>
<line x1="582.59" y1="390.9" x2="582.59" y2="396.95" stroke="#333" stroke-width="0.75"/>
<line x1="581.29" y1="390.9" x2="583.89" y2="390.9" stroke="#333" stroke-width="0.75"/>
<line x1="581.29" y1="396.95" x2="583.89" y2="396.95" stroke="#333" stroke-width="0.75"/>
<text x="582.59" y="392.1" font-size="9.6" text-anchor="middle" fill="#555" dominant-baseline="auto" stroke="#555" stroke-width="0.2">*</text>
<line x1="578.59" y1="440.8" x2="578.59" y2="444.8" stroke="#555" stroke-width="0.9"/>
<text x="583.29" y="452" font-size="9" text-anchor="end" transform="rotate(-45 583.29 452)" dominant-baseline="auto" stroke="#1e1e1e" stroke-width="0.18">MAP2K6</text>
<rect x="588.26" y="365.2" width="4" height="75.6" fill="#5f8fa8"/>
<line x1="590.26" y1="361.42" x2="590.26" y2="368.98" stroke="#333" stroke-width="0.75"/>
<line x1="588.96" y1="361.42" x2="591.56" y2="361.42" stroke="#333" stroke-width="0.75"/>
<line x1="588.96" y1="368.98" x2="591.56" y2="368.98" stroke="#333" stroke-width="0.75"/>
<rect x="592.26" y="400.73" width="4" height="40.07" fill="#d08a65"/>
<line x1="594.26" y1="399.22" x2="594.26" y2="402.24" stroke="#333" stroke-width="0.75"/>
<line x1="592.96" y1="399.22" x2="595.56" y2="399.22" stroke="#333" stroke-width="0.75"/>
<line x1="592.96" y1="402.24" x2="595.56" y2="402.24" stroke="#333" stroke-width="0.75"/>
<text x="594.26" y="400.41" font-size="9.6" text-anchor="middle" fill="#555" dominant-baseline="auto" stroke="#555" stroke-width="0.2">*</text>
<rect x="596.26" y="412.07" width="4" height="28.73" fill="#7db356"/>
<line x1="598.26" y1="409.8" x2="598.26" y2="414.34" stroke="#333" stroke-width="0.75"/>
<line x1="596.96" y1="409.8" x2="599.56" y2="409.8" stroke="#333" stroke-width="0.75"/>
<line x1="596.96" y1="414.34" x2="599.56" y2="414.34" stroke="#333" stroke-width="0.75"/>
<text x="598.26" y="411" font-size="9.6" text-anchor="middle" fill="#555" dominant-baseline="auto" stroke="#555" stroke-width="0.2">*</text>
<text x="598.26" y="406.3" font-size="9.6" text-anchor="middle" fill="#555" dominant-baseline="auto" stroke="#555" stroke-width="0.2">*</text>
<line x1="594.26" y1="440.8" x2="594.26" y2="444.8" stroke="#555" stroke-width="0.9"/>
<text x="598.96" y="452" font-size="9" text-anchor="end" transform="rotate(-45 598.96 452)" dominant-baseline="auto" stroke="#1e1e1e" stroke-width="0.18">SLC2A4</text>
<rect x="603.93" y="365.2" width="4" height="75.6" fill="#5f8fa8"/>
<line x1="605.93" y1="361.42" x2="605.93" y2="368.98" stroke="#333" stroke-width="0.75"/>
<line x1="604.63" y1="361.42" x2="607.23" y2="361.42" stroke="#333" stroke-width="0.75"/>
<line x1="604.63" y1="368.98" x2="607.23" y2="368.98" stroke="#333" stroke-width="0.75"/>
<rect x="607.93" y="406.02" width="4" height="34.78" fill="#d08a65"/>
<line x1="609.93" y1="396.95" x2="609.93" y2="415.1" stroke="#333" stroke-width="0.75"/>
<line x1="608.63" y1="396.95" x2="611.23" y2="396.95" stroke="#333" stroke-width="0.75"/>
<line x1="608.63" y1="415.1" x2="611.23" y2="415.1" stroke="#333" stroke-width="0.75"/>
<text x="609.93" y="398.14" font-size="9.6" text-anchor="middle" fill="#555" dominant-baseline="auto" stroke="#555" stroke-width="0.2">*</text>
<rect x="611.93" y="409.05" width="4" height="31.75" fill="#7db356"/>
<line x1="613.93" y1="403" x2="613.93" y2="415.1" stroke="#333" stroke-width="0.75"/>
<line x1="612.63" y1="403" x2="615.23" y2="403" stroke="#333" stroke-width="0.75"/>
<line x1="612.63" y1="415.1" x2="615.23" y2="415.1" stroke="#333" stroke-width="0.75"/>
<text x="613.93" y="404.19" font-size="9.6" text-anchor="middle" fill="#555" dominant-baseline="auto" stroke="#555" stroke-width="0.2">*</text>
<text x="613.93" y="399.49" font-size="9.6" text-anchor="middle" fill="#555" dominant-baseline="auto" stroke="#555" stroke-width="0.2">*</text>
<line x1="609.93" y1="440.8" x2="609.93" y2="444.8" stroke="#555" stroke-width="0.9"/>
<text x="614.63" y="452" font-size="9" text-anchor="end" transform="rotate(-45 614.63 452)" dominant-baseline="auto" stroke="#1e1e1e" stroke-width="0.18">SOCS1</text>
<rect x="619.6" y="365.2" width="4" height="75.6" fill="#5f8fa8"/>
<line x1="621.6" y1="364.44" x2="621.6" y2="365.96" stroke="#333" stroke-width="0.75"/>
<line x1="620.3" y1="364.44" x2="622.9" y2="364.44" stroke="#333" stroke-width="0.75"/>
<line x1="620.3" y1="365.96" x2="622.9" y2="365.96" stroke="#333" stroke-width="0.75"/>
<rect x="623.6" y="409.8" width="4" height="31" fill="#d08a65"/>
<line x1="625.6" y1="408.29" x2="625.6" y2="411.32" stroke="#333" stroke-width="0.75"/>
<line x1="624.3" y1="408.29" x2="626.9" y2="408.29" stroke="#333" stroke-width="0.75"/>
<line x1="624.3" y1="411.32" x2="626.9" y2="411.32" stroke="#333" stroke-width="0.75"/>
<text x="625.6" y="409.48" font-size="9.6" text-anchor="middle" fill="#555" dominant-baseline="auto" stroke="#555" stroke-width="0.2">*</text>
<text x="625.6" y="404.78" font-size="9.6" text-anchor="middle" fill="#555" dominant-baseline="auto" stroke="#555" stroke-width="0.2">*</text>
<rect x="627.6" y="406.02" width="4" height="34.78" fill="#7db356"/>
<line x1="629.6" y1="404.51" x2="629.6" y2="407.54" stroke="#333" stroke-width="0.75"/>
<line x1="628.3" y1="404.51" x2="630.9" y2="404.51" stroke="#333" stroke-width="0.75"/>
<line x1="628.3" y1="407.54" x2="630.9" y2="407.54" stroke="#333" stroke-width="0.75"/>
<text x="629.6" y="405.7" font-size="9.6" text-anchor="middle" fill="#555" dominant-baseline="auto" stroke="#555" stroke-width="0.2">*</text>
<text x="629.6" y="401" font-size="9.6" text-anchor="middle" fill="#555" dominant-baseline="auto" stroke="#555" stroke-width="0.2">*</text>
<line x1="625.6" y1="440.8" x2="625.6" y2="444.8" stroke="#555" stroke-width="0.9"/>
<text x="630.3" y="452" font-size="9" text-anchor="end" transform="rotate(-45 630.3 452)" dominant-baseline="auto" stroke="#1e1e1e" stroke-width="0.18">STAT2</text>
<rect x="635.27" y="365.2" width="4" height="75.6" fill="#5f8fa8"/>
<line x1="637.27" y1="363.69" x2="637.27" y2="366.71" stroke="#333" stroke-width="0.75"/>
<line x1="635.97" y1="363.69" x2="638.57" y2="363.69" stroke="#333" stroke-width="0.75"/>
<line x1="635.97" y1="366.71" x2="638.57" y2="366.71" stroke="#333" stroke-width="0.75"/>
<rect x="639.27" y="404.51" width="4" height="36.29" fill="#d08a65"/>
<line x1="641.27" y1="403" x2="641.27" y2="406.02" stroke="#333" stroke-width="0.75"/>
<line x1="639.97" y1="403" x2="642.57" y2="403" stroke="#333" stroke-width="0.75"/>
<line x1="639.97" y1="406.02" x2="642.57" y2="406.02" stroke="#333" stroke-width="0.75"/>
<text x="641.27" y="404.19" font-size="9.6" text-anchor="middle" fill="#555" dominant-baseline="auto" stroke="#555" stroke-width="0.2">*</text>
<rect x="643.27" y="421.14" width="4" height="19.66" fill="#7db356"/>
<line x1="645.27" y1="420.39" x2="645.27" y2="421.9" stroke="#333" stroke-width="0.75"/>
<line x1="643.97" y1="420.39" x2="646.57" y2="420.39" stroke="#333" stroke-width="0.75"/>
<line x1="643.97" y1="421.9" x2="646.57" y2="421.9" stroke="#333" stroke-width="0.75"/>
<text x="645.27" y="421.58" font-size="9.6" text-anchor="middle" fill="#555" dominant-baseline="auto" stroke="#555" stroke-width="0.2">*</text>
<text x="645.27" y="416.88" font-size="9.6" text-anchor="middle" fill="#555" dominant-baseline="auto" stroke="#555" stroke-width="0.2">*</text>
<line x1="641.27" y1="440.8" x2="641.27" y2="444.8" stroke="#555" stroke-width="0.9"/>
<text x="645.97" y="452" font-size="9" text-anchor="end" transform="rotate(-45 645.97 452)" dominant-baseline="auto" stroke="#1e1e1e" stroke-width="0.18">STAT4</text>
<rect x="650.94" y="365.2" width="4" height="75.6" fill="#5f8fa8"/>
<line x1="652.94" y1="357.64" x2="652.94" y2="372.76" stroke="#333" stroke-width="0.75"/>
<line x1="651.64" y1="357.64" x2="654.24" y2="357.64" stroke="#333" stroke-width="0.75"/>
<line x1="651.64" y1="372.76" x2="654.24" y2="372.76" stroke="#333" stroke-width="0.75"/>
<rect x="654.94" y="396.95" width="4" height="43.85" fill="#d08a65"/>
<line x1="656.94" y1="390.15" x2="656.94" y2="403.76" stroke="#333" stroke-width="0.75"/>
<line x1="655.64" y1="390.15" x2="658.24" y2="390.15" stroke="#333" stroke-width="0.75"/>
<line x1="655.64" y1="403.76" x2="658.24" y2="403.76" stroke="#333" stroke-width="0.75"/>
<text x="656.94" y="391.34" font-size="9.6" text-anchor="middle" fill="#555" dominant-baseline="auto" stroke="#555" stroke-width="0.2">*</text>
<rect x="658.94" y="419.63" width="4" height="21.17" fill="#7db356"/>
<line x1="660.94" y1="418.12" x2="660.94" y2="421.14" stroke="#333" stroke-width="0.75"/>
<line x1="659.64" y1="418.12" x2="662.24" y2="418.12" stroke="#333" stroke-width="0.75"/>
<line x1="659.64" y1="421.14" x2="662.24" y2="421.14" stroke="#333" stroke-width="0.75"/>
<text x="660.94" y="419.31" font-size="9.6" text-anchor="middle" fill="#555" dominant-baseline="auto" stroke="#555" stroke-width="0.2">*</text>
<text x="660.94" y="414.61" font-size="9.6" text-anchor="middle" fill="#555" dominant-baseline="auto" stroke="#555" stroke-width="0.2">*</text>
<line x1="656.94" y1="440.8" x2="656.94" y2="444.8" stroke="#555" stroke-width="0.9"/>
<text x="661.64" y="452" font-size="9" text-anchor="end" transform="rotate(-45 661.64 452)" dominant-baseline="auto" stroke="#1e1e1e" stroke-width="0.18">TGFBR1</text>
<text x="428.7" y="478.2" font-size="9.5" dominant-baseline="central" stroke="#1e1e1e" stroke-width="0.18">H</text>
<line x1="461.5" y1="493.52" x2="461.5" y2="610.4" stroke="#8c8c8c" stroke-width="1.2"/>
<line x1="456.7" y1="610.4" x2="461.5" y2="610.4" stroke="#8c8c8c" stroke-width="1.2"/>
<text x="454.2" y="610.4" font-size="9.2" text-anchor="end" dominant-baseline="central" stroke="#1e1e1e" stroke-width="0.18">0</text>
<line x1="456.7" y1="581.18" x2="461.5" y2="581.18" stroke="#8c8c8c" stroke-width="1.2"/>
<text x="454.2" y="581.18" font-size="9.2" text-anchor="end" dominant-baseline="central" stroke="#1e1e1e" stroke-width="0.18">1</text>
<line x1="456.7" y1="551.96" x2="461.5" y2="551.96" stroke="#8c8c8c" stroke-width="1.2"/>
<text x="454.2" y="551.96" font-size="9.2" text-anchor="end" dominant-baseline="central" stroke="#1e1e1e" stroke-width="0.18">2</text>
<line x1="456.7" y1="522.74" x2="461.5" y2="522.74" stroke="#8c8c8c" stroke-width="1.2"/>
<text x="454.2" y="522.74" font-size="9.2" text-anchor="end" dominant-baseline="central" stroke="#1e1e1e" stroke-width="0.18">3</text>
<line x1="456.7" y1="493.52" x2="461.5" y2="493.52" stroke="#8c8c8c" stroke-width="1.2"/>
<text x="454.2" y="493.52" font-size="9.2" text-anchor="end" dominant-baseline="central" stroke="#1e1e1e" stroke-width="0.18">4</text>
<text x="437" y="551.7" font-size="8.9" text-anchor="middle" transform="rotate(-90 437 551.7)" dominant-baseline="central" stroke="#1e1e1e" stroke-width="0.18">Relative level of mRNA</text>
<rect x="471.1" y="482.1" width="14.3" height="7" fill="#5f8fa8"/>
<text x="491.5" y="485.8" font-size="9.3" dominant-baseline="central" stroke="#1e1e1e" stroke-width="0.18">siNC</text>
<rect x="525.3" y="482.1" width="14.3" height="7" fill="#d08a65"/>
<text x="545.1" y="485.8" font-size="9.3" dominant-baseline="central" stroke="#1e1e1e" stroke-width="0.18">siJAB1-1</text>
<rect x="588.3" y="482.1" width="14.3" height="7" fill="#7db356"/>
<text x="608.8" y="485.8" font-size="9.3" dominant-baseline="central" stroke="#1e1e1e" stroke-width="0.18">siJAB1-2</text>
<line x1="461.5" y1="610.4" x2="669.7" y2="610.4" stroke="#8c8c8c" stroke-width="1.2"/>
<rect x="462.9" y="581.18" width="4.2" height="29.22" fill="#5f8fa8"/>
<line x1="465" y1="579.72" x2="465" y2="582.64" stroke="#333" stroke-width="0.75"/>
<line x1="463.7" y1="579.72" x2="466.3" y2="579.72" stroke="#333" stroke-width="0.75"/>
<line x1="463.7" y1="582.64" x2="466.3" y2="582.64" stroke="#333" stroke-width="0.75"/>
<rect x="467.1" y="545.24" width="4.2" height="65.16" fill="#d08a65"/>
<line x1="469.2" y1="542.32" x2="469.2" y2="548.16" stroke="#333" stroke-width="0.75"/>
<line x1="467.9" y1="542.32" x2="470.5" y2="542.32" stroke="#333" stroke-width="0.75"/>
<line x1="467.9" y1="548.16" x2="470.5" y2="548.16" stroke="#333" stroke-width="0.75"/>
<text x="469.2" y="543.11" font-size="9.6" text-anchor="middle" fill="#555" dominant-baseline="auto" stroke="#555" stroke-width="0.2">*</text>
<text x="469.2" y="538.21" font-size="9.6" text-anchor="middle" fill="#555" dominant-baseline="auto" stroke="#555" stroke-width="0.2">*</text>
<rect x="471.3" y="560.73" width="4.2" height="49.67" fill="#7db356"/>
<line x1="473.4" y1="558.68" x2="473.4" y2="562.77" stroke="#333" stroke-width="0.75"/>
<line x1="472.1" y1="558.68" x2="474.7" y2="558.68" stroke="#333" stroke-width="0.75"/>
<line x1="472.1" y1="562.77" x2="474.7" y2="562.77" stroke="#333" stroke-width="0.75"/>
<text x="473.4" y="559.47" font-size="9.6" text-anchor="middle" fill="#555" dominant-baseline="auto" stroke="#555" stroke-width="0.2">*</text>
<text x="473.4" y="554.57" font-size="9.6" text-anchor="middle" fill="#555" dominant-baseline="auto" stroke="#555" stroke-width="0.2">*</text>
<line x1="469.2" y1="610.4" x2="469.2" y2="614.4" stroke="#555" stroke-width="0.9"/>
<text x="474.1" y="621.4" font-size="9" text-anchor="end" transform="rotate(-45 474.1 621.4)" dominant-baseline="auto" stroke="#1e1e1e" stroke-width="0.18">ACSL5</text>
<rect x="480.35" y="581.18" width="4.2" height="29.22" fill="#5f8fa8"/>
<line x1="482.45" y1="580.89" x2="482.45" y2="581.47" stroke="#333" stroke-width="0.75"/>
<line x1="481.15" y1="580.89" x2="483.75" y2="580.89" stroke="#333" stroke-width="0.75"/>
<line x1="481.15" y1="581.47" x2="483.75" y2="581.47" stroke="#333" stroke-width="0.75"/>
<rect x="484.55" y="531.21" width="4.2" height="79.19" fill="#d08a65"/>
<line x1="486.65" y1="530.34" x2="486.65" y2="532.09" stroke="#333" stroke-width="0.75"/>
<line x1="485.35" y1="530.34" x2="487.95" y2="530.34" stroke="#333" stroke-width="0.75"/>
<line x1="485.35" y1="532.09" x2="487.95" y2="532.09" stroke="#333" stroke-width="0.75"/>
<text x="486.65" y="531.13" font-size="9.6" text-anchor="middle" fill="#555" dominant-baseline="auto" stroke="#555" stroke-width="0.2">*</text>
<text x="486.65" y="526.23" font-size="9.6" text-anchor="middle" fill="#555" dominant-baseline="auto" stroke="#555" stroke-width="0.2">*</text>
<rect x="488.75" y="518.36" width="4.2" height="92.04" fill="#7db356"/>
<line x1="490.85" y1="508.13" x2="490.85" y2="528.58" stroke="#333" stroke-width="0.75"/>
<line x1="489.55" y1="508.13" x2="492.15" y2="508.13" stroke="#333" stroke-width="0.75"/>
<line x1="489.55" y1="528.58" x2="492.15" y2="528.58" stroke="#333" stroke-width="0.75"/>
<text x="490.85" y="508.92" font-size="9.6" text-anchor="middle" fill="#555" dominant-baseline="auto" stroke="#555" stroke-width="0.2">*</text>
<text x="490.85" y="504.02" font-size="9.6" text-anchor="middle" fill="#555" dominant-baseline="auto" stroke="#555" stroke-width="0.2">*</text>
<text x="490.85" y="499.12" font-size="9.6" text-anchor="middle" fill="#555" dominant-baseline="auto" stroke="#555" stroke-width="0.2">*</text>
<line x1="486.65" y1="610.4" x2="486.65" y2="614.4" stroke="#555" stroke-width="0.9"/>
<text x="491.35" y="621.4" font-size="9" text-anchor="end" transform="rotate(-45 491.35 621.4)" dominant-baseline="auto" stroke="#1e1e1e" stroke-width="0.18">ADCY9</text>
<rect x="497.8" y="581.18" width="4.2" height="29.22" fill="#5f8fa8"/>
<line x1="499.9" y1="575.34" x2="499.9" y2="587.02" stroke="#333" stroke-width="0.75"/>
<line x1="498.6" y1="575.34" x2="501.2" y2="575.34" stroke="#333" stroke-width="0.75"/>
<line x1="498.6" y1="587.02" x2="501.2" y2="587.02" stroke="#333" stroke-width="0.75"/>
<rect x="502" y="542.32" width="4.2" height="68.08" fill="#d08a65"/>
<line x1="504.1" y1="538.81" x2="504.1" y2="545.82" stroke="#333" stroke-width="0.75"/>
<line x1="502.8" y1="538.81" x2="505.4" y2="538.81" stroke="#333" stroke-width="0.75"/>
<line x1="502.8" y1="545.82" x2="505.4" y2="545.82" stroke="#333" stroke-width="0.75"/>
<text x="504.1" y="539.6" font-size="9.6" text-anchor="middle" fill="#555" dominant-baseline="auto" stroke="#555" stroke-width="0.2">*</text>
<text x="504.1" y="534.7" font-size="9.6" text-anchor="middle" fill="#555" dominant-baseline="auto" stroke="#555" stroke-width="0.2">*</text>
<rect x="506.2" y="537.64" width="4.2" height="72.76" fill="#7db356"/>
<line x1="508.3" y1="535.6" x2="508.3" y2="539.69" stroke="#333" stroke-width="0.75"/>
<line x1="507" y1="535.6" x2="509.6" y2="535.6" stroke="#333" stroke-width="0.75"/>
<line x1="507" y1="539.69" x2="509.6" y2="539.69" stroke="#333" stroke-width="0.75"/>
<text x="508.3" y="536.39" font-size="9.6" text-anchor="middle" fill="#555" dominant-baseline="auto" stroke="#555" stroke-width="0.2">*</text>
<text x="508.3" y="531.49" font-size="9.6" text-anchor="middle" fill="#555" dominant-baseline="auto" stroke="#555" stroke-width="0.2">*</text>
<line x1="504.1" y1="610.4" x2="504.1" y2="614.4" stroke="#555" stroke-width="0.9"/>
<text x="508.6" y="621.4" font-size="9" text-anchor="end" transform="rotate(-45 508.6 621.4)" dominant-baseline="auto" stroke="#1e1e1e" stroke-width="0.18">G0S2</text>
<rect x="515.25" y="581.18" width="4.2" height="29.22" fill="#5f8fa8"/>
<line x1="517.35" y1="579.43" x2="517.35" y2="582.93" stroke="#333" stroke-width="0.75"/>
<line x1="516.05" y1="579.43" x2="518.65" y2="579.43" stroke="#333" stroke-width="0.75"/>
<line x1="516.05" y1="582.93" x2="518.65" y2="582.93" stroke="#333" stroke-width="0.75"/>
<rect x="519.45" y="535.6" width="4.2" height="74.8" fill="#d08a65"/>
<line x1="521.55" y1="531.21" x2="521.55" y2="539.98" stroke="#333" stroke-width="0.75"/>
<line x1="520.25" y1="531.21" x2="522.85" y2="531.21" stroke="#333" stroke-width="0.75"/>
<line x1="520.25" y1="539.98" x2="522.85" y2="539.98" stroke="#333" stroke-width="0.75"/>
<text x="521.55" y="532.01" font-size="9.6" text-anchor="middle" fill="#555" dominant-baseline="auto" stroke="#555" stroke-width="0.2">*</text>
<text x="521.55" y="527.11" font-size="9.6" text-anchor="middle" fill="#555" dominant-baseline="auto" stroke="#555" stroke-width="0.2">*</text>
<rect x="523.65" y="562.48" width="4.2" height="47.92" fill="#7db356"/>
<line x1="525.75" y1="554.3" x2="525.75" y2="570.66" stroke="#333" stroke-width="0.75"/>
<line x1="524.45" y1="554.3" x2="527.05" y2="554.3" stroke="#333" stroke-width="0.75"/>
<line x1="524.45" y1="570.66" x2="527.05" y2="570.66" stroke="#333" stroke-width="0.75"/>
<text x="525.75" y="555.09" font-size="9.6" text-anchor="middle" fill="#555" dominant-baseline="auto" stroke="#555" stroke-width="0.2">*</text>
<line x1="521.55" y1="610.4" x2="521.55" y2="614.4" stroke="#555" stroke-width="0.9"/>
<text x="525.85" y="621.4" font-size="9" text-anchor="end" transform="rotate(-45 525.85 621.4)" dominant-baseline="auto" stroke="#1e1e1e" stroke-width="0.18">ITGB7</text>
<rect x="532.7" y="581.18" width="4.2" height="29.22" fill="#5f8fa8"/>
<line x1="534.8" y1="580.89" x2="534.8" y2="581.47" stroke="#333" stroke-width="0.75"/>
<line x1="533.5" y1="580.89" x2="536.1" y2="580.89" stroke="#333" stroke-width="0.75"/>
<line x1="533.5" y1="581.47" x2="536.1" y2="581.47" stroke="#333" stroke-width="0.75"/>
<rect x="536.9" y="565.99" width="4.2" height="44.41" fill="#d08a65"/>
<line x1="539" y1="565.4" x2="539" y2="566.57" stroke="#333" stroke-width="0.75"/>
<line x1="537.7" y1="565.4" x2="540.3" y2="565.4" stroke="#333" stroke-width="0.75"/>
<line x1="537.7" y1="566.57" x2="540.3" y2="566.57" stroke="#333" stroke-width="0.75"/>
<text x="539" y="566.19" font-size="9.6" text-anchor="middle" fill="#555" dominant-baseline="auto" stroke="#555" stroke-width="0.2">*</text>
<rect x="541.1" y="573.88" width="4.2" height="36.52" fill="#7db356"/>
<line x1="543.2" y1="572.71" x2="543.2" y2="575.04" stroke="#333" stroke-width="0.75"/>
<line x1="541.9" y1="572.71" x2="544.5" y2="572.71" stroke="#333" stroke-width="0.75"/>
<line x1="541.9" y1="575.04" x2="544.5" y2="575.04" stroke="#333" stroke-width="0.75"/>
<text x="543.2" y="573.5" font-size="9.6" text-anchor="middle" fill="#555" dominant-baseline="auto" stroke="#555" stroke-width="0.2">*</text>
<text x="543.2" y="568.6" font-size="9.6" text-anchor="middle" fill="#555" dominant-baseline="auto" stroke="#555" stroke-width="0.2">*</text>
<line x1="539" y1="610.4" x2="539" y2="614.4" stroke="#555" stroke-width="0.9"/>
<text x="543.1" y="621.4" font-size="9" text-anchor="end" transform="rotate(-45 543.1 621.4)" dominant-baseline="auto" stroke="#1e1e1e" stroke-width="0.18">NFKBIA</text>
<rect x="550.15" y="581.18" width="4.2" height="29.22" fill="#5f8fa8"/>
<line x1="552.25" y1="573.88" x2="552.25" y2="588.49" stroke="#333" stroke-width="0.75"/>
<line x1="550.95" y1="573.88" x2="553.55" y2="573.88" stroke="#333" stroke-width="0.75"/>
<line x1="550.95" y1="588.49" x2="553.55" y2="588.49" stroke="#333" stroke-width="0.75"/>
<rect x="554.35" y="543.19" width="4.2" height="67.21" fill="#d08a65"/>
<line x1="556.45" y1="535.89" x2="556.45" y2="550.5" stroke="#333" stroke-width="0.75"/>
<line x1="555.15" y1="535.89" x2="557.75" y2="535.89" stroke="#333" stroke-width="0.75"/>
<line x1="555.15" y1="550.5" x2="557.75" y2="550.5" stroke="#333" stroke-width="0.75"/>
<text x="556.45" y="536.68" font-size="9.6" text-anchor="middle" fill="#555" dominant-baseline="auto" stroke="#555" stroke-width="0.2">*</text>
<text x="556.45" y="531.78" font-size="9.6" text-anchor="middle" fill="#555" dominant-baseline="auto" stroke="#555" stroke-width="0.2">*</text>
<rect x="558.55" y="547.87" width="4.2" height="62.53" fill="#7db356"/>
<line x1="560.65" y1="539.1" x2="560.65" y2="556.64" stroke="#333" stroke-width="0.75"/>
<line x1="559.35" y1="539.1" x2="561.95" y2="539.1" stroke="#333" stroke-width="0.75"/>
<line x1="559.35" y1="556.64" x2="561.95" y2="556.64" stroke="#333" stroke-width="0.75"/>
<text x="560.65" y="539.9" font-size="9.6" text-anchor="middle" fill="#555" dominant-baseline="auto" stroke="#555" stroke-width="0.2">*</text>
<text x="560.65" y="535" font-size="9.6" text-anchor="middle" fill="#555" dominant-baseline="auto" stroke="#555" stroke-width="0.2">*</text>
<line x1="556.45" y1="610.4" x2="556.45" y2="614.4" stroke="#555" stroke-width="0.9"/>
<text x="560.35" y="621.4" font-size="9" text-anchor="end" transform="rotate(-45 560.35 621.4)" dominant-baseline="auto" stroke="#1e1e1e" stroke-width="0.18">NOD2</text>
<rect x="567.6" y="581.47" width="4.2" height="28.93" fill="#5f8fa8"/>
<line x1="569.7" y1="580.6" x2="569.7" y2="582.35" stroke="#333" stroke-width="0.75"/>
<line x1="568.4" y1="580.6" x2="571" y2="580.6" stroke="#333" stroke-width="0.75"/>
<line x1="568.4" y1="582.35" x2="571" y2="582.35" stroke="#333" stroke-width="0.75"/>
<rect x="571.8" y="513.39" width="4.2" height="97.01" fill="#d08a65"/>
<line x1="573.9" y1="510.47" x2="573.9" y2="516.31" stroke="#333" stroke-width="0.75"/>
<line x1="572.6" y1="510.47" x2="575.2" y2="510.47" stroke="#333" stroke-width="0.75"/>
<line x1="572.6" y1="516.31" x2="575.2" y2="516.31" stroke="#333" stroke-width="0.75"/>
<text x="573.9" y="511.26" font-size="9.6" text-anchor="middle" fill="#555" dominant-baseline="auto" stroke="#555" stroke-width="0.2">*</text>
<text x="573.9" y="506.36" font-size="9.6" text-anchor="middle" fill="#555" dominant-baseline="auto" stroke="#555" stroke-width="0.2">*</text>
<text x="573.9" y="501.46" font-size="9.6" text-anchor="middle" fill="#555" dominant-baseline="auto" stroke="#555" stroke-width="0.2">*</text>
<rect x="576" y="554.3" width="4.2" height="56.1" fill="#7db356"/>
<line x1="578.1" y1="551.96" x2="578.1" y2="556.64" stroke="#333" stroke-width="0.75"/>
<line x1="576.8" y1="551.96" x2="579.4" y2="551.96" stroke="#333" stroke-width="0.75"/>
<line x1="576.8" y1="556.64" x2="579.4" y2="556.64" stroke="#333" stroke-width="0.75"/>
<text x="578.1" y="552.75" font-size="9.6" text-anchor="middle" fill="#555" dominant-baseline="auto" stroke="#555" stroke-width="0.2">*</text>
<line x1="573.9" y1="610.4" x2="573.9" y2="614.4" stroke="#555" stroke-width="0.9"/>
<text x="577.6" y="621.4" font-size="9" text-anchor="end" transform="rotate(-45 577.6 621.4)" dominant-baseline="auto" stroke="#1e1e1e" stroke-width="0.18">PPARA</text>
<rect x="585.05" y="581.18" width="4.2" height="29.22" fill="#5f8fa8"/>
<line x1="587.15" y1="575.34" x2="587.15" y2="587.02" stroke="#333" stroke-width="0.75"/>
<line x1="585.85" y1="575.34" x2="588.45" y2="575.34" stroke="#333" stroke-width="0.75"/>
<line x1="585.85" y1="587.02" x2="588.45" y2="587.02" stroke="#333" stroke-width="0.75"/>
<rect x="589.25" y="548.16" width="4.2" height="62.24" fill="#d08a65"/>
<line x1="591.35" y1="546.7" x2="591.35" y2="549.62" stroke="#333" stroke-width="0.75"/>
<line x1="590.05" y1="546.7" x2="592.65" y2="546.7" stroke="#333" stroke-width="0.75"/>
<line x1="590.05" y1="549.62" x2="592.65" y2="549.62" stroke="#333" stroke-width="0.75"/>
<text x="591.35" y="547.49" font-size="9.6" text-anchor="middle" fill="#555" dominant-baseline="auto" stroke="#555" stroke-width="0.2">*</text>
<text x="591.35" y="542.59" font-size="9.6" text-anchor="middle" fill="#555" dominant-baseline="auto" stroke="#555" stroke-width="0.2">*</text>
<rect x="593.45" y="541.44" width="4.2" height="68.96" fill="#7db356"/>
<line x1="595.55" y1="537.06" x2="595.55" y2="545.82" stroke="#333" stroke-width="0.75"/>
<line x1="594.25" y1="537.06" x2="596.85" y2="537.06" stroke="#333" stroke-width="0.75"/>
<line x1="594.25" y1="545.82" x2="596.85" y2="545.82" stroke="#333" stroke-width="0.75"/>
<text x="595.55" y="537.85" font-size="9.6" text-anchor="middle" fill="#555" dominant-baseline="auto" stroke="#555" stroke-width="0.2">*</text>
<text x="595.55" y="532.95" font-size="9.6" text-anchor="middle" fill="#555" dominant-baseline="auto" stroke="#555" stroke-width="0.2">*</text>
<line x1="591.35" y1="610.4" x2="591.35" y2="614.4" stroke="#555" stroke-width="0.9"/>
<text x="594.85" y="621.4" font-size="9" text-anchor="end" transform="rotate(-45 594.85 621.4)" dominant-baseline="auto" stroke="#1e1e1e" stroke-width="0.18">PPARG</text>
<rect x="602.5" y="581.18" width="4.2" height="29.22" fill="#5f8fa8"/>
<line x1="604.6" y1="580.89" x2="604.6" y2="581.47" stroke="#333" stroke-width="0.75"/>
<line x1="603.3" y1="580.89" x2="605.9" y2="580.89" stroke="#333" stroke-width="0.75"/>
<line x1="603.3" y1="581.47" x2="605.9" y2="581.47" stroke="#333" stroke-width="0.75"/>
<rect x="606.7" y="564.52" width="4.2" height="45.88" fill="#d08a65"/>
<line x1="608.8" y1="563.94" x2="608.8" y2="565.11" stroke="#333" stroke-width="0.75"/>
<line x1="607.5" y1="563.94" x2="610.1" y2="563.94" stroke="#333" stroke-width="0.75"/>
<line x1="607.5" y1="565.11" x2="610.1" y2="565.11" stroke="#333" stroke-width="0.75"/>
<text x="608.8" y="564.73" font-size="9.6" text-anchor="middle" fill="#555" dominant-baseline="auto" stroke="#555" stroke-width="0.2">*</text>
<rect x="610.9" y="563.36" width="4.2" height="47.04" fill="#7db356"/>
<line x1="613" y1="562.19" x2="613" y2="564.52" stroke="#333" stroke-width="0.75"/>
<line x1="611.7" y1="562.19" x2="614.3" y2="562.19" stroke="#333" stroke-width="0.75"/>
<line x1="611.7" y1="564.52" x2="614.3" y2="564.52" stroke="#333" stroke-width="0.75"/>
<text x="613" y="562.98" font-size="9.6" text-anchor="middle" fill="#555" dominant-baseline="auto" stroke="#555" stroke-width="0.2">*</text>
<line x1="608.8" y1="610.4" x2="608.8" y2="614.4" stroke="#555" stroke-width="0.9"/>
<text x="612.1" y="621.4" font-size="9" text-anchor="end" transform="rotate(-45 612.1 621.4)" dominant-baseline="auto" stroke="#1e1e1e" stroke-width="0.18">RBL1</text>
<rect x="619.95" y="581.18" width="4.2" height="29.22" fill="#5f8fa8"/>
<line x1="622.05" y1="576.8" x2="622.05" y2="585.56" stroke="#333" stroke-width="0.75"/>
<line x1="620.75" y1="576.8" x2="623.35" y2="576.8" stroke="#333" stroke-width="0.75"/>
<line x1="620.75" y1="585.56" x2="623.35" y2="585.56" stroke="#333" stroke-width="0.75"/>
<rect x="624.15" y="527.12" width="4.2" height="83.28" fill="#d08a65"/>
<line x1="626.25" y1="519.82" x2="626.25" y2="534.43" stroke="#333" stroke-width="0.75"/>
<line x1="624.95" y1="519.82" x2="627.55" y2="519.82" stroke="#333" stroke-width="0.75"/>
<line x1="624.95" y1="534.43" x2="627.55" y2="534.43" stroke="#333" stroke-width="0.75"/>
<text x="626.25" y="520.61" font-size="9.6" text-anchor="middle" fill="#555" dominant-baseline="auto" stroke="#555" stroke-width="0.2">*</text>
<text x="626.25" y="515.71" font-size="9.6" text-anchor="middle" fill="#555" dominant-baseline="auto" stroke="#555" stroke-width="0.2">*</text>
<text x="626.25" y="510.81" font-size="9.6" text-anchor="middle" fill="#555" dominant-baseline="auto" stroke="#555" stroke-width="0.2">*</text>
<rect x="628.35" y="554.88" width="4.2" height="55.52" fill="#7db356"/>
<line x1="630.45" y1="551.96" x2="630.45" y2="557.8" stroke="#333" stroke-width="0.75"/>
<line x1="629.15" y1="551.96" x2="631.75" y2="551.96" stroke="#333" stroke-width="0.75"/>
<line x1="629.15" y1="557.8" x2="631.75" y2="557.8" stroke="#333" stroke-width="0.75"/>
<text x="630.45" y="552.75" font-size="9.6" text-anchor="middle" fill="#555" dominant-baseline="auto" stroke="#555" stroke-width="0.2">*</text>
<line x1="626.25" y1="610.4" x2="626.25" y2="614.4" stroke="#555" stroke-width="0.9"/>
<text x="629.35" y="621.4" font-size="9" text-anchor="end" transform="rotate(-45 629.35 621.4)" dominant-baseline="auto" stroke="#1e1e1e" stroke-width="0.18">RAP1GAP</text>
<rect x="637.4" y="582.93" width="4.2" height="27.47" fill="#5f8fa8"/>
<line x1="639.5" y1="577.09" x2="639.5" y2="588.78" stroke="#333" stroke-width="0.75"/>
<line x1="638.2" y1="577.09" x2="640.8" y2="577.09" stroke="#333" stroke-width="0.75"/>
<line x1="638.2" y1="588.78" x2="640.8" y2="588.78" stroke="#333" stroke-width="0.75"/>
<rect x="641.6" y="521.57" width="4.2" height="88.83" fill="#d08a65"/>
<line x1="643.7" y1="520.69" x2="643.7" y2="522.45" stroke="#333" stroke-width="0.75"/>
<line x1="642.4" y1="520.69" x2="645" y2="520.69" stroke="#333" stroke-width="0.75"/>
<line x1="642.4" y1="522.45" x2="645" y2="522.45" stroke="#333" stroke-width="0.75"/>
<text x="643.7" y="521.49" font-size="9.6" text-anchor="middle" fill="#555" dominant-baseline="auto" stroke="#555" stroke-width="0.2">*</text>
<text x="643.7" y="516.59" font-size="9.6" text-anchor="middle" fill="#555" dominant-baseline="auto" stroke="#555" stroke-width="0.2">*</text>
<text x="643.7" y="511.69" font-size="9.6" text-anchor="middle" fill="#555" dominant-baseline="auto" stroke="#555" stroke-width="0.2">*</text>
<rect x="645.8" y="542.03" width="4.2" height="68.37" fill="#7db356"/>
<line x1="647.9" y1="539.1" x2="647.9" y2="544.95" stroke="#333" stroke-width="0.75"/>
<line x1="646.6" y1="539.1" x2="649.2" y2="539.1" stroke="#333" stroke-width="0.75"/>
<line x1="646.6" y1="544.95" x2="649.2" y2="544.95" stroke="#333" stroke-width="0.75"/>
<text x="647.9" y="539.9" font-size="9.6" text-anchor="middle" fill="#555" dominant-baseline="auto" stroke="#555" stroke-width="0.2">*</text>
<text x="647.9" y="535" font-size="9.6" text-anchor="middle" fill="#555" dominant-baseline="auto" stroke="#555" stroke-width="0.2">*</text>
<line x1="643.7" y1="610.4" x2="643.7" y2="614.4" stroke="#555" stroke-width="0.9"/>
<text x="646.6" y="621.4" font-size="9" text-anchor="end" transform="rotate(-45 646.6 621.4)" dominant-baseline="auto" stroke="#1e1e1e" stroke-width="0.18">SLC27A5</text>
<rect x="654.85" y="581.18" width="4.2" height="29.22" fill="#5f8fa8"/>
<line x1="656.95" y1="579.72" x2="656.95" y2="582.64" stroke="#333" stroke-width="0.75"/>
<line x1="655.65" y1="579.72" x2="658.25" y2="579.72" stroke="#333" stroke-width="0.75"/>
<line x1="655.65" y1="582.64" x2="658.25" y2="582.64" stroke="#333" stroke-width="0.75"/>
<rect x="659.05" y="552.25" width="4.2" height="58.15" fill="#d08a65"/>
<line x1="661.15" y1="544.95" x2="661.15" y2="559.56" stroke="#333" stroke-width="0.75"/>
<line x1="659.85" y1="544.95" x2="662.45" y2="544.95" stroke="#333" stroke-width="0.75"/>
<line x1="659.85" y1="559.56" x2="662.45" y2="559.56" stroke="#333" stroke-width="0.75"/>
<text x="661.15" y="545.74" font-size="9.6" text-anchor="middle" fill="#555" dominant-baseline="auto" stroke="#555" stroke-width="0.2">*</text>
<text x="661.15" y="540.84" font-size="9.6" text-anchor="middle" fill="#555" dominant-baseline="auto" stroke="#555" stroke-width="0.2">*</text>
<rect x="663.25" y="554.88" width="4.2" height="55.52" fill="#7db356"/>
<line x1="665.35" y1="551.96" x2="665.35" y2="557.8" stroke="#333" stroke-width="0.75"/>
<line x1="664.05" y1="551.96" x2="666.65" y2="551.96" stroke="#333" stroke-width="0.75"/>
<line x1="664.05" y1="557.8" x2="666.65" y2="557.8" stroke="#333" stroke-width="0.75"/>
<text x="665.35" y="552.75" font-size="9.6" text-anchor="middle" fill="#555" dominant-baseline="auto" stroke="#555" stroke-width="0.2">*</text>
<text x="665.35" y="547.85" font-size="9.6" text-anchor="middle" fill="#555" dominant-baseline="auto" stroke="#555" stroke-width="0.2">*</text>
<line x1="661.15" y1="610.4" x2="661.15" y2="614.4" stroke="#555" stroke-width="0.9"/>
<text x="663.85" y="621.4" font-size="9" text-anchor="end" transform="rotate(-45 663.85 621.4)" dominant-baseline="auto" stroke="#1e1e1e" stroke-width="0.18">TRAF3IP2</text>
<text x="7.3" y="666.6" font-size="9.5" dominant-baseline="central" stroke="#1e1e1e" stroke-width="0.18">I</text>
<text x="59.6" y="672.6" font-size="9" transform="rotate(-45 59.6 672.6)" dominant-baseline="auto" stroke="#1e1e1e" stroke-width="0.18">Vector</text>
<text x="74" y="674.3" font-size="9" transform="rotate(-45 74 674.3)" dominant-baseline="auto" stroke="#1e1e1e" stroke-width="0.18">JAB1</text>
<text x="81.2" y="672.3" font-size="9.2" dominant-baseline="central" stroke="#1e1e1e" stroke-width="0.18">kDa</text>
<rect x="51.2" y="676.1" width="30.4" height="13.3" fill="#ececec" stroke="#333" stroke-width="0.8"/>
<rect x="68.35" y="682.46" width="9.1" height="2.07" rx="1.04" fill="#111" fill-opacity="0.69" filter="url(#bl)"/>
<rect x="51.2" y="691" width="30.4" height="13.7" fill="#ececec" stroke="#333" stroke-width="0.8"/>
<rect x="55.35" y="696.3" width="10.5" height="4" rx="2" fill="#111" fill-opacity="1" filter="url(#bl)"/>
<rect x="66.55" y="696.3" width="10.5" height="4" rx="2" fill="#111" fill-opacity="1" filter="url(#bl)"/>
<line x1="81.6" y1="685.9" x2="84.2" y2="685.9" stroke="#333" stroke-width="0.8"/>
<text x="84.8" y="685.9" font-size="9.2" dominant-baseline="central" stroke="#1e1e1e" stroke-width="0.18">35</text>
<line x1="81.6" y1="699.5" x2="84.2" y2="699.5" stroke="#333" stroke-width="0.8"/>
<text x="84.8" y="699.5" font-size="9.2" dominant-baseline="central" stroke="#1e1e1e" stroke-width="0.18">40</text>
<text x="47.8" y="684.6" font-size="9.2" text-anchor="end" dominant-baseline="central" stroke="#1e1e1e" stroke-width="0.18">FLAG-JAB1</text>
<text x="47.8" y="697.9" font-size="9.2" text-anchor="end" dominant-baseline="central" stroke="#1e1e1e" stroke-width="0.18">β-actin</text>
<rect x="48" y="709.2" width="36.9" height="87.4" fill="#73a6a0"/>
<rect x="48" y="709.2" width="36.9" height="78.7" fill="url(#phg)"/>
<rect x="48" y="787.9" width="36.9" height="3.6" fill="#8b9b99"/>
<rect x="48" y="791.5" width="36.9" height="5.1" fill="#a6b8b6"/>
<line x1="49.5" y1="793.4" x2="49.5" y2="795.8" stroke="#3a4442" stroke-width="0.9"/>
<line x1="55.15" y1="793.4" x2="55.15" y2="795.8" stroke="#3a4442" stroke-width="0.9"/>
<line x1="60.8" y1="793.4" x2="60.8" y2="795.8" stroke="#3a4442" stroke-width="0.9"/>
<line x1="66.45" y1="793.4" x2="66.45" y2="795.8" stroke="#3a4442" stroke-width="0.9"/>
<line x1="72.1" y1="793.4" x2="72.1" y2="795.8" stroke="#3a4442" stroke-width="0.9"/>
<line x1="77.75" y1="793.4" x2="77.75" y2="795.8" stroke="#3a4442" stroke-width="0.9"/>
<line x1="83.4" y1="793.4" x2="83.4" y2="795.8" stroke="#3a4442" stroke-width="0.9"/>
<g filter="url(#tb)">
<ellipse cx="56.6" cy="717.4" rx="3.13" ry="2.43" fill="#2c463e" opacity="0.75"/>
<ellipse cx="57.5" cy="718.2" rx="3.3" ry="2.7" fill="#ec6d5a"/>
<ellipse cx="57.9" cy="718.52" rx="2.05" ry="1.49" fill="#f59a86" opacity="0.75"/>
<ellipse cx="56.4" cy="734.1" rx="3.52" ry="2.25" fill="#2c463e" opacity="0.75"/>
<ellipse cx="57.3" cy="734.9" rx="3.7" ry="2.5" fill="#ec6d5a"/>
<ellipse cx="57.74" cy="735.2" rx="2.29" ry="1.38" fill="#f59a86" opacity="0.75"/>
<ellipse cx="55.8" cy="747.6" rx="3.99" ry="2.52" fill="#2c463e" opacity="0.75"/>
<ellipse cx="56.7" cy="748.4" rx="4.2" ry="2.8" fill="#ec6d5a"/>
<ellipse cx="57.2" cy="748.74" rx="2.6" ry="1.54" fill="#f59a86" opacity="0.75"/>
<ellipse cx="54.8" cy="762.9" rx="3.23" ry="2.43" fill="#2c463e" opacity="0.75"/>
<ellipse cx="55.7" cy="763.7" rx="3.4" ry="2.7" fill="#ec6d5a"/>
<ellipse cx="56.11" cy="764.02" rx="2.11" ry="1.49" fill="#f59a86" opacity="0.75"/>
<ellipse cx="54.3" cy="777.8" rx="3.7" ry="2.7" fill="#2c463e" opacity="0.75"/>
<ellipse cx="55.2" cy="778.6" rx="3.9" ry="3" fill="#ec6d5a"/>
<ellipse cx="55.67" cy="778.96" rx="2.42" ry="1.65" fill="#f59a86" opacity="0.75"/>
<ellipse cx="74" cy="716.9" rx="4.37" ry="2.88" fill="#2c463e" opacity="0.75"/>
<ellipse cx="74.9" cy="717.7" rx="4.6" ry="3.2" fill="#ec6d5a"/>
<ellipse cx="75.45" cy="718.08" rx="2.85" ry="1.76" fill="#f59a86" opacity="0.75"/>
<ellipse cx="73.8" cy="732.3" rx="4.37" ry="3.15" fill="#2c463e" opacity="0.75"/>
<ellipse cx="74.7" cy="733.1" rx="4.6" ry="3.5" fill="#ec6d5a"/>
<ellipse cx="75.25" cy="733.52" rx="2.85" ry="1.93" fill="#f59a86" opacity="0.75"/>
<ellipse cx="74.3" cy="746.6" rx="5.32" ry="3.33" fill="#2c463e" opacity="0.75"/>
<ellipse cx="75.2" cy="747.4" rx="5.6" ry="3.7" fill="#ec6d5a"/>
<ellipse cx="75.87" cy="747.84" rx="3.47" ry="2.04" fill="#f59a86" opacity="0.75"/>
<ellipse cx="74.8" cy="762.2" rx="3.99" ry="3.15" fill="#2c463e" opacity="0.75"/>
<ellipse cx="75.7" cy="763" rx="4.2" ry="3.5" fill="#ec6d5a"/>
<ellipse cx="76.2" cy="763.42" rx="2.6" ry="1.93" fill="#f59a86" opacity="0.75"/>
<ellipse cx="73.5" cy="777.5" rx="5.32" ry="3.33" fill="#2c463e" opacity="0.75"/>
<ellipse cx="74.4" cy="778.3" rx="5.6" ry="3.7" fill="#ec6d5a"/>
<ellipse cx="75.07" cy="778.74" rx="3.47" ry="2.04" fill="#f59a86" opacity="0.75"/>
</g>
<line x1="129.7" y1="701.3" x2="129.7" y2="783.2" stroke="#333" stroke-width="0.9"/>
<line x1="126.5" y1="783.2" x2="129.7" y2="783.2" stroke="#333" stroke-width="0.9"/>
<text x="124.9" y="783.2" font-size="9.3" text-anchor="end" dominant-baseline="central" stroke="#1e1e1e" stroke-width="0.18">0</text>
<line x1="126.5" y1="766.82" x2="129.7" y2="766.82" stroke="#333" stroke-width="0.9"/>
<text x="124.9" y="766.82" font-size="9.3" text-anchor="end" dominant-baseline="central" stroke="#1e1e1e" stroke-width="0.18">100</text>
<line x1="126.5" y1="750.44" x2="129.7" y2="750.44" stroke="#333" stroke-width="0.9"/>
<text x="124.9" y="750.44" font-size="9.3" text-anchor="end" dominant-baseline="central" stroke="#1e1e1e" stroke-width="0.18">200</text>
<line x1="126.5" y1="734.06" x2="129.7" y2="734.06" stroke="#333" stroke-width="0.9"/>
<text x="124.9" y="734.06" font-size="9.3" text-anchor="end" dominant-baseline="central" stroke="#1e1e1e" stroke-width="0.18">300</text>
<line x1="126.5" y1="717.68" x2="129.7" y2="717.68" stroke="#333" stroke-width="0.9"/>
<text x="124.9" y="717.68" font-size="9.3" text-anchor="end" dominant-baseline="central" stroke="#1e1e1e" stroke-width="0.18">400</text>
<line x1="126.5" y1="701.3" x2="129.7" y2="701.3" stroke="#333" stroke-width="0.9"/>
<text x="124.9" y="701.3" font-size="9.3" text-anchor="end" dominant-baseline="central" stroke="#1e1e1e" stroke-width="0.18">500</text>
<line x1="129.7" y1="783.2" x2="252.7" y2="783.2" stroke="#333" stroke-width="0.9"/>
<line x1="135.1" y1="783.2" x2="135.1" y2="785.7" stroke="#333" stroke-width="0.9"/>
<line x1="146.33" y1="783.2" x2="146.33" y2="785.7" stroke="#333" stroke-width="0.9"/>
<line x1="157.56" y1="783.2" x2="157.56" y2="785.7" stroke="#333" stroke-width="0.9"/>
<line x1="168.79" y1="783.2" x2="168.79" y2="785.7" stroke="#333" stroke-width="0.9"/>
<line x1="180.02" y1="783.2" x2="180.02" y2="785.7" stroke="#333" stroke-width="0.9"/>
<line x1="191.25" y1="783.2" x2="191.25" y2="785.7" stroke="#333" stroke-width="0.9"/>
<line x1="202.48" y1="783.2" x2="202.48" y2="785.7" stroke="#333" stroke-width="0.9"/>
<line x1="213.71" y1="783.2" x2="213.71" y2="785.7" stroke="#333" stroke-width="0.9"/>
<line x1="224.94" y1="783.2" x2="224.94" y2="785.7" stroke="#333" stroke-width="0.9"/>
<line x1="236.17" y1="783.2" x2="236.17" y2="785.7" stroke="#333" stroke-width="0.9"/>
<line x1="247.4" y1="783.2" x2="247.4" y2="785.7" stroke="#333" stroke-width="0.9"/>
<text x="135.1" y="791.4" font-size="9.3" text-anchor="middle" dominant-baseline="central" stroke="#1e1e1e" stroke-width="0.18" letter-spacing="-0.4">7</text>
<text x="146.33" y="791.4" font-size="9.3" text-anchor="middle" dominant-baseline="central" stroke="#1e1e1e" stroke-width="0.18" letter-spacing="-0.4">10</text>
<text x="157.56" y="791.4" font-size="9.3" text-anchor="middle" dominant-baseline="central" stroke="#1e1e1e" stroke-width="0.18" letter-spacing="-0.4">13</text>
<text x="168.79" y="791.4" font-size="9.3" text-anchor="middle" dominant-baseline="central" stroke="#1e1e1e" stroke-width="0.18" letter-spacing="-0.4">16</text>
<text x="180.02" y="791.4" font-size="9.3" text-anchor="middle" dominant-baseline="central" stroke="#1e1e1e" stroke-width="0.18" letter-spacing="-0.4">19</text>
<text x="191.25" y="791.4" font-size="9.3" text-anchor="middle" dominant-baseline="central" stroke="#1e1e1e" stroke-width="0.18" letter-spacing="-0.4">22</text>
<text x="202.48" y="791.4" font-size="9.3" text-anchor="middle" dominant-baseline="central" stroke="#1e1e1e" stroke-width="0.18" letter-spacing="-0.4">25</text>
<text x="213.71" y="791.4" font-size="9.3" text-anchor="middle" dominant-baseline="central" stroke="#1e1e1e" stroke-width="0.18" letter-spacing="-0.4">28</text>
<text x="224.94" y="791.4" font-size="9.3" text-anchor="middle" dominant-baseline="central" stroke="#1e1e1e" stroke-width="0.18" letter-spacing="-0.4">31</text>
<text x="236.17" y="791.4" font-size="9.3" text-anchor="middle" dominant-baseline="central" stroke="#1e1e1e" stroke-width="0.18" letter-spacing="-0.4">34</text>
<text x="247.4" y="791.4" font-size="9.3" text-anchor="middle" dominant-baseline="central" stroke="#1e1e1e" stroke-width="0.18" letter-spacing="-0.4">37</text>
<text x="188.1" y="802.8" font-size="9.3" text-anchor="middle" dominant-baseline="central" stroke="#1e1e1e" stroke-width="0.18">Days</text>
<polyline points="135.1,778.45 146.33,776.98 157.56,775.67 168.79,772.88 180.02,770.42 191.25,767.64 202.48,765.35 213.71,761.58 224.94,759.45 236.17,756.01 247.4,751.59" fill="none" stroke="#5b8fa8" stroke-width="0.8"/>
<line x1="135.1" y1="777.96" x2="135.1" y2="778.94" stroke="#5b8fa8" stroke-width="0.7" opacity="0.75"/>
<line x1="133.5" y1="777.96" x2="136.7" y2="777.96" stroke="#5b8fa8" stroke-width="0.7" opacity="0.75"/>
<line x1="133.5" y1="778.94" x2="136.7" y2="778.94" stroke="#5b8fa8" stroke-width="0.7" opacity="0.75"/>
<circle cx="135.1" cy="778.45" r="1.9" fill="#5b8fa8"/>
<line x1="146.33" y1="776.32" x2="146.33" y2="777.63" stroke="#5b8fa8" stroke-width="0.7" opacity="0.75"/>
<line x1="144.73" y1="776.32" x2="147.93" y2="776.32" stroke="#5b8fa8" stroke-width="0.7" opacity="0.75"/>
<line x1="144.73" y1="777.63" x2="147.93" y2="777.63" stroke="#5b8fa8" stroke-width="0.7" opacity="0.75"/>
<circle cx="146.33" cy="776.98" r="1.9" fill="#5b8fa8"/>
<line x1="157.56" y1="774.68" x2="157.56" y2="776.65" stroke="#5b8fa8" stroke-width="0.7" opacity="0.75"/>
<line x1="155.96" y1="774.68" x2="159.16" y2="774.68" stroke="#5b8fa8" stroke-width="0.7" opacity="0.75"/>
<line x1="155.96" y1="776.65" x2="159.16" y2="776.65" stroke="#5b8fa8" stroke-width="0.7" opacity="0.75"/>
<circle cx="157.56" cy="775.67" r="1.9" fill="#5b8fa8"/>
<line x1="168.79" y1="771.24" x2="168.79" y2="774.52" stroke="#5b8fa8" stroke-width="0.7" opacity="0.75"/>
<line x1="167.19" y1="771.24" x2="170.39" y2="771.24" stroke="#5b8fa8" stroke-width="0.7" opacity="0.75"/>
<line x1="167.19" y1="774.52" x2="170.39" y2="774.52" stroke="#5b8fa8" stroke-width="0.7" opacity="0.75"/>
<circle cx="168.79" cy="772.88" r="1.9" fill="#5b8fa8"/>
<line x1="180.02" y1="767.97" x2="180.02" y2="772.88" stroke="#5b8fa8" stroke-width="0.7" opacity="0.75"/>
<line x1="178.42" y1="767.97" x2="181.62" y2="767.97" stroke="#5b8fa8" stroke-width="0.7" opacity="0.75"/>
<line x1="178.42" y1="772.88" x2="181.62" y2="772.88" stroke="#5b8fa8" stroke-width="0.7" opacity="0.75"/>
<circle cx="180.02" cy="770.42" r="1.9" fill="#5b8fa8"/>
<line x1="191.25" y1="764.69" x2="191.25" y2="770.59" stroke="#5b8fa8" stroke-width="0.7" opacity="0.75"/>
<line x1="189.65" y1="764.69" x2="192.85" y2="764.69" stroke="#5b8fa8" stroke-width="0.7" opacity="0.75"/>
<line x1="189.65" y1="770.59" x2="192.85" y2="770.59" stroke="#5b8fa8" stroke-width="0.7" opacity="0.75"/>
<circle cx="191.25" cy="767.64" r="1.9" fill="#5b8fa8"/>
<line x1="202.48" y1="761.25" x2="202.48" y2="769.44" stroke="#5b8fa8" stroke-width="0.7" opacity="0.75"/>
<line x1="200.88" y1="761.25" x2="204.08" y2="761.25" stroke="#5b8fa8" stroke-width="0.7" opacity="0.75"/>
<line x1="200.88" y1="769.44" x2="204.08" y2="769.44" stroke="#5b8fa8" stroke-width="0.7" opacity="0.75"/>
<circle cx="202.48" cy="765.35" r="1.9" fill="#5b8fa8"/>
<line x1="213.71" y1="756.99" x2="213.71" y2="766.16" stroke="#5b8fa8" stroke-width="0.7" opacity="0.75"/>
<line x1="212.11" y1="756.99" x2="215.31" y2="756.99" stroke="#5b8fa8" stroke-width="0.7" opacity="0.75"/>
<line x1="212.11" y1="766.16" x2="215.31" y2="766.16" stroke="#5b8fa8" stroke-width="0.7" opacity="0.75"/>
<circle cx="213.71" cy="761.58" r="1.9" fill="#5b8fa8"/>
<line x1="224.94" y1="754.86" x2="224.94" y2="764.04" stroke="#5b8fa8" stroke-width="0.7" opacity="0.75"/>
<line x1="223.34" y1="754.86" x2="226.54" y2="754.86" stroke="#5b8fa8" stroke-width="0.7" opacity="0.75"/>
<line x1="223.34" y1="764.04" x2="226.54" y2="764.04" stroke="#5b8fa8" stroke-width="0.7" opacity="0.75"/>
<circle cx="224.94" cy="759.45" r="1.9" fill="#5b8fa8"/>
<line x1="236.17" y1="750.11" x2="236.17" y2="761.91" stroke="#5b8fa8" stroke-width="0.7" opacity="0.75"/>
<line x1="234.57" y1="750.11" x2="237.77" y2="750.11" stroke="#5b8fa8" stroke-width="0.7" opacity="0.75"/>
<line x1="234.57" y1="761.91" x2="237.77" y2="761.91" stroke="#5b8fa8" stroke-width="0.7" opacity="0.75"/>
<circle cx="236.17" cy="756.01" r="1.9" fill="#5b8fa8"/>
<line x1="247.4" y1="745.2" x2="247.4" y2="757.97" stroke="#5b8fa8" stroke-width="0.7" opacity="0.75"/>
<line x1="245.8" y1="745.2" x2="249" y2="745.2" stroke="#5b8fa8" stroke-width="0.7" opacity="0.75"/>
<line x1="245.8" y1="757.97" x2="249" y2="757.97" stroke="#5b8fa8" stroke-width="0.7" opacity="0.75"/>
<circle cx="247.4" cy="751.59" r="1.9" fill="#5b8fa8"/>
<polyline points="135.1,779.6 146.33,776.98 157.56,773.86 168.79,770.1 180.02,765.51 191.25,758.96 202.48,750.93 213.71,743.07 224.94,736.52 236.17,726.69 247.4,715.39" fill="none" stroke="#d4956a" stroke-width="0.8"/>
<line x1="135.1" y1="779.11" x2="135.1" y2="780.09" stroke="#d4956a" stroke-width="0.7" opacity="0.75"/>
<line x1="133.5" y1="779.11" x2="136.7" y2="779.11" stroke="#d4956a" stroke-width="0.7" opacity="0.75"/>
<line x1="133.5" y1="780.09" x2="136.7" y2="780.09" stroke="#d4956a" stroke-width="0.7" opacity="0.75"/>
<path d="M135.1,777.4 L137.3,781.2 L132.9,781.2 Z" fill="#d4956a" stroke="none" stroke-width="1"/>
<line x1="146.33" y1="776.32" x2="146.33" y2="777.63" stroke="#d4956a" stroke-width="0.7" opacity="0.75"/>
<line x1="144.73" y1="776.32" x2="147.93" y2="776.32" stroke="#d4956a" stroke-width="0.7" opacity="0.75"/>
<line x1="144.73" y1="777.63" x2="147.93" y2="777.63" stroke="#d4956a" stroke-width="0.7" opacity="0.75"/>
<path d="M146.33,774.78 L148.53,778.58 L144.13,778.58 Z" fill="#d4956a" stroke="none" stroke-width="1"/>
<line x1="157.56" y1="772.88" x2="157.56" y2="774.85" stroke="#d4956a" stroke-width="0.7" opacity="0.75"/>
<line x1="155.96" y1="772.88" x2="159.16" y2="772.88" stroke="#d4956a" stroke-width="0.7" opacity="0.75"/>
<line x1="155.96" y1="774.85" x2="159.16" y2="774.85" stroke="#d4956a" stroke-width="0.7" opacity="0.75"/>
<path d="M157.56,771.66 L159.76,775.46 L155.36,775.46 Z" fill="#d4956a" stroke="none" stroke-width="1"/>
<line x1="168.79" y1="768.46" x2="168.79" y2="771.73" stroke="#d4956a" stroke-width="0.7" opacity="0.75"/>
<line x1="167.19" y1="768.46" x2="170.39" y2="768.46" stroke="#d4956a" stroke-width="0.7" opacity="0.75"/>
<line x1="167.19" y1="771.73" x2="170.39" y2="771.73" stroke="#d4956a" stroke-width="0.7" opacity="0.75"/>
<path d="M168.79,767.9 L170.99,771.7 L166.59,771.7 Z" fill="#d4956a" stroke="none" stroke-width="1"/>
<line x1="180.02" y1="763.38" x2="180.02" y2="767.64" stroke="#d4956a" stroke-width="0.7" opacity="0.75"/>
<line x1="178.42" y1="763.38" x2="181.62" y2="763.38" stroke="#d4956a" stroke-width="0.7" opacity="0.75"/>
<line x1="178.42" y1="767.64" x2="181.62" y2="767.64" stroke="#d4956a" stroke-width="0.7" opacity="0.75"/>
<path d="M180.02,763.31 L182.22,767.11 L177.82,767.11 Z" fill="#d4956a" stroke="none" stroke-width="1"/>
<line x1="191.25" y1="755.85" x2="191.25" y2="762.07" stroke="#d4956a" stroke-width="0.7" opacity="0.75"/>
<line x1="189.65" y1="755.85" x2="192.85" y2="755.85" stroke="#d4956a" stroke-width="0.7" opacity="0.75"/>
<line x1="189.65" y1="762.07" x2="192.85" y2="762.07" stroke="#d4956a" stroke-width="0.7" opacity="0.75"/>
<path d="M191.25,756.76 L193.45,760.56 L189.05,760.56 Z" fill="#d4956a" stroke="none" stroke-width="1"/>
<line x1="202.48" y1="747" x2="202.48" y2="754.86" stroke="#d4956a" stroke-width="0.7" opacity="0.75"/>
<line x1="200.88" y1="747" x2="204.08" y2="747" stroke="#d4956a" stroke-width="0.7" opacity="0.75"/>
<line x1="200.88" y1="754.86" x2="204.08" y2="754.86" stroke="#d4956a" stroke-width="0.7" opacity="0.75"/>
<path d="M202.48,748.73 L204.68,752.53 L200.28,752.53 Z" fill="#d4956a" stroke="none" stroke-width="1"/>
<line x1="213.71" y1="736.19" x2="213.71" y2="749.95" stroke="#d4956a" stroke-width="0.7" opacity="0.75"/>
<line x1="212.11" y1="736.19" x2="215.31" y2="736.19" stroke="#d4956a" stroke-width="0.7" opacity="0.75"/>
<line x1="212.11" y1="749.95" x2="215.31" y2="749.95" stroke="#d4956a" stroke-width="0.7" opacity="0.75"/>
<path d="M213.71,740.87 L215.91,744.67 L211.51,744.67 Z" fill="#d4956a" stroke="none" stroke-width="1"/>
<line x1="224.94" y1="728.98" x2="224.94" y2="744.05" stroke="#d4956a" stroke-width="0.7" opacity="0.75"/>
<line x1="223.34" y1="728.98" x2="226.54" y2="728.98" stroke="#d4956a" stroke-width="0.7" opacity="0.75"/>
<line x1="223.34" y1="744.05" x2="226.54" y2="744.05" stroke="#d4956a" stroke-width="0.7" opacity="0.75"/>
<path d="M224.94,734.32 L227.14,738.12 L222.74,738.12 Z" fill="#d4956a" stroke="none" stroke-width="1"/>
<line x1="236.17" y1="717.19" x2="236.17" y2="736.19" stroke="#d4956a" stroke-width="0.7" opacity="0.75"/>
<line x1="234.57" y1="717.19" x2="237.77" y2="717.19" stroke="#d4956a" stroke-width="0.7" opacity="0.75"/>
<line x1="234.57" y1="736.19" x2="237.77" y2="736.19" stroke="#d4956a" stroke-width="0.7" opacity="0.75"/>
<path d="M236.17,724.49 L238.37,728.29 L233.97,728.29 Z" fill="#d4956a" stroke="none" stroke-width="1"/>
<line x1="247.4" y1="704.9" x2="247.4" y2="725.87" stroke="#d4956a" stroke-width="0.7" opacity="0.75"/>
<line x1="245.8" y1="704.9" x2="249" y2="704.9" stroke="#d4956a" stroke-width="0.7" opacity="0.75"/>
<line x1="245.8" y1="725.87" x2="249" y2="725.87" stroke="#d4956a" stroke-width="0.7" opacity="0.75"/>
<path d="M247.4,713.19 L249.6,716.99 L245.2,716.99 Z" fill="#d4956a" stroke="none" stroke-width="1"/>
<text x="103.8" y="743.4" font-size="9.1" text-anchor="middle" dominant-baseline="central" stroke="#1e1e1e" stroke-width="0.18" transform="rotate(-90 103.8 743.4)">Tumor volume (mm<tspan font-size="6" dy="-3">3</tspan><tspan dy="3">)</tspan></text>
<line x1="139.1" y1="703.4" x2="148.1" y2="703.4" stroke="#5b8fa8" stroke-width="0.8"/>
<circle cx="143.6" cy="703.4" r="1.9" fill="#5b8fa8"/>
<text x="153" y="703.6" font-size="9.3" dominant-baseline="central" stroke="#1e1e1e" stroke-width="0.18">Vector</text>
<line x1="139.1" y1="715.1" x2="148.1" y2="715.1" stroke="#d4956a" stroke-width="0.8"/>
<path d="M143.6,712.9 L145.8,716.7 L141.4,716.7 Z" fill="#d4956a" stroke="none" stroke-width="1"/>
<text x="153" y="715.3" font-size="9.3" dominant-baseline="central" stroke="#1e1e1e" stroke-width="0.18">JAB1</text>
<text x="251.8" y="722.6" font-size="10.5" fill="#444" dominant-baseline="auto" stroke="#444" stroke-width="0.18">**</text>
<line x1="293.6" y1="696.8" x2="293.6" y2="782.6" stroke="#333" stroke-width="0.9"/>
<line x1="290.6" y1="782.6" x2="293.6" y2="782.6" stroke="#333" stroke-width="0.9"/>
<text x="289.9" y="782.6" font-size="9.3" text-anchor="end" dominant-baseline="central" stroke="#1e1e1e" stroke-width="0.18">0.0</text>
<line x1="290.6" y1="765.44" x2="293.6" y2="765.44" stroke="#333" stroke-width="0.9"/>
<text x="289.9" y="765.44" font-size="9.3" text-anchor="end" dominant-baseline="central" stroke="#1e1e1e" stroke-width="0.18">0.1</text>
<line x1="290.6" y1="748.28" x2="293.6" y2="748.28" stroke="#333" stroke-width="0.9"/>
<text x="289.9" y="748.28" font-size="9.3" text-anchor="end" dominant-baseline="central" stroke="#1e1e1e" stroke-width="0.18">0.2</text>
<line x1="290.6" y1="731.12" x2="293.6" y2="731.12" stroke="#333" stroke-width="0.9"/>
<text x="289.9" y="731.12" font-size="9.3" text-anchor="end" dominant-baseline="central" stroke="#1e1e1e" stroke-width="0.18">0.3</text>
<line x1="290.6" y1="713.96" x2="293.6" y2="713.96" stroke="#333" stroke-width="0.9"/>
<text x="289.9" y="713.96" font-size="9.3" text-anchor="end" dominant-baseline="central" stroke="#1e1e1e" stroke-width="0.18">0.4</text>
<line x1="290.6" y1="696.8" x2="293.6" y2="696.8" stroke="#333" stroke-width="0.9"/>
<text x="289.9" y="696.8" font-size="9.3" text-anchor="end" dominant-baseline="central" stroke="#1e1e1e" stroke-width="0.18">0.5</text>
<line x1="293.6" y1="782.6" x2="350.5" y2="782.6" stroke="#9a9a9a" stroke-width="1.3"/>
<text x="270.5" y="737.7" font-size="9" text-anchor="middle" transform="rotate(-90 270.5 737.7)" dominant-baseline="central" stroke="#1e1e1e" stroke-width="0.18">Tumor weight (g)</text>
<rect x="301.6" y="739.1" width="16.3" height="43.5" fill="#5e8fa8"/>
<line x1="309.75" y1="736.5" x2="309.75" y2="741.5" stroke="#333" stroke-width="0.9"/>
<line x1="306.55" y1="736.5" x2="312.95" y2="736.5" stroke="#333" stroke-width="0.9"/>
<line x1="306.55" y1="741.5" x2="312.95" y2="741.5" stroke="#333" stroke-width="0.9"/>
<rect x="326.1" y="701.3" width="16.6" height="81.3" fill="#c98a60"/>
<line x1="334.4" y1="697.3" x2="334.4" y2="704.5" stroke="#333" stroke-width="0.9"/>
<line x1="331.2" y1="697.3" x2="337.6" y2="697.3" stroke="#333" stroke-width="0.9"/>
<line x1="331.2" y1="704.5" x2="337.6" y2="704.5" stroke="#333" stroke-width="0.9"/>
<text x="334.4" y="698.52" font-size="11" text-anchor="middle" fill="#444" dominant-baseline="auto" stroke="#444" stroke-width="0.2">*</text>
<line x1="309.7" y1="782.6" x2="309.7" y2="785.8" stroke="#333" stroke-width="0.9"/>
<text x="314.7" y="791.1" font-size="9.2" text-anchor="end" transform="rotate(-45 314.7 791.1)" dominant-baseline="auto" stroke="#1e1e1e" stroke-width="0.18">Vector</text>
<line x1="334.4" y1="782.6" x2="334.4" y2="785.8" stroke="#333" stroke-width="0.9"/>
<text x="339.4" y="791.1" font-size="9.2" text-anchor="end" transform="rotate(-45 339.4 791.1)" dominant-baseline="auto" stroke="#1e1e1e" stroke-width="0.18">JAB1</text>
<text x="350" y="666.6" font-size="9.5" dominant-baseline="central" stroke="#1e1e1e" stroke-width="0.18">J</text>
<text x="392.6" y="674.8" font-size="9" transform="rotate(-45 392.6 674.8)" dominant-baseline="auto" stroke="#1e1e1e" stroke-width="0.18">shSCR</text>
<text x="408" y="674.8" font-size="9" transform="rotate(-45 408 674.8)" dominant-baseline="auto" stroke="#1e1e1e" stroke-width="0.18">shJ1#2</text>
<text x="416.9" y="672.9" font-size="9.2" dominant-baseline="central" stroke="#1e1e1e" stroke-width="0.18">kDa</text>
<rect x="383.3" y="677.3" width="30.4" height="13.4" fill="#ececec" stroke="#333" stroke-width="0.8"/>
<rect x="386.47" y="683.11" width="10.67" height="2.98" rx="1.49" fill="#111" fill-opacity="0.93" filter="url(#bl)"/>
<rect x="399.85" y="683.68" width="8.91" height="1.83" rx="0.92" fill="#111" fill-opacity="0.29" filter="url(#bl)"/>
<rect x="383.3" y="693.2" width="30.4" height="13.3" fill="#ececec" stroke="#333" stroke-width="0.8"/>
<rect x="387" y="698.1" width="11" height="4.4" rx="2.2" fill="#111" fill-opacity="1" filter="url(#bl)"/>
<rect x="398" y="698.1" width="11" height="4.4" rx="2.2" fill="#111" fill-opacity="1" filter="url(#bl)"/>
<line x1="413.7" y1="685.5" x2="416.3" y2="685.5" stroke="#333" stroke-width="0.8"/>
<text x="416.9" y="685.5" font-size="9.2" dominant-baseline="central" stroke="#1e1e1e" stroke-width="0.18">35</text>
<line x1="413.7" y1="701.7" x2="416.3" y2="701.7" stroke="#333" stroke-width="0.8"/>
<text x="416.9" y="701.7" font-size="9.2" dominant-baseline="central" stroke="#1e1e1e" stroke-width="0.18">40</text>
<text x="381.2" y="684.9" font-size="9.2" text-anchor="end" dominant-baseline="central" stroke="#1e1e1e" stroke-width="0.18">JAB1</text>
<text x="381.2" y="700.5" font-size="9.2" text-anchor="end" dominant-baseline="central" stroke="#1e1e1e" stroke-width="0.18">β-actin</text>
<rect x="378.8" y="709.1" width="37.2" height="87.9" fill="#8dbbb5"/>
<rect x="378.8" y="709.1" width="37.2" height="77.6" fill="url(#phg)"/>
<rect x="378.8" y="786.7" width="37.2" height="3.6" fill="#8b9b99"/>
<rect x="378.8" y="790.3" width="37.2" height="6.7" fill="#a6b8b6"/>
<line x1="380.3" y1="793.8" x2="380.3" y2="796.2" stroke="#3a4442" stroke-width="0.9"/>
<line x1="386" y1="793.8" x2="386" y2="796.2" stroke="#3a4442" stroke-width="0.9"/>
<line x1="391.7" y1="793.8" x2="391.7" y2="796.2" stroke="#3a4442" stroke-width="0.9"/>
<line x1="397.4" y1="793.8" x2="397.4" y2="796.2" stroke="#3a4442" stroke-width="0.9"/>
<line x1="403.1" y1="793.8" x2="403.1" y2="796.2" stroke="#3a4442" stroke-width="0.9"/>
<line x1="408.8" y1="793.8" x2="408.8" y2="796.2" stroke="#3a4442" stroke-width="0.9"/>
<line x1="414.5" y1="793.8" x2="414.5" y2="796.2" stroke="#3a4442" stroke-width="0.9"/>
<g filter="url(#tb)">
<ellipse cx="389.2" cy="716.5" rx="3.7" ry="2.79" fill="#2c463e" opacity="0.75"/>
<ellipse cx="390.1" cy="717.3" rx="3.9" ry="3.1" fill="#ec6d5a"/>
<ellipse cx="390.57" cy="717.67" rx="2.42" ry="1.71" fill="#f59a86" opacity="0.75"/>
<ellipse cx="389.2" cy="731.8" rx="3.52" ry="2.7" fill="#2c463e" opacity="0.75"/>
<ellipse cx="390.1" cy="732.6" rx="3.7" ry="3" fill="#ec6d5a"/>
<ellipse cx="390.54" cy="732.96" rx="2.29" ry="1.65" fill="#f59a86" opacity="0.75"/>
<ellipse cx="388.7" cy="746.9" rx="3.7" ry="2.97" fill="#2c463e" opacity="0.75"/>
<ellipse cx="389.6" cy="747.7" rx="3.9" ry="3.3" fill="#ec6d5a"/>
<ellipse cx="390.07" cy="748.1" rx="2.42" ry="1.81" fill="#f59a86" opacity="0.75"/>
<ellipse cx="388.7" cy="762.8" rx="3.42" ry="2.61" fill="#2c463e" opacity="0.75"/>
<ellipse cx="389.6" cy="763.6" rx="3.6" ry="2.9" fill="#ec6d5a"/>
<ellipse cx="390.03" cy="763.95" rx="2.23" ry="1.59" fill="#f59a86" opacity="0.75"/>
<ellipse cx="389.2" cy="778.6" rx="3.99" ry="2.61" fill="#2c463e" opacity="0.75"/>
<ellipse cx="390.1" cy="779.4" rx="4.2" ry="2.9" fill="#ec6d5a"/>
<ellipse cx="390.6" cy="779.75" rx="2.6" ry="1.59" fill="#f59a86" opacity="0.75"/>
<ellipse cx="405.5" cy="717.2" rx="2.38" ry="1.98" fill="#2c463e" opacity="0.75"/>
<ellipse cx="406.4" cy="718" rx="2.5" ry="2.2" fill="#ec6d5a"/>
<ellipse cx="406.7" cy="718.26" rx="1.55" ry="1.21" fill="#f59a86" opacity="0.75"/>
<ellipse cx="405.3" cy="732.2" rx="2.47" ry="2.07" fill="#2c463e" opacity="0.75"/>
<ellipse cx="406.2" cy="733" rx="2.6" ry="2.3" fill="#ec6d5a"/>
<ellipse cx="406.51" cy="733.28" rx="1.61" ry="1.26" fill="#f59a86" opacity="0.75"/>
<ellipse cx="405.7" cy="747.2" rx="2.94" ry="1.89" fill="#2c463e" opacity="0.75"/>
<ellipse cx="406.6" cy="748" rx="3.1" ry="2.1" fill="#ec6d5a"/>
<ellipse cx="406.97" cy="748.25" rx="1.92" ry="1.16" fill="#f59a86" opacity="0.75"/>
<ellipse cx="405.3" cy="762.7" rx="2.66" ry="1.98" fill="#2c463e" opacity="0.75"/>
<ellipse cx="406.2" cy="763.5" rx="2.8" ry="2.2" fill="#ec6d5a"/>
<ellipse cx="406.54" cy="763.76" rx="1.74" ry="1.21" fill="#f59a86" opacity="0.75"/>
<ellipse cx="405.5" cy="778" rx="2.85" ry="2.16" fill="#2c463e" opacity="0.75"/>
<ellipse cx="406.4" cy="778.8" rx="3" ry="2.4" fill="#ec6d5a"/>
<ellipse cx="406.76" cy="779.09" rx="1.86" ry="1.32" fill="#f59a86" opacity="0.75"/>
</g>
<line x1="463.3" y1="702" x2="463.3" y2="782.5" stroke="#333" stroke-width="0.9"/>
<line x1="460.1" y1="782.5" x2="463.3" y2="782.5" stroke="#333" stroke-width="0.9"/>
<text x="459.2" y="782.5" font-size="9.3" text-anchor="end" dominant-baseline="central" stroke="#1e1e1e" stroke-width="0.18">0</text>
<line x1="460.1" y1="766.4" x2="463.3" y2="766.4" stroke="#333" stroke-width="0.9"/>
<text x="459.2" y="766.4" font-size="9.3" text-anchor="end" dominant-baseline="central" stroke="#1e1e1e" stroke-width="0.18">50</text>
<line x1="460.1" y1="750.3" x2="463.3" y2="750.3" stroke="#333" stroke-width="0.9"/>
<text x="459.2" y="750.3" font-size="9.3" text-anchor="end" dominant-baseline="central" stroke="#1e1e1e" stroke-width="0.18">100</text>
<line x1="460.1" y1="734.2" x2="463.3" y2="734.2" stroke="#333" stroke-width="0.9"/>
<text x="459.2" y="734.2" font-size="9.3" text-anchor="end" dominant-baseline="central" stroke="#1e1e1e" stroke-width="0.18">150</text>
<line x1="460.1" y1="718.1" x2="463.3" y2="718.1" stroke="#333" stroke-width="0.9"/>
<text x="459.2" y="718.1" font-size="9.3" text-anchor="end" dominant-baseline="central" stroke="#1e1e1e" stroke-width="0.18">200</text>
<line x1="460.1" y1="702" x2="463.3" y2="702" stroke="#333" stroke-width="0.9"/>
<text x="459.2" y="702" font-size="9.3" text-anchor="end" dominant-baseline="central" stroke="#1e1e1e" stroke-width="0.18">250</text>
<line x1="463.3" y1="782.5" x2="583.7" y2="782.5" stroke="#333" stroke-width="0.9"/>
<line x1="468.8" y1="782.5" x2="468.8" y2="785" stroke="#333" stroke-width="0.9"/>
<line x1="479.76" y1="782.5" x2="479.76" y2="785" stroke="#333" stroke-width="0.9"/>
<line x1="490.72" y1="782.5" x2="490.72" y2="785" stroke="#333" stroke-width="0.9"/>
<line x1="501.68" y1="782.5" x2="501.68" y2="785" stroke="#333" stroke-width="0.9"/>
<line x1="512.64" y1="782.5" x2="512.64" y2="785" stroke="#333" stroke-width="0.9"/>
<line x1="523.6" y1="782.5" x2="523.6" y2="785" stroke="#333" stroke-width="0.9"/>
<line x1="534.56" y1="782.5" x2="534.56" y2="785" stroke="#333" stroke-width="0.9"/>
<line x1="545.52" y1="782.5" x2="545.52" y2="785" stroke="#333" stroke-width="0.9"/>
<line x1="556.48" y1="782.5" x2="556.48" y2="785" stroke="#333" stroke-width="0.9"/>
<line x1="567.44" y1="782.5" x2="567.44" y2="785" stroke="#333" stroke-width="0.9"/>
<line x1="578.4" y1="782.5" x2="578.4" y2="785" stroke="#333" stroke-width="0.9"/>
<text x="468.8" y="790.8" font-size="9.3" text-anchor="middle" dominant-baseline="central" stroke="#1e1e1e" stroke-width="0.18" letter-spacing="-0.4">7</text>
<text x="479.76" y="790.8" font-size="9.3" text-anchor="middle" dominant-baseline="central" stroke="#1e1e1e" stroke-width="0.18" letter-spacing="-0.4">10</text>
<text x="490.72" y="790.8" font-size="9.3" text-anchor="middle" dominant-baseline="central" stroke="#1e1e1e" stroke-width="0.18" letter-spacing="-0.4">13</text>
<text x="501.68" y="790.8" font-size="9.3" text-anchor="middle" dominant-baseline="central" stroke="#1e1e1e" stroke-width="0.18" letter-spacing="-0.4">16</text>
<text x="512.64" y="790.8" font-size="9.3" text-anchor="middle" dominant-baseline="central" stroke="#1e1e1e" stroke-width="0.18" letter-spacing="-0.4">19</text>
<text x="523.6" y="790.8" font-size="9.3" text-anchor="middle" dominant-baseline="central" stroke="#1e1e1e" stroke-width="0.18" letter-spacing="-0.4">22</text>
<text x="534.56" y="790.8" font-size="9.3" text-anchor="middle" dominant-baseline="central" stroke="#1e1e1e" stroke-width="0.18" letter-spacing="-0.4">25</text>
<text x="545.52" y="790.8" font-size="9.3" text-anchor="middle" dominant-baseline="central" stroke="#1e1e1e" stroke-width="0.18" letter-spacing="-0.4">28</text>
<text x="556.48" y="790.8" font-size="9.3" text-anchor="middle" dominant-baseline="central" stroke="#1e1e1e" stroke-width="0.18" letter-spacing="-0.4">31</text>
<text x="567.44" y="790.8" font-size="9.3" text-anchor="middle" dominant-baseline="central" stroke="#1e1e1e" stroke-width="0.18" letter-spacing="-0.4">34</text>
<text x="578.4" y="790.8" font-size="9.3" text-anchor="middle" dominant-baseline="central" stroke="#1e1e1e" stroke-width="0.18" letter-spacing="-0.4">37</text>
<text x="527.4" y="802.8" font-size="9.3" text-anchor="middle" dominant-baseline="central" stroke="#1e1e1e" stroke-width="0.18">Days</text>
<polyline points="468.8,773.81 479.76,771.23 490.72,768.65 501.68,766.4 512.64,763.82 523.6,760.93 534.56,759.96 545.52,758.99 556.48,758.99 567.44,756.42 578.4,754.81" fill="none" stroke="#d4956a" stroke-width="0.8"/>
<line x1="468.8" y1="773.16" x2="468.8" y2="774.45" stroke="#d4956a" stroke-width="0.7" opacity="0.75"/>
<line x1="467.2" y1="773.16" x2="470.4" y2="773.16" stroke="#d4956a" stroke-width="0.7" opacity="0.75"/>
<line x1="467.2" y1="774.45" x2="470.4" y2="774.45" stroke="#d4956a" stroke-width="0.7" opacity="0.75"/>
<path d="M468.8,771.61 L471,775.41 L466.6,775.41 Z" fill="#d4956a" stroke="none" stroke-width="1"/>
<line x1="479.76" y1="770.26" x2="479.76" y2="772.2" stroke="#d4956a" stroke-width="0.7" opacity="0.75"/>
<line x1="478.16" y1="770.26" x2="481.36" y2="770.26" stroke="#d4956a" stroke-width="0.7" opacity="0.75"/>
<line x1="478.16" y1="772.2" x2="481.36" y2="772.2" stroke="#d4956a" stroke-width="0.7" opacity="0.75"/>
<path d="M479.76,769.03 L481.96,772.83 L477.56,772.83 Z" fill="#d4956a" stroke="none" stroke-width="1"/>
<line x1="490.72" y1="767.37" x2="490.72" y2="769.94" stroke="#d4956a" stroke-width="0.7" opacity="0.75"/>
<line x1="489.12" y1="767.37" x2="492.32" y2="767.37" stroke="#d4956a" stroke-width="0.7" opacity="0.75"/>
<line x1="489.12" y1="769.94" x2="492.32" y2="769.94" stroke="#d4956a" stroke-width="0.7" opacity="0.75"/>
<path d="M490.72,766.45 L492.92,770.25 L488.52,770.25 Z" fill="#d4956a" stroke="none" stroke-width="1"/>
<line x1="501.68" y1="764.79" x2="501.68" y2="768.01" stroke="#d4956a" stroke-width="0.7" opacity="0.75"/>
<line x1="500.08" y1="764.79" x2="503.28" y2="764.79" stroke="#d4956a" stroke-width="0.7" opacity="0.75"/>
<line x1="500.08" y1="768.01" x2="503.28" y2="768.01" stroke="#d4956a" stroke-width="0.7" opacity="0.75"/>
<path d="M501.68,764.2 L503.88,768 L499.48,768 Z" fill="#d4956a" stroke="none" stroke-width="1"/>
<line x1="512.64" y1="760.6" x2="512.64" y2="767.04" stroke="#d4956a" stroke-width="0.7" opacity="0.75"/>
<line x1="511.04" y1="760.6" x2="514.24" y2="760.6" stroke="#d4956a" stroke-width="0.7" opacity="0.75"/>
<line x1="511.04" y1="767.04" x2="514.24" y2="767.04" stroke="#d4956a" stroke-width="0.7" opacity="0.75"/>
<path d="M512.64,761.62 L514.84,765.42 L510.44,765.42 Z" fill="#d4956a" stroke="none" stroke-width="1"/>
<line x1="523.6" y1="755.77" x2="523.6" y2="766.08" stroke="#d4956a" stroke-width="0.7" opacity="0.75"/>
<line x1="522" y1="755.77" x2="525.2" y2="755.77" stroke="#d4956a" stroke-width="0.7" opacity="0.75"/>
<line x1="522" y1="766.08" x2="525.2" y2="766.08" stroke="#d4956a" stroke-width="0.7" opacity="0.75"/>
<path d="M523.6,758.73 L525.8,762.53 L521.4,762.53 Z" fill="#d4956a" stroke="none" stroke-width="1"/>
<line x1="534.56" y1="754.16" x2="534.56" y2="765.76" stroke="#d4956a" stroke-width="0.7" opacity="0.75"/>
<line x1="532.96" y1="754.16" x2="536.16" y2="754.16" stroke="#d4956a" stroke-width="0.7" opacity="0.75"/>
<line x1="532.96" y1="765.76" x2="536.16" y2="765.76" stroke="#d4956a" stroke-width="0.7" opacity="0.75"/>
<path d="M534.56,757.76 L536.76,761.56 L532.36,761.56 Z" fill="#d4956a" stroke="none" stroke-width="1"/>
<line x1="545.52" y1="753.84" x2="545.52" y2="764.15" stroke="#d4956a" stroke-width="0.7" opacity="0.75"/>
<line x1="543.92" y1="753.84" x2="547.12" y2="753.84" stroke="#d4956a" stroke-width="0.7" opacity="0.75"/>
<line x1="543.92" y1="764.15" x2="547.12" y2="764.15" stroke="#d4956a" stroke-width="0.7" opacity="0.75"/>
<path d="M545.52,756.79 L547.72,760.59 L543.32,760.59 Z" fill="#d4956a" stroke="none" stroke-width="1"/>
<line x1="556.48" y1="754.49" x2="556.48" y2="763.5" stroke="#d4956a" stroke-width="0.7" opacity="0.75"/>
<line x1="554.88" y1="754.49" x2="558.08" y2="754.49" stroke="#d4956a" stroke-width="0.7" opacity="0.75"/>
<line x1="554.88" y1="763.5" x2="558.08" y2="763.5" stroke="#d4956a" stroke-width="0.7" opacity="0.75"/>
<path d="M556.48,756.79 L558.68,760.59 L554.28,760.59 Z" fill="#d4956a" stroke="none" stroke-width="1"/>
<line x1="567.44" y1="749.98" x2="567.44" y2="762.86" stroke="#d4956a" stroke-width="0.7" opacity="0.75"/>
<line x1="565.84" y1="749.98" x2="569.04" y2="749.98" stroke="#d4956a" stroke-width="0.7" opacity="0.75"/>
<line x1="565.84" y1="762.86" x2="569.04" y2="762.86" stroke="#d4956a" stroke-width="0.7" opacity="0.75"/>
<path d="M567.44,754.22 L569.64,758.02 L565.24,758.02 Z" fill="#d4956a" stroke="none" stroke-width="1"/>
<line x1="578.4" y1="747.72" x2="578.4" y2="761.89" stroke="#d4956a" stroke-width="0.7" opacity="0.75"/>
<line x1="576.8" y1="747.72" x2="580" y2="747.72" stroke="#d4956a" stroke-width="0.7" opacity="0.75"/>
<line x1="576.8" y1="761.89" x2="580" y2="761.89" stroke="#d4956a" stroke-width="0.7" opacity="0.75"/>
<path d="M578.4,752.61 L580.6,756.41 L576.2,756.41 Z" fill="#d4956a" stroke="none" stroke-width="1"/>
<polyline points="468.8,772.52 479.76,769.3 490.72,765.11 501.68,759.64 512.64,753.52 523.6,747.4 534.56,741.93 545.52,736.13 556.48,731.62 567.44,724.54 578.4,719.39" fill="none" stroke="#5b8fa8" stroke-width="0.8"/>
<line x1="468.8" y1="771.55" x2="468.8" y2="773.48" stroke="#5b8fa8" stroke-width="0.7" opacity="0.75"/>
<line x1="467.2" y1="771.55" x2="470.4" y2="771.55" stroke="#5b8fa8" stroke-width="0.7" opacity="0.75"/>
<line x1="467.2" y1="773.48" x2="470.4" y2="773.48" stroke="#5b8fa8" stroke-width="0.7" opacity="0.75"/>
<circle cx="468.8" cy="772.52" r="1.9" fill="#5b8fa8"/>
<line x1="479.76" y1="768.01" x2="479.76" y2="770.59" stroke="#5b8fa8" stroke-width="0.7" opacity="0.75"/>
<line x1="478.16" y1="768.01" x2="481.36" y2="768.01" stroke="#5b8fa8" stroke-width="0.7" opacity="0.75"/>
<line x1="478.16" y1="770.59" x2="481.36" y2="770.59" stroke="#5b8fa8" stroke-width="0.7" opacity="0.75"/>
<circle cx="479.76" cy="769.3" r="1.9" fill="#5b8fa8"/>
<line x1="490.72" y1="762.54" x2="490.72" y2="767.69" stroke="#5b8fa8" stroke-width="0.7" opacity="0.75"/>
<line x1="489.12" y1="762.54" x2="492.32" y2="762.54" stroke="#5b8fa8" stroke-width="0.7" opacity="0.75"/>
<line x1="489.12" y1="767.69" x2="492.32" y2="767.69" stroke="#5b8fa8" stroke-width="0.7" opacity="0.75"/>
<circle cx="490.72" cy="765.11" r="1.9" fill="#5b8fa8"/>
<line x1="501.68" y1="755.45" x2="501.68" y2="763.82" stroke="#5b8fa8" stroke-width="0.7" opacity="0.75"/>
<line x1="500.08" y1="755.45" x2="503.28" y2="755.45" stroke="#5b8fa8" stroke-width="0.7" opacity="0.75"/>
<line x1="500.08" y1="763.82" x2="503.28" y2="763.82" stroke="#5b8fa8" stroke-width="0.7" opacity="0.75"/>
<circle cx="501.68" cy="759.64" r="1.9" fill="#5b8fa8"/>
<line x1="512.64" y1="748.37" x2="512.64" y2="758.67" stroke="#5b8fa8" stroke-width="0.7" opacity="0.75"/>
<line x1="511.04" y1="748.37" x2="514.24" y2="748.37" stroke="#5b8fa8" stroke-width="0.7" opacity="0.75"/>
<line x1="511.04" y1="758.67" x2="514.24" y2="758.67" stroke="#5b8fa8" stroke-width="0.7" opacity="0.75"/>
<circle cx="512.64" cy="753.52" r="1.9" fill="#5b8fa8"/>
<line x1="523.6" y1="741.61" x2="523.6" y2="753.2" stroke="#5b8fa8" stroke-width="0.7" opacity="0.75"/>
<line x1="522" y1="741.61" x2="525.2" y2="741.61" stroke="#5b8fa8" stroke-width="0.7" opacity="0.75"/>
<line x1="522" y1="753.2" x2="525.2" y2="753.2" stroke="#5b8fa8" stroke-width="0.7" opacity="0.75"/>
<circle cx="523.6" cy="747.4" r="1.9" fill="#5b8fa8"/>
<line x1="534.56" y1="736.13" x2="534.56" y2="747.72" stroke="#5b8fa8" stroke-width="0.7" opacity="0.75"/>
<line x1="532.96" y1="736.13" x2="536.16" y2="736.13" stroke="#5b8fa8" stroke-width="0.7" opacity="0.75"/>
<line x1="532.96" y1="747.72" x2="536.16" y2="747.72" stroke="#5b8fa8" stroke-width="0.7" opacity="0.75"/>
<circle cx="534.56" cy="741.93" r="1.9" fill="#5b8fa8"/>
<line x1="545.52" y1="728.73" x2="545.52" y2="743.54" stroke="#5b8fa8" stroke-width="0.7" opacity="0.75"/>
<line x1="543.92" y1="728.73" x2="547.12" y2="728.73" stroke="#5b8fa8" stroke-width="0.7" opacity="0.75"/>
<line x1="543.92" y1="743.54" x2="547.12" y2="743.54" stroke="#5b8fa8" stroke-width="0.7" opacity="0.75"/>
<circle cx="545.52" cy="736.13" r="1.9" fill="#5b8fa8"/>
<line x1="556.48" y1="722.61" x2="556.48" y2="740.64" stroke="#5b8fa8" stroke-width="0.7" opacity="0.75"/>
<line x1="554.88" y1="722.61" x2="558.08" y2="722.61" stroke="#5b8fa8" stroke-width="0.7" opacity="0.75"/>
<line x1="554.88" y1="740.64" x2="558.08" y2="740.64" stroke="#5b8fa8" stroke-width="0.7" opacity="0.75"/>
<circle cx="556.48" cy="731.62" r="1.9" fill="#5b8fa8"/>
<line x1="567.44" y1="714.88" x2="567.44" y2="734.2" stroke="#5b8fa8" stroke-width="0.7" opacity="0.75"/>
<line x1="565.84" y1="714.88" x2="569.04" y2="714.88" stroke="#5b8fa8" stroke-width="0.7" opacity="0.75"/>
<line x1="565.84" y1="734.2" x2="569.04" y2="734.2" stroke="#5b8fa8" stroke-width="0.7" opacity="0.75"/>
<circle cx="567.44" cy="724.54" r="1.9" fill="#5b8fa8"/>
<line x1="578.4" y1="709.41" x2="578.4" y2="729.37" stroke="#5b8fa8" stroke-width="0.7" opacity="0.75"/>
<line x1="576.8" y1="709.41" x2="580" y2="709.41" stroke="#5b8fa8" stroke-width="0.7" opacity="0.75"/>
<line x1="576.8" y1="729.37" x2="580" y2="729.37" stroke="#5b8fa8" stroke-width="0.7" opacity="0.75"/>
<circle cx="578.4" cy="719.39" r="1.9" fill="#5b8fa8"/>
<text x="438.1" y="744.2" font-size="9.1" text-anchor="middle" dominant-baseline="central" stroke="#1e1e1e" stroke-width="0.18" transform="rotate(-90 438.1 744.2)">Tumor volume (mm<tspan font-size="6" dy="-3">3</tspan><tspan dy="3">)</tspan></text>
<line x1="473" y1="703.7" x2="481.5" y2="703.7" stroke="#5b8fa8" stroke-width="0.8"/>
<circle cx="477.25" cy="703.7" r="1.9" fill="#5b8fa8"/>
<text x="486.8" y="703.9" font-size="9.3" dominant-baseline="central" stroke="#1e1e1e" stroke-width="0.18">shSCR</text>
<line x1="473" y1="714.9" x2="481.5" y2="714.9" stroke="#d4956a" stroke-width="0.8"/>
<path d="M477.25,712.7 L479.45,716.5 L475.05,716.5 Z" fill="#d4956a" stroke="none" stroke-width="1"/>
<text x="486.8" y="715.1" font-size="9.3" dominant-baseline="central" stroke="#1e1e1e" stroke-width="0.18">shJAB1#2</text>
<text x="582" y="760.3" font-size="10.5" fill="#444" dominant-baseline="auto" stroke="#444" stroke-width="0.18">**</text>
<line x1="624.5" y1="692.8" x2="624.5" y2="782.2" stroke="#333" stroke-width="0.9"/>
<line x1="621.5" y1="782.2" x2="624.5" y2="782.2" stroke="#333" stroke-width="0.9"/>
<text x="620.8" y="782.2" font-size="9.3" text-anchor="end" dominant-baseline="central" stroke="#1e1e1e" stroke-width="0.18">0.0</text>
<line x1="621.5" y1="759.85" x2="624.5" y2="759.85" stroke="#333" stroke-width="0.9"/>
<text x="620.8" y="759.85" font-size="9.3" text-anchor="end" dominant-baseline="central" stroke="#1e1e1e" stroke-width="0.18">0.1</text>
<line x1="621.5" y1="737.5" x2="624.5" y2="737.5" stroke="#333" stroke-width="0.9"/>
<text x="620.8" y="737.5" font-size="9.3" text-anchor="end" dominant-baseline="central" stroke="#1e1e1e" stroke-width="0.18">0.2</text>
<line x1="621.5" y1="715.15" x2="624.5" y2="715.15" stroke="#333" stroke-width="0.9"/>
<text x="620.8" y="715.15" font-size="9.3" text-anchor="end" dominant-baseline="central" stroke="#1e1e1e" stroke-width="0.18">0.3</text>
<line x1="621.5" y1="692.8" x2="624.5" y2="692.8" stroke="#333" stroke-width="0.9"/>
<text x="620.8" y="692.8" font-size="9.3" text-anchor="end" dominant-baseline="central" stroke="#1e1e1e" stroke-width="0.18">0.4</text>
<line x1="624.5" y1="782.2" x2="683.3" y2="782.2" stroke="#9a9a9a" stroke-width="1.3"/>
<text x="600.8" y="733.3" font-size="9" text-anchor="middle" transform="rotate(-90 600.8 733.3)" dominant-baseline="central" stroke="#1e1e1e" stroke-width="0.18">Tumor weight (g)</text>
<rect x="633" y="718.8" width="16.7" height="63.4" fill="#5e8fa8"/>
<line x1="641.35" y1="712.2" x2="641.35" y2="725.5" stroke="#333" stroke-width="0.9"/>
<line x1="638.15" y1="712.2" x2="644.55" y2="712.2" stroke="#333" stroke-width="0.9"/>
<line x1="638.15" y1="725.5" x2="644.55" y2="725.5" stroke="#333" stroke-width="0.9"/>
<rect x="658.3" y="759.2" width="16.7" height="23" fill="#c98a60"/>
<line x1="666.65" y1="756.2" x2="666.65" y2="762.5" stroke="#333" stroke-width="0.9"/>
<line x1="663.45" y1="756.2" x2="669.85" y2="756.2" stroke="#333" stroke-width="0.9"/>
<line x1="663.45" y1="762.5" x2="669.85" y2="762.5" stroke="#333" stroke-width="0.9"/>
<text x="666.65" y="757.42" font-size="11" text-anchor="middle" fill="#444" dominant-baseline="auto" stroke="#444" stroke-width="0.2">**</text>
<line x1="641.3" y1="782.2" x2="641.3" y2="785.4" stroke="#333" stroke-width="0.9"/>
<text x="646.9" y="793.2" font-size="9.2" text-anchor="end" transform="rotate(-45 646.9 793.2)" dominant-baseline="auto" stroke="#1e1e1e" stroke-width="0.18">shSCR</text>
<line x1="666.7" y1="782.2" x2="666.7" y2="785.4" stroke="#333" stroke-width="0.9"/>
<text x="672.3" y="793.2" font-size="9.2" text-anchor="end" transform="rotate(-45 672.3 793.2)" dominant-baseline="auto" stroke="#1e1e1e" stroke-width="0.18">shJAB1#2</text>
<text x="4" y="819.7" font-size="9.5" dominant-baseline="central" stroke="#1e1e1e" stroke-width="0.18">K</text>
<line x1="27.6" y1="831.4" x2="27.6" y2="921.1" stroke="#444" stroke-width="0.9"/>
<line x1="25.1" y1="921.1" x2="27.6" y2="921.1" stroke="#444" stroke-width="0.9"/>
<text x="23.3" y="921.1" font-size="9.3" text-anchor="end" dominant-baseline="central" stroke="#1e1e1e" stroke-width="0.18">0</text>
<line x1="25.1" y1="903.16" x2="27.6" y2="903.16" stroke="#444" stroke-width="0.9"/>
<text x="23.3" y="903.16" font-size="9.3" text-anchor="end" dominant-baseline="central" stroke="#1e1e1e" stroke-width="0.18">1</text>
<line x1="25.1" y1="885.22" x2="27.6" y2="885.22" stroke="#444" stroke-width="0.9"/>
<text x="23.3" y="885.22" font-size="9.3" text-anchor="end" dominant-baseline="central" stroke="#1e1e1e" stroke-width="0.18">2</text>
<line x1="25.1" y1="867.28" x2="27.6" y2="867.28" stroke="#444" stroke-width="0.9"/>
<text x="23.3" y="867.28" font-size="9.3" text-anchor="end" dominant-baseline="central" stroke="#1e1e1e" stroke-width="0.18">3</text>
<line x1="25.1" y1="849.34" x2="27.6" y2="849.34" stroke="#444" stroke-width="0.9"/>
<text x="23.3" y="849.34" font-size="9.3" text-anchor="end" dominant-baseline="central" stroke="#1e1e1e" stroke-width="0.18">4</text>
<line x1="25.1" y1="831.4" x2="27.6" y2="831.4" stroke="#444" stroke-width="0.9"/>
<text x="23.3" y="831.4" font-size="9.3" text-anchor="end" dominant-baseline="central" stroke="#1e1e1e" stroke-width="0.18">5</text>
<text x="9.7" y="875.2" font-size="8.9" text-anchor="middle" transform="rotate(-90 9.7 875.2)" dominant-baseline="central" stroke="#1e1e1e" stroke-width="0.18">Relative level of mRNA</text>
<rect x="38.3" y="831.2" width="14.1" height="6.2" fill="#5e8fa8"/>
<text x="54.9" y="834.5" font-size="9.3" dominant-baseline="central" stroke="#1e1e1e" stroke-width="0.18">Vector</text>
<rect x="107.3" y="831.2" width="14.1" height="6.2" fill="#d08a65"/>
<text x="123.9" y="834.5" font-size="9.3" dominant-baseline="central" stroke="#1e1e1e" stroke-width="0.18">JAB1</text>
<line x1="27.6" y1="921.1" x2="164" y2="921.1" stroke="#555" stroke-width="0.9"/>
<rect x="29.9" y="903.16" width="3.7" height="17.94" fill="#5e8fa8"/>
<line x1="31.75" y1="902.98" x2="31.75" y2="903.34" stroke="#333" stroke-width="0.75"/>
<line x1="30.45" y1="902.98" x2="33.05" y2="902.98" stroke="#333" stroke-width="0.75"/>
<line x1="30.45" y1="903.34" x2="33.05" y2="903.34" stroke="#333" stroke-width="0.75"/>
<rect x="33.6" y="888.45" width="3.7" height="32.65" fill="#d08a65"/>
<line x1="35.45" y1="879.48" x2="35.45" y2="897.42" stroke="#333" stroke-width="0.75"/>
<line x1="34.15" y1="879.48" x2="36.75" y2="879.48" stroke="#333" stroke-width="0.75"/>
<line x1="34.15" y1="897.42" x2="36.75" y2="897.42" stroke="#333" stroke-width="0.75"/>
<text x="35.45" y="881.17" font-size="9.6" text-anchor="middle" fill="#555" dominant-baseline="auto" stroke="#555" stroke-width="0.2">*</text>
<line x1="33.6" y1="921.1" x2="33.6" y2="924.4" stroke="#555" stroke-width="0.9"/>
<text x="38.2" y="928.1" font-size="9" text-anchor="end" transform="rotate(-45 38.2 928.1)" dominant-baseline="auto" stroke="#1e1e1e" stroke-width="0.18">BMP4</text>
<rect x="41.1" y="903.16" width="3.7" height="17.94" fill="#5e8fa8"/>
<line x1="42.95" y1="902.98" x2="42.95" y2="903.34" stroke="#333" stroke-width="0.75"/>
<line x1="41.65" y1="902.98" x2="44.25" y2="902.98" stroke="#333" stroke-width="0.75"/>
<line x1="41.65" y1="903.34" x2="44.25" y2="903.34" stroke="#333" stroke-width="0.75"/>
<rect x="44.8" y="879.3" width="3.7" height="41.8" fill="#d08a65"/>
<line x1="46.65" y1="868.54" x2="46.65" y2="890.06" stroke="#333" stroke-width="0.75"/>
<line x1="45.35" y1="868.54" x2="47.95" y2="868.54" stroke="#333" stroke-width="0.75"/>
<line x1="45.35" y1="890.06" x2="47.95" y2="890.06" stroke="#333" stroke-width="0.75"/>
<text x="46.65" y="870.23" font-size="9.6" text-anchor="middle" fill="#555" dominant-baseline="auto" stroke="#555" stroke-width="0.2">*</text>
<text x="46.65" y="865.83" font-size="9.6" text-anchor="middle" fill="#555" dominant-baseline="auto" stroke="#555" stroke-width="0.2">*</text>
<line x1="44.8" y1="921.1" x2="44.8" y2="924.4" stroke="#555" stroke-width="0.9"/>
<text x="49.4" y="928.1" font-size="9" text-anchor="end" transform="rotate(-45 49.4 928.1)" dominant-baseline="auto" stroke="#1e1e1e" stroke-width="0.18">CSF2</text>
<rect x="52.3" y="902.8" width="3.7" height="18.3" fill="#5e8fa8"/>
<line x1="54.15" y1="902.44" x2="54.15" y2="903.16" stroke="#333" stroke-width="0.75"/>
<line x1="52.85" y1="902.44" x2="55.45" y2="902.44" stroke="#333" stroke-width="0.75"/>
<line x1="52.85" y1="903.16" x2="55.45" y2="903.16" stroke="#333" stroke-width="0.75"/>
<rect x="56" y="880.2" width="3.7" height="40.9" fill="#d08a65"/>
<line x1="57.85" y1="872.12" x2="57.85" y2="888.27" stroke="#333" stroke-width="0.75"/>
<line x1="56.55" y1="872.12" x2="59.15" y2="872.12" stroke="#333" stroke-width="0.75"/>
<line x1="56.55" y1="888.27" x2="59.15" y2="888.27" stroke="#333" stroke-width="0.75"/>
<text x="57.85" y="873.82" font-size="9.6" text-anchor="middle" fill="#555" dominant-baseline="auto" stroke="#555" stroke-width="0.2">*</text>
<text x="57.85" y="869.42" font-size="9.6" text-anchor="middle" fill="#555" dominant-baseline="auto" stroke="#555" stroke-width="0.2">*</text>
<line x1="56" y1="921.1" x2="56" y2="924.4" stroke="#555" stroke-width="0.9"/>
<text x="60.6" y="928.1" font-size="9" text-anchor="end" transform="rotate(-45 60.6 928.1)" dominant-baseline="auto" stroke="#1e1e1e" stroke-width="0.18">ERBB3</text>
<rect x="63.5" y="903.16" width="3.7" height="17.94" fill="#5e8fa8"/>
<line x1="65.35" y1="902.98" x2="65.35" y2="903.34" stroke="#333" stroke-width="0.75"/>
<line x1="64.05" y1="902.98" x2="66.65" y2="902.98" stroke="#333" stroke-width="0.75"/>
<line x1="64.05" y1="903.34" x2="66.65" y2="903.34" stroke="#333" stroke-width="0.75"/>
<rect x="67.2" y="888.99" width="3.7" height="32.11" fill="#d08a65"/>
<line x1="69.05" y1="874.64" x2="69.05" y2="903.34" stroke="#333" stroke-width="0.75"/>
<line x1="67.75" y1="874.64" x2="70.35" y2="874.64" stroke="#333" stroke-width="0.75"/>
<line x1="67.75" y1="903.34" x2="70.35" y2="903.34" stroke="#333" stroke-width="0.75"/>
<text x="69.05" y="876.33" font-size="9.6" text-anchor="middle" fill="#555" dominant-baseline="auto" stroke="#555" stroke-width="0.2">*</text>
<line x1="67.2" y1="921.1" x2="67.2" y2="924.4" stroke="#555" stroke-width="0.9"/>
<text x="71.8" y="928.1" font-size="9" text-anchor="end" transform="rotate(-45 71.8 928.1)" dominant-baseline="auto" stroke="#1e1e1e" stroke-width="0.18">EP300</text>
<rect x="74.7" y="903.16" width="3.7" height="17.94" fill="#5e8fa8"/>
<line x1="76.55" y1="902.98" x2="76.55" y2="903.34" stroke="#333" stroke-width="0.75"/>
<line x1="75.25" y1="902.98" x2="77.85" y2="902.98" stroke="#333" stroke-width="0.75"/>
<line x1="75.25" y1="903.34" x2="77.85" y2="903.34" stroke="#333" stroke-width="0.75"/>
<rect x="78.4" y="887.01" width="3.7" height="34.09" fill="#d08a65"/>
<line x1="80.25" y1="874.46" x2="80.25" y2="899.57" stroke="#333" stroke-width="0.75"/>
<line x1="78.95" y1="874.46" x2="81.55" y2="874.46" stroke="#333" stroke-width="0.75"/>
<line x1="78.95" y1="899.57" x2="81.55" y2="899.57" stroke="#333" stroke-width="0.75"/>
<text x="80.25" y="876.15" font-size="9.6" text-anchor="middle" fill="#555" dominant-baseline="auto" stroke="#555" stroke-width="0.2">*</text>
<line x1="78.4" y1="921.1" x2="78.4" y2="924.4" stroke="#555" stroke-width="0.9"/>
<text x="83" y="928.1" font-size="9" text-anchor="end" transform="rotate(-45 83 928.1)" dominant-baseline="auto" stroke="#1e1e1e" stroke-width="0.18">IL1B</text>
<rect x="85.9" y="903.16" width="3.7" height="17.94" fill="#5e8fa8"/>
<line x1="87.75" y1="902.98" x2="87.75" y2="903.34" stroke="#333" stroke-width="0.75"/>
<line x1="86.45" y1="902.98" x2="89.05" y2="902.98" stroke="#333" stroke-width="0.75"/>
<line x1="86.45" y1="903.34" x2="89.05" y2="903.34" stroke="#333" stroke-width="0.75"/>
<rect x="89.6" y="893.11" width="3.7" height="27.99" fill="#d08a65"/>
<line x1="91.45" y1="885.94" x2="91.45" y2="900.29" stroke="#333" stroke-width="0.75"/>
<line x1="90.15" y1="885.94" x2="92.75" y2="885.94" stroke="#333" stroke-width="0.75"/>
<line x1="90.15" y1="900.29" x2="92.75" y2="900.29" stroke="#333" stroke-width="0.75"/>
<text x="91.45" y="887.63" font-size="9.6" text-anchor="middle" fill="#555" dominant-baseline="auto" stroke="#555" stroke-width="0.2">*</text>
<line x1="89.6" y1="921.1" x2="89.6" y2="924.4" stroke="#555" stroke-width="0.9"/>
<text x="94.2" y="928.1" font-size="9" text-anchor="end" transform="rotate(-45 94.2 928.1)" dominant-baseline="auto" stroke="#1e1e1e" stroke-width="0.18">IRS2</text>
<rect x="97.1" y="903.16" width="3.7" height="17.94" fill="#5e8fa8"/>
<line x1="98.95" y1="902.98" x2="98.95" y2="903.34" stroke="#333" stroke-width="0.75"/>
<line x1="97.65" y1="902.98" x2="100.25" y2="902.98" stroke="#333" stroke-width="0.75"/>
<line x1="97.65" y1="903.34" x2="100.25" y2="903.34" stroke="#333" stroke-width="0.75"/>
<rect x="100.8" y="883.07" width="3.7" height="38.03" fill="#d08a65"/>
<line x1="102.65" y1="866.92" x2="102.65" y2="899.21" stroke="#333" stroke-width="0.75"/>
<line x1="101.35" y1="866.92" x2="103.95" y2="866.92" stroke="#333" stroke-width="0.75"/>
<line x1="101.35" y1="899.21" x2="103.95" y2="899.21" stroke="#333" stroke-width="0.75"/>
<text x="102.65" y="868.61" font-size="9.6" text-anchor="middle" fill="#555" dominant-baseline="auto" stroke="#555" stroke-width="0.2">*</text>
<line x1="100.8" y1="921.1" x2="100.8" y2="924.4" stroke="#555" stroke-width="0.9"/>
<text x="105.4" y="928.1" font-size="9" text-anchor="end" transform="rotate(-45 105.4 928.1)" dominant-baseline="auto" stroke="#1e1e1e" stroke-width="0.18">MAP2K6</text>
<rect x="108.3" y="902.8" width="3.7" height="18.3" fill="#5e8fa8"/>
<line x1="110.15" y1="902.44" x2="110.15" y2="903.16" stroke="#333" stroke-width="0.75"/>
<line x1="108.85" y1="902.44" x2="111.45" y2="902.44" stroke="#333" stroke-width="0.75"/>
<line x1="108.85" y1="903.16" x2="111.45" y2="903.16" stroke="#333" stroke-width="0.75"/>
<rect x="112" y="871.23" width="3.7" height="49.87" fill="#d08a65"/>
<line x1="113.85" y1="851.49" x2="113.85" y2="890.96" stroke="#333" stroke-width="0.75"/>
<line x1="112.55" y1="851.49" x2="115.15" y2="851.49" stroke="#333" stroke-width="0.75"/>
<line x1="112.55" y1="890.96" x2="115.15" y2="890.96" stroke="#333" stroke-width="0.75"/>
<text x="113.85" y="853.18" font-size="9.6" text-anchor="middle" fill="#555" dominant-baseline="auto" stroke="#555" stroke-width="0.2">*</text>
<text x="113.85" y="848.78" font-size="9.6" text-anchor="middle" fill="#555" dominant-baseline="auto" stroke="#555" stroke-width="0.2">*</text>
<line x1="112" y1="921.1" x2="112" y2="924.4" stroke="#555" stroke-width="0.9"/>
<text x="116.6" y="928.1" font-size="9" text-anchor="end" transform="rotate(-45 116.6 928.1)" dominant-baseline="auto" stroke="#1e1e1e" stroke-width="0.18">SLC2A4</text>
<rect x="119.5" y="903.16" width="3.7" height="17.94" fill="#5e8fa8"/>
<line x1="121.35" y1="902.98" x2="121.35" y2="903.34" stroke="#333" stroke-width="0.75"/>
<line x1="120.05" y1="902.98" x2="122.65" y2="902.98" stroke="#333" stroke-width="0.75"/>
<line x1="120.05" y1="903.34" x2="122.65" y2="903.34" stroke="#333" stroke-width="0.75"/>
<rect x="123.2" y="893.83" width="3.7" height="27.27" fill="#d08a65"/>
<line x1="125.05" y1="889.35" x2="125.05" y2="898.32" stroke="#333" stroke-width="0.75"/>
<line x1="123.75" y1="889.35" x2="126.35" y2="889.35" stroke="#333" stroke-width="0.75"/>
<line x1="123.75" y1="898.32" x2="126.35" y2="898.32" stroke="#333" stroke-width="0.75"/>
<text x="125.05" y="891.04" font-size="9.6" text-anchor="middle" fill="#555" dominant-baseline="auto" stroke="#555" stroke-width="0.2">*</text>
<line x1="123.2" y1="921.1" x2="123.2" y2="924.4" stroke="#555" stroke-width="0.9"/>
<text x="127.8" y="928.1" font-size="9" text-anchor="end" transform="rotate(-45 127.8 928.1)" dominant-baseline="auto" stroke="#1e1e1e" stroke-width="0.18">SOCS1</text>
<rect x="130.7" y="902.8" width="3.7" height="18.3" fill="#5e8fa8"/>
<line x1="132.55" y1="902.44" x2="132.55" y2="903.16" stroke="#333" stroke-width="0.75"/>
<line x1="131.25" y1="902.44" x2="133.85" y2="902.44" stroke="#333" stroke-width="0.75"/>
<line x1="131.25" y1="903.16" x2="133.85" y2="903.16" stroke="#333" stroke-width="0.75"/>
<rect x="134.4" y="872.12" width="3.7" height="48.98" fill="#d08a65"/>
<line x1="136.25" y1="862.26" x2="136.25" y2="881.99" stroke="#333" stroke-width="0.75"/>
<line x1="134.95" y1="862.26" x2="137.55" y2="862.26" stroke="#333" stroke-width="0.75"/>
<line x1="134.95" y1="881.99" x2="137.55" y2="881.99" stroke="#333" stroke-width="0.75"/>
<text x="136.25" y="863.95" font-size="9.6" text-anchor="middle" fill="#555" dominant-baseline="auto" stroke="#555" stroke-width="0.2">*</text>
<text x="136.25" y="859.55" font-size="9.6" text-anchor="middle" fill="#555" dominant-baseline="auto" stroke="#555" stroke-width="0.2">*</text>
<line x1="134.4" y1="921.1" x2="134.4" y2="924.4" stroke="#555" stroke-width="0.9"/>
<text x="139" y="928.1" font-size="9" text-anchor="end" transform="rotate(-45 139 928.1)" dominant-baseline="auto" stroke="#1e1e1e" stroke-width="0.18">STAT2</text>
<rect x="141.9" y="903.16" width="3.7" height="17.94" fill="#5e8fa8"/>
<line x1="143.75" y1="902.98" x2="143.75" y2="903.34" stroke="#333" stroke-width="0.75"/>
<line x1="142.45" y1="902.98" x2="145.05" y2="902.98" stroke="#333" stroke-width="0.75"/>
<line x1="142.45" y1="903.34" x2="145.05" y2="903.34" stroke="#333" stroke-width="0.75"/>
<rect x="145.6" y="886.66" width="3.7" height="34.44" fill="#d08a65"/>
<line x1="147.45" y1="878.58" x2="147.45" y2="894.73" stroke="#333" stroke-width="0.75"/>
<line x1="146.15" y1="878.58" x2="148.75" y2="878.58" stroke="#333" stroke-width="0.75"/>
<line x1="146.15" y1="894.73" x2="148.75" y2="894.73" stroke="#333" stroke-width="0.75"/>
<text x="147.45" y="880.27" font-size="9.6" text-anchor="middle" fill="#555" dominant-baseline="auto" stroke="#555" stroke-width="0.2">*</text>
<line x1="145.6" y1="921.1" x2="145.6" y2="924.4" stroke="#555" stroke-width="0.9"/>
<text x="150.2" y="928.1" font-size="9" text-anchor="end" transform="rotate(-45 150.2 928.1)" dominant-baseline="auto" stroke="#1e1e1e" stroke-width="0.18">STAT4</text>
<rect x="153.1" y="899.57" width="3.7" height="21.53" fill="#5e8fa8"/>
<line x1="154.95" y1="896.34" x2="154.95" y2="902.8" stroke="#333" stroke-width="0.75"/>
<line x1="153.65" y1="896.34" x2="156.25" y2="896.34" stroke="#333" stroke-width="0.75"/>
<line x1="153.65" y1="902.8" x2="156.25" y2="902.8" stroke="#333" stroke-width="0.75"/>
<rect x="156.8" y="881.09" width="3.7" height="40.01" fill="#d08a65"/>
<line x1="158.65" y1="877.51" x2="158.65" y2="884.68" stroke="#333" stroke-width="0.75"/>
<line x1="157.35" y1="877.51" x2="159.95" y2="877.51" stroke="#333" stroke-width="0.75"/>
<line x1="157.35" y1="884.68" x2="159.95" y2="884.68" stroke="#333" stroke-width="0.75"/>
<text x="158.65" y="879.2" font-size="9.6" text-anchor="middle" fill="#555" dominant-baseline="auto" stroke="#555" stroke-width="0.2">*</text>
<text x="158.65" y="874.8" font-size="9.6" text-anchor="middle" fill="#555" dominant-baseline="auto" stroke="#555" stroke-width="0.2">*</text>
<line x1="156.8" y1="921.1" x2="156.8" y2="924.4" stroke="#555" stroke-width="0.9"/>
<text x="161.4" y="928.1" font-size="9" text-anchor="end" transform="rotate(-45 161.4 928.1)" dominant-baseline="auto" stroke="#1e1e1e" stroke-width="0.18">TGFBR</text>
<text x="164" y="820" font-size="9.5" dominant-baseline="central" stroke="#1e1e1e" stroke-width="0.18">L</text>
<line x1="199.4" y1="834.25" x2="199.4" y2="921.1" stroke="#444" stroke-width="0.9"/>
<line x1="196.9" y1="921.1" x2="199.4" y2="921.1" stroke="#444" stroke-width="0.9"/>
<text x="195.4" y="921.1" font-size="9.3" text-anchor="end" dominant-baseline="central" stroke="#1e1e1e" stroke-width="0.18">0.0</text>
<line x1="196.9" y1="892.15" x2="199.4" y2="892.15" stroke="#444" stroke-width="0.9"/>
<text x="195.4" y="892.15" font-size="9.3" text-anchor="end" dominant-baseline="central" stroke="#1e1e1e" stroke-width="0.18">0.5</text>
<line x1="196.9" y1="863.2" x2="199.4" y2="863.2" stroke="#444" stroke-width="0.9"/>
<text x="195.4" y="863.2" font-size="9.3" text-anchor="end" dominant-baseline="central" stroke="#1e1e1e" stroke-width="0.18">1.0</text>
<line x1="196.9" y1="834.25" x2="199.4" y2="834.25" stroke="#444" stroke-width="0.9"/>
<text x="195.4" y="834.25" font-size="9.3" text-anchor="end" dominant-baseline="central" stroke="#1e1e1e" stroke-width="0.18">1.5</text>
<text x="177.1" y="875.7" font-size="8.9" text-anchor="middle" transform="rotate(-90 177.1 875.7)" dominant-baseline="central" stroke="#1e1e1e" stroke-width="0.18">Relative level of mRNA</text>
<rect x="211.2" y="831.2" width="10.5" height="6.2" fill="#5e8fa8"/>
<text x="225.7" y="834.5" font-size="9.3" dominant-baseline="central" stroke="#1e1e1e" stroke-width="0.18">Vector</text>
<rect x="278.2" y="831.2" width="10.5" height="6.2" fill="#d08a65"/>
<text x="292.7" y="834.5" font-size="9.3" dominant-baseline="central" stroke="#1e1e1e" stroke-width="0.18">JAB1</text>
<line x1="199.4" y1="921.1" x2="328.2" y2="921.1" stroke="#555" stroke-width="0.9"/>
<rect x="201.3" y="860.88" width="4.2" height="60.22" fill="#5e8fa8"/>
<line x1="203.4" y1="859.15" x2="203.4" y2="862.62" stroke="#333" stroke-width="0.75"/>
<line x1="202.1" y1="859.15" x2="204.7" y2="859.15" stroke="#333" stroke-width="0.75"/>
<line x1="202.1" y1="862.62" x2="204.7" y2="862.62" stroke="#333" stroke-width="0.75"/>
<rect x="205.5" y="888.1" width="4.2" height="33" fill="#d08a65"/>
<line x1="207.6" y1="881.15" x2="207.6" y2="895.05" stroke="#333" stroke-width="0.75"/>
<line x1="206.3" y1="881.15" x2="208.9" y2="881.15" stroke="#333" stroke-width="0.75"/>
<line x1="206.3" y1="895.05" x2="208.9" y2="895.05" stroke="#333" stroke-width="0.75"/>
<text x="207.6" y="882.84" font-size="9.6" text-anchor="middle" fill="#555" dominant-baseline="auto" stroke="#555" stroke-width="0.2">*</text>
<line x1="205.5" y1="921.1" x2="205.5" y2="924.4" stroke="#555" stroke-width="0.9"/>
<text x="210.1" y="928.1" font-size="9" text-anchor="end" transform="rotate(-45 210.1 928.1)" dominant-baseline="auto" stroke="#1e1e1e" stroke-width="0.18">ACSL5</text>
<rect x="212.16" y="863.2" width="4.2" height="57.9" fill="#5e8fa8"/>
<line x1="214.26" y1="851.62" x2="214.26" y2="874.78" stroke="#333" stroke-width="0.75"/>
<line x1="212.96" y1="851.62" x2="215.56" y2="851.62" stroke="#333" stroke-width="0.75"/>
<line x1="212.96" y1="874.78" x2="215.56" y2="874.78" stroke="#333" stroke-width="0.75"/>
<rect x="216.36" y="888.68" width="4.2" height="32.42" fill="#d08a65"/>
<line x1="218.46" y1="877.1" x2="218.46" y2="900.26" stroke="#333" stroke-width="0.75"/>
<line x1="217.16" y1="877.1" x2="219.76" y2="877.1" stroke="#333" stroke-width="0.75"/>
<line x1="217.16" y1="900.26" x2="219.76" y2="900.26" stroke="#333" stroke-width="0.75"/>
<text x="218.46" y="878.79" font-size="9.6" text-anchor="middle" fill="#555" dominant-baseline="auto" stroke="#555" stroke-width="0.2">*</text>
<line x1="216.36" y1="921.1" x2="216.36" y2="924.4" stroke="#555" stroke-width="0.9"/>
<text x="220.96" y="928.1" font-size="9" text-anchor="end" transform="rotate(-45 220.96 928.1)" dominant-baseline="auto" stroke="#1e1e1e" stroke-width="0.18">ADCY9</text>
<rect x="223.02" y="863.2" width="4.2" height="57.9" fill="#5e8fa8"/>
<line x1="225.12" y1="860.88" x2="225.12" y2="865.52" stroke="#333" stroke-width="0.75"/>
<line x1="223.82" y1="860.88" x2="226.42" y2="860.88" stroke="#333" stroke-width="0.75"/>
<line x1="223.82" y1="865.52" x2="226.42" y2="865.52" stroke="#333" stroke-width="0.75"/>
<rect x="227.22" y="896.2" width="4.2" height="24.9" fill="#d08a65"/>
<line x1="229.32" y1="894.47" x2="229.32" y2="897.94" stroke="#333" stroke-width="0.75"/>
<line x1="228.02" y1="894.47" x2="230.62" y2="894.47" stroke="#333" stroke-width="0.75"/>
<line x1="228.02" y1="897.94" x2="230.62" y2="897.94" stroke="#333" stroke-width="0.75"/>
<text x="229.32" y="896.16" font-size="9.6" text-anchor="middle" fill="#555" dominant-baseline="auto" stroke="#555" stroke-width="0.2">*</text>
<text x="229.32" y="891.76" font-size="9.6" text-anchor="middle" fill="#555" dominant-baseline="auto" stroke="#555" stroke-width="0.2">*</text>
<line x1="227.22" y1="921.1" x2="227.22" y2="924.4" stroke="#555" stroke-width="0.9"/>
<text x="231.82" y="928.1" font-size="9" text-anchor="end" transform="rotate(-45 231.82 928.1)" dominant-baseline="auto" stroke="#1e1e1e" stroke-width="0.18">G0S2</text>
<rect x="233.88" y="862.04" width="4.2" height="59.06" fill="#5e8fa8"/>
<line x1="235.98" y1="860.88" x2="235.98" y2="863.2" stroke="#333" stroke-width="0.75"/>
<line x1="234.68" y1="860.88" x2="237.28" y2="860.88" stroke="#333" stroke-width="0.75"/>
<line x1="234.68" y1="863.2" x2="237.28" y2="863.2" stroke="#333" stroke-width="0.75"/>
<rect x="238.08" y="889.83" width="4.2" height="31.27" fill="#d08a65"/>
<line x1="240.18" y1="886.36" x2="240.18" y2="893.31" stroke="#333" stroke-width="0.75"/>
<line x1="238.88" y1="886.36" x2="241.48" y2="886.36" stroke="#333" stroke-width="0.75"/>
<line x1="238.88" y1="893.31" x2="241.48" y2="893.31" stroke="#333" stroke-width="0.75"/>
<text x="240.18" y="888.05" font-size="9.6" text-anchor="middle" fill="#555" dominant-baseline="auto" stroke="#555" stroke-width="0.2">*</text>
<line x1="238.08" y1="921.1" x2="238.08" y2="924.4" stroke="#555" stroke-width="0.9"/>
<text x="242.68" y="928.1" font-size="9" text-anchor="end" transform="rotate(-45 242.68 928.1)" dominant-baseline="auto" stroke="#1e1e1e" stroke-width="0.18">ITGB7</text>
<rect x="244.74" y="860.88" width="4.2" height="60.22" fill="#5e8fa8"/>
<line x1="246.84" y1="856.25" x2="246.84" y2="865.52" stroke="#333" stroke-width="0.75"/>
<line x1="245.54" y1="856.25" x2="248.14" y2="856.25" stroke="#333" stroke-width="0.75"/>
<line x1="245.54" y1="865.52" x2="248.14" y2="865.52" stroke="#333" stroke-width="0.75"/>
<rect x="248.94" y="884.04" width="4.2" height="37.06" fill="#d08a65"/>
<line x1="251.04" y1="875.36" x2="251.04" y2="892.73" stroke="#333" stroke-width="0.75"/>
<line x1="249.74" y1="875.36" x2="252.34" y2="875.36" stroke="#333" stroke-width="0.75"/>
<line x1="249.74" y1="892.73" x2="252.34" y2="892.73" stroke="#333" stroke-width="0.75"/>
<text x="251.04" y="877.05" font-size="9.6" text-anchor="middle" fill="#555" dominant-baseline="auto" stroke="#555" stroke-width="0.2">*</text>
<line x1="248.94" y1="921.1" x2="248.94" y2="924.4" stroke="#555" stroke-width="0.9"/>
<text x="253.54" y="928.1" font-size="9" text-anchor="end" transform="rotate(-45 253.54 928.1)" dominant-baseline="auto" stroke="#1e1e1e" stroke-width="0.18">NFKBIA</text>
<rect x="255.6" y="862.04" width="4.2" height="59.06" fill="#5e8fa8"/>
<line x1="257.7" y1="859.73" x2="257.7" y2="864.36" stroke="#333" stroke-width="0.75"/>
<line x1="256.4" y1="859.73" x2="259" y2="859.73" stroke="#333" stroke-width="0.75"/>
<line x1="256.4" y1="864.36" x2="259" y2="864.36" stroke="#333" stroke-width="0.75"/>
<rect x="259.8" y="886.94" width="4.2" height="34.16" fill="#d08a65"/>
<line x1="261.9" y1="881.15" x2="261.9" y2="892.73" stroke="#333" stroke-width="0.75"/>
<line x1="260.6" y1="881.15" x2="263.2" y2="881.15" stroke="#333" stroke-width="0.75"/>
<line x1="260.6" y1="892.73" x2="263.2" y2="892.73" stroke="#333" stroke-width="0.75"/>
<text x="261.9" y="882.84" font-size="9.6" text-anchor="middle" fill="#555" dominant-baseline="auto" stroke="#555" stroke-width="0.2">*</text>
<line x1="259.8" y1="921.1" x2="259.8" y2="924.4" stroke="#555" stroke-width="0.9"/>
<text x="264.4" y="928.1" font-size="9" text-anchor="end" transform="rotate(-45 264.4 928.1)" dominant-baseline="auto" stroke="#1e1e1e" stroke-width="0.18">NOD2</text>
<rect x="266.46" y="865.52" width="4.2" height="55.58" fill="#5e8fa8"/>
<line x1="268.56" y1="859.15" x2="268.56" y2="871.88" stroke="#333" stroke-width="0.75"/>
<line x1="267.26" y1="859.15" x2="269.86" y2="859.15" stroke="#333" stroke-width="0.75"/>
<line x1="267.26" y1="871.88" x2="269.86" y2="871.88" stroke="#333" stroke-width="0.75"/>
<rect x="270.66" y="910.68" width="4.2" height="10.42" fill="#d08a65"/>
<line x1="272.76" y1="907.78" x2="272.76" y2="913.57" stroke="#333" stroke-width="0.75"/>
<line x1="271.46" y1="907.78" x2="274.06" y2="907.78" stroke="#333" stroke-width="0.75"/>
<line x1="271.46" y1="913.57" x2="274.06" y2="913.57" stroke="#333" stroke-width="0.75"/>
<text x="272.76" y="909.48" font-size="9.6" text-anchor="middle" fill="#555" dominant-baseline="auto" stroke="#555" stroke-width="0.2">*</text>
<text x="272.76" y="905.08" font-size="9.6" text-anchor="middle" fill="#555" dominant-baseline="auto" stroke="#555" stroke-width="0.2">*</text>
<text x="272.76" y="900.68" font-size="9.6" text-anchor="middle" fill="#555" dominant-baseline="auto" stroke="#555" stroke-width="0.2">*</text>
<line x1="270.66" y1="921.1" x2="270.66" y2="924.4" stroke="#555" stroke-width="0.9"/>
<text x="275.26" y="928.1" font-size="9" text-anchor="end" transform="rotate(-45 275.26 928.1)" dominant-baseline="auto" stroke="#1e1e1e" stroke-width="0.18">PPARA</text>
<rect x="277.32" y="863.78" width="4.2" height="57.32" fill="#5e8fa8"/>
<line x1="279.42" y1="859.15" x2="279.42" y2="868.41" stroke="#333" stroke-width="0.75"/>
<line x1="278.12" y1="859.15" x2="280.72" y2="859.15" stroke="#333" stroke-width="0.75"/>
<line x1="278.12" y1="868.41" x2="280.72" y2="868.41" stroke="#333" stroke-width="0.75"/>
<rect x="281.52" y="885.78" width="4.2" height="35.32" fill="#d08a65"/>
<line x1="283.62" y1="877.1" x2="283.62" y2="894.47" stroke="#333" stroke-width="0.75"/>
<line x1="282.32" y1="877.1" x2="284.92" y2="877.1" stroke="#333" stroke-width="0.75"/>
<line x1="282.32" y1="894.47" x2="284.92" y2="894.47" stroke="#333" stroke-width="0.75"/>
<text x="283.62" y="878.79" font-size="9.6" text-anchor="middle" fill="#555" dominant-baseline="auto" stroke="#555" stroke-width="0.2">*</text>
<line x1="281.52" y1="921.1" x2="281.52" y2="924.4" stroke="#555" stroke-width="0.9"/>
<text x="286.12" y="928.1" font-size="9" text-anchor="end" transform="rotate(-45 286.12 928.1)" dominant-baseline="auto" stroke="#1e1e1e" stroke-width="0.18">PPARG</text>
<rect x="288.18" y="862.04" width="4.2" height="59.06" fill="#5e8fa8"/>
<line x1="290.28" y1="859.15" x2="290.28" y2="864.94" stroke="#333" stroke-width="0.75"/>
<line x1="288.98" y1="859.15" x2="291.58" y2="859.15" stroke="#333" stroke-width="0.75"/>
<line x1="288.98" y1="864.94" x2="291.58" y2="864.94" stroke="#333" stroke-width="0.75"/>
<rect x="292.38" y="890.99" width="4.2" height="30.11" fill="#d08a65"/>
<line x1="294.48" y1="885.2" x2="294.48" y2="896.78" stroke="#333" stroke-width="0.75"/>
<line x1="293.18" y1="885.2" x2="295.78" y2="885.2" stroke="#333" stroke-width="0.75"/>
<line x1="293.18" y1="896.78" x2="295.78" y2="896.78" stroke="#333" stroke-width="0.75"/>
<text x="294.48" y="886.89" font-size="9.6" text-anchor="middle" fill="#555" dominant-baseline="auto" stroke="#555" stroke-width="0.2">*</text>
<line x1="292.38" y1="921.1" x2="292.38" y2="924.4" stroke="#555" stroke-width="0.9"/>
<text x="296.98" y="928.1" font-size="9" text-anchor="end" transform="rotate(-45 296.98 928.1)" dominant-baseline="auto" stroke="#1e1e1e" stroke-width="0.18">RBL1</text>
<rect x="299.04" y="862.04" width="4.2" height="59.06" fill="#5e8fa8"/>
<line x1="301.14" y1="857.41" x2="301.14" y2="866.67" stroke="#333" stroke-width="0.75"/>
<line x1="299.84" y1="857.41" x2="302.44" y2="857.41" stroke="#333" stroke-width="0.75"/>
<line x1="299.84" y1="866.67" x2="302.44" y2="866.67" stroke="#333" stroke-width="0.75"/>
<rect x="303.24" y="885.78" width="4.2" height="35.32" fill="#d08a65"/>
<line x1="305.34" y1="882.89" x2="305.34" y2="888.68" stroke="#333" stroke-width="0.75"/>
<line x1="304.04" y1="882.89" x2="306.64" y2="882.89" stroke="#333" stroke-width="0.75"/>
<line x1="304.04" y1="888.68" x2="306.64" y2="888.68" stroke="#333" stroke-width="0.75"/>
<text x="305.34" y="884.58" font-size="9.6" text-anchor="middle" fill="#555" dominant-baseline="auto" stroke="#555" stroke-width="0.2">*</text>
<line x1="303.24" y1="921.1" x2="303.24" y2="924.4" stroke="#555" stroke-width="0.9"/>
<text x="307.84" y="928.1" font-size="9" text-anchor="end" transform="rotate(-45 307.84 928.1)" dominant-baseline="auto" stroke="#1e1e1e" stroke-width="0.18">RAP1GAP</text>
<rect x="309.9" y="863.2" width="4.2" height="57.9" fill="#5e8fa8"/>
<line x1="312" y1="857.41" x2="312" y2="868.99" stroke="#333" stroke-width="0.75"/>
<line x1="310.7" y1="857.41" x2="313.3" y2="857.41" stroke="#333" stroke-width="0.75"/>
<line x1="310.7" y1="868.99" x2="313.3" y2="868.99" stroke="#333" stroke-width="0.75"/>
<rect x="314.1" y="882.89" width="4.2" height="38.21" fill="#d08a65"/>
<line x1="316.2" y1="879.99" x2="316.2" y2="885.78" stroke="#333" stroke-width="0.75"/>
<line x1="314.9" y1="879.99" x2="317.5" y2="879.99" stroke="#333" stroke-width="0.75"/>
<line x1="314.9" y1="885.78" x2="317.5" y2="885.78" stroke="#333" stroke-width="0.75"/>
<text x="316.2" y="881.68" font-size="9.6" text-anchor="middle" fill="#555" dominant-baseline="auto" stroke="#555" stroke-width="0.2">*</text>
<line x1="314.1" y1="921.1" x2="314.1" y2="924.4" stroke="#555" stroke-width="0.9"/>
<text x="318.7" y="928.1" font-size="9" text-anchor="end" transform="rotate(-45 318.7 928.1)" dominant-baseline="auto" stroke="#1e1e1e" stroke-width="0.18">SLC27A5</text>
<rect x="320.76" y="862.04" width="4.2" height="59.06" fill="#5e8fa8"/>
<line x1="322.86" y1="855.09" x2="322.86" y2="868.99" stroke="#333" stroke-width="0.75"/>
<line x1="321.56" y1="855.09" x2="324.16" y2="855.09" stroke="#333" stroke-width="0.75"/>
<line x1="321.56" y1="868.99" x2="324.16" y2="868.99" stroke="#333" stroke-width="0.75"/>
<rect x="324.96" y="890.99" width="4.2" height="30.11" fill="#d08a65"/>
<line x1="327.06" y1="884.04" x2="327.06" y2="897.94" stroke="#333" stroke-width="0.75"/>
<line x1="325.76" y1="884.04" x2="328.36" y2="884.04" stroke="#333" stroke-width="0.75"/>
<line x1="325.76" y1="897.94" x2="328.36" y2="897.94" stroke="#333" stroke-width="0.75"/>
<text x="327.06" y="885.74" font-size="9.6" text-anchor="middle" fill="#555" dominant-baseline="auto" stroke="#555" stroke-width="0.2">*</text>
<line x1="324.96" y1="921.1" x2="324.96" y2="924.4" stroke="#555" stroke-width="0.9"/>
<text x="329.56" y="928.1" font-size="9" text-anchor="end" transform="rotate(-45 329.56 928.1)" dominant-baseline="auto" stroke="#1e1e1e" stroke-width="0.18">TRAF3IP2</text>
<text x="331.4" y="818.8" font-size="9.5" dominant-baseline="central" stroke="#1e1e1e" stroke-width="0.18">M</text>
<line x1="370.7" y1="831.1" x2="370.7" y2="921.1" stroke="#444" stroke-width="0.9"/>
<line x1="368.2" y1="921.1" x2="370.7" y2="921.1" stroke="#444" stroke-width="0.9"/>
<text x="366.7" y="921.1" font-size="9.3" text-anchor="end" dominant-baseline="central" stroke="#1e1e1e" stroke-width="0.18">0.0</text>
<line x1="368.2" y1="898.6" x2="370.7" y2="898.6" stroke="#444" stroke-width="0.9"/>
<text x="366.7" y="898.6" font-size="9.3" text-anchor="end" dominant-baseline="central" stroke="#1e1e1e" stroke-width="0.18">0.5</text>
<line x1="368.2" y1="876.1" x2="370.7" y2="876.1" stroke="#444" stroke-width="0.9"/>
<text x="366.7" y="876.1" font-size="9.3" text-anchor="end" dominant-baseline="central" stroke="#1e1e1e" stroke-width="0.18">1.0</text>
<line x1="368.2" y1="853.6" x2="370.7" y2="853.6" stroke="#444" stroke-width="0.9"/>
<text x="366.7" y="853.6" font-size="9.3" text-anchor="end" dominant-baseline="central" stroke="#1e1e1e" stroke-width="0.18">1.5</text>
<line x1="368.2" y1="831.1" x2="370.7" y2="831.1" stroke="#444" stroke-width="0.9"/>
<text x="366.7" y="831.1" font-size="9.3" text-anchor="end" dominant-baseline="central" stroke="#1e1e1e" stroke-width="0.18">2.0</text>
<text x="347.1" y="875.7" font-size="8.9" text-anchor="middle" transform="rotate(-90 347.1 875.7)" dominant-baseline="central" stroke="#1e1e1e" stroke-width="0.18">Relative level of mRNA</text>
<rect x="381.2" y="831.2" width="10.5" height="6.2" fill="#5e8fa8"/>
<text x="397" y="834.5" font-size="9.3" dominant-baseline="central" stroke="#1e1e1e" stroke-width="0.18">shSCR</text>
<rect x="446.9" y="831.2" width="10.5" height="6.2" fill="#d08a65"/>
<text x="461.4" y="834.5" font-size="9.3" dominant-baseline="central" stroke="#1e1e1e" stroke-width="0.18">shJAB1#2</text>
<line x1="370.7" y1="921.1" x2="504.2" y2="921.1" stroke="#555" stroke-width="0.9"/>
<rect x="372.8" y="873.85" width="4.3" height="47.25" fill="#5e8fa8"/>
<line x1="374.95" y1="866.2" x2="374.95" y2="881.5" stroke="#333" stroke-width="0.75"/>
<line x1="373.65" y1="866.2" x2="376.25" y2="866.2" stroke="#333" stroke-width="0.75"/>
<line x1="373.65" y1="881.5" x2="376.25" y2="881.5" stroke="#333" stroke-width="0.75"/>
<rect x="377.1" y="898.6" width="4.3" height="22.5" fill="#d08a65"/>
<line x1="379.25" y1="894.1" x2="379.25" y2="903.1" stroke="#333" stroke-width="0.75"/>
<line x1="377.95" y1="894.1" x2="380.55" y2="894.1" stroke="#333" stroke-width="0.75"/>
<line x1="377.95" y1="903.1" x2="380.55" y2="903.1" stroke="#333" stroke-width="0.75"/>
<text x="379.25" y="895.79" font-size="9.6" text-anchor="middle" fill="#555" dominant-baseline="auto" stroke="#555" stroke-width="0.2">*</text>
<line x1="377.1" y1="921.1" x2="377.1" y2="924.4" stroke="#555" stroke-width="0.9"/>
<text x="381.7" y="928.1" font-size="9" text-anchor="end" transform="rotate(-45 381.7 928.1)" dominant-baseline="auto" stroke="#1e1e1e" stroke-width="0.18">BMP4</text>
<rect x="384" y="876.55" width="4.3" height="44.55" fill="#5e8fa8"/>
<line x1="386.15" y1="875.65" x2="386.15" y2="877.45" stroke="#333" stroke-width="0.75"/>
<line x1="384.85" y1="875.65" x2="387.45" y2="875.65" stroke="#333" stroke-width="0.75"/>
<line x1="384.85" y1="877.45" x2="387.45" y2="877.45" stroke="#333" stroke-width="0.75"/>
<rect x="388.3" y="897.25" width="4.3" height="23.85" fill="#d08a65"/>
<line x1="390.45" y1="893.65" x2="390.45" y2="900.85" stroke="#333" stroke-width="0.75"/>
<line x1="389.15" y1="893.65" x2="391.75" y2="893.65" stroke="#333" stroke-width="0.75"/>
<line x1="389.15" y1="900.85" x2="391.75" y2="900.85" stroke="#333" stroke-width="0.75"/>
<text x="390.45" y="895.34" font-size="9.6" text-anchor="middle" fill="#555" dominant-baseline="auto" stroke="#555" stroke-width="0.2">*</text>
<line x1="388.3" y1="921.1" x2="388.3" y2="924.4" stroke="#555" stroke-width="0.9"/>
<text x="392.9" y="928.1" font-size="9" text-anchor="end" transform="rotate(-45 392.9 928.1)" dominant-baseline="auto" stroke="#1e1e1e" stroke-width="0.18">CSF2</text>
<rect x="395.2" y="875.65" width="4.3" height="45.45" fill="#5e8fa8"/>
<line x1="397.35" y1="875.2" x2="397.35" y2="876.1" stroke="#333" stroke-width="0.75"/>
<line x1="396.05" y1="875.2" x2="398.65" y2="875.2" stroke="#333" stroke-width="0.75"/>
<line x1="396.05" y1="876.1" x2="398.65" y2="876.1" stroke="#333" stroke-width="0.75"/>
<rect x="399.5" y="901.3" width="4.3" height="19.8" fill="#d08a65"/>
<line x1="401.65" y1="896.8" x2="401.65" y2="905.8" stroke="#333" stroke-width="0.75"/>
<line x1="400.35" y1="896.8" x2="402.95" y2="896.8" stroke="#333" stroke-width="0.75"/>
<line x1="400.35" y1="905.8" x2="402.95" y2="905.8" stroke="#333" stroke-width="0.75"/>
<text x="401.65" y="898.49" font-size="9.6" text-anchor="middle" fill="#555" dominant-baseline="auto" stroke="#555" stroke-width="0.2">*</text>
<line x1="399.5" y1="921.1" x2="399.5" y2="924.4" stroke="#555" stroke-width="0.9"/>
<text x="404.1" y="928.1" font-size="9" text-anchor="end" transform="rotate(-45 404.1 928.1)" dominant-baseline="auto" stroke="#1e1e1e" stroke-width="0.18">ERBB3</text>
<rect x="406.4" y="875.2" width="4.3" height="45.9" fill="#5e8fa8"/>
<line x1="408.55" y1="874.75" x2="408.55" y2="875.65" stroke="#333" stroke-width="0.75"/>
<line x1="407.25" y1="874.75" x2="409.85" y2="874.75" stroke="#333" stroke-width="0.75"/>
<line x1="407.25" y1="875.65" x2="409.85" y2="875.65" stroke="#333" stroke-width="0.75"/>
<rect x="410.7" y="894.55" width="4.3" height="26.55" fill="#d08a65"/>
<line x1="412.85" y1="887.8" x2="412.85" y2="901.3" stroke="#333" stroke-width="0.75"/>
<line x1="411.55" y1="887.8" x2="414.15" y2="887.8" stroke="#333" stroke-width="0.75"/>
<line x1="411.55" y1="901.3" x2="414.15" y2="901.3" stroke="#333" stroke-width="0.75"/>
<text x="412.85" y="889.49" font-size="9.6" text-anchor="middle" fill="#555" dominant-baseline="auto" stroke="#555" stroke-width="0.2">*</text>
<line x1="410.7" y1="921.1" x2="410.7" y2="924.4" stroke="#555" stroke-width="0.9"/>
<text x="415.3" y="928.1" font-size="9" text-anchor="end" transform="rotate(-45 415.3 928.1)" dominant-baseline="auto" stroke="#1e1e1e" stroke-width="0.18">EP300</text>
<rect x="417.6" y="874.3" width="4.3" height="46.8" fill="#5e8fa8"/>
<line x1="419.75" y1="872.05" x2="419.75" y2="876.55" stroke="#333" stroke-width="0.75"/>
<line x1="418.45" y1="872.05" x2="421.05" y2="872.05" stroke="#333" stroke-width="0.75"/>
<line x1="418.45" y1="876.55" x2="421.05" y2="876.55" stroke="#333" stroke-width="0.75"/>
<rect x="421.9" y="905.35" width="4.3" height="15.75" fill="#d08a65"/>
<line x1="424.05" y1="902.65" x2="424.05" y2="908.05" stroke="#333" stroke-width="0.75"/>
<line x1="422.75" y1="902.65" x2="425.35" y2="902.65" stroke="#333" stroke-width="0.75"/>
<line x1="422.75" y1="908.05" x2="425.35" y2="908.05" stroke="#333" stroke-width="0.75"/>
<text x="424.05" y="904.34" font-size="9.6" text-anchor="middle" fill="#555" dominant-baseline="auto" stroke="#555" stroke-width="0.2">*</text>
<line x1="421.9" y1="921.1" x2="421.9" y2="924.4" stroke="#555" stroke-width="0.9"/>
<text x="426.5" y="928.1" font-size="9" text-anchor="end" transform="rotate(-45 426.5 928.1)" dominant-baseline="auto" stroke="#1e1e1e" stroke-width="0.18">IL1B</text>
<rect x="428.8" y="875.2" width="4.3" height="45.9" fill="#5e8fa8"/>
<line x1="430.95" y1="872.95" x2="430.95" y2="877.45" stroke="#333" stroke-width="0.75"/>
<line x1="429.65" y1="872.95" x2="432.25" y2="872.95" stroke="#333" stroke-width="0.75"/>
<line x1="429.65" y1="877.45" x2="432.25" y2="877.45" stroke="#333" stroke-width="0.75"/>
<rect x="433.1" y="897.7" width="4.3" height="23.4" fill="#d08a65"/>
<line x1="435.25" y1="879.7" x2="435.25" y2="915.7" stroke="#333" stroke-width="0.75"/>
<line x1="433.95" y1="879.7" x2="436.55" y2="879.7" stroke="#333" stroke-width="0.75"/>
<line x1="433.95" y1="915.7" x2="436.55" y2="915.7" stroke="#333" stroke-width="0.75"/>
<text x="435.25" y="881.39" font-size="9.6" text-anchor="middle" fill="#555" dominant-baseline="auto" stroke="#555" stroke-width="0.2">*</text>
<line x1="433.1" y1="921.1" x2="433.1" y2="924.4" stroke="#555" stroke-width="0.9"/>
<text x="437.7" y="928.1" font-size="9" text-anchor="end" transform="rotate(-45 437.7 928.1)" dominant-baseline="auto" stroke="#1e1e1e" stroke-width="0.18">IRS2</text>
<rect x="440" y="876.1" width="4.3" height="45" fill="#5e8fa8"/>
<line x1="442.15" y1="875.65" x2="442.15" y2="876.55" stroke="#333" stroke-width="0.75"/>
<line x1="440.85" y1="875.65" x2="443.45" y2="875.65" stroke="#333" stroke-width="0.75"/>
<line x1="440.85" y1="876.55" x2="443.45" y2="876.55" stroke="#333" stroke-width="0.75"/>
<rect x="444.3" y="910.75" width="4.3" height="10.35" fill="#d08a65"/>
<line x1="446.45" y1="909.4" x2="446.45" y2="912.1" stroke="#333" stroke-width="0.75"/>
<line x1="445.15" y1="909.4" x2="447.75" y2="909.4" stroke="#333" stroke-width="0.75"/>
<line x1="445.15" y1="912.1" x2="447.75" y2="912.1" stroke="#333" stroke-width="0.75"/>
<text x="446.45" y="911.09" font-size="9.6" text-anchor="middle" fill="#555" dominant-baseline="auto" stroke="#555" stroke-width="0.2">*</text>
<text x="446.45" y="906.69" font-size="9.6" text-anchor="middle" fill="#555" dominant-baseline="auto" stroke="#555" stroke-width="0.2">*</text>
<text x="446.45" y="902.29" font-size="9.6" text-anchor="middle" fill="#555" dominant-baseline="auto" stroke="#555" stroke-width="0.2">*</text>
<line x1="444.3" y1="921.1" x2="444.3" y2="924.4" stroke="#555" stroke-width="0.9"/>
<text x="448.9" y="928.1" font-size="9" text-anchor="end" transform="rotate(-45 448.9 928.1)" dominant-baseline="auto" stroke="#1e1e1e" stroke-width="0.18">MAP2K6</text>
<rect x="451.2" y="876.55" width="4.3" height="44.55" fill="#5e8fa8"/>
<line x1="453.35" y1="875.65" x2="453.35" y2="877.45" stroke="#333" stroke-width="0.75"/>
<line x1="452.05" y1="875.65" x2="454.65" y2="875.65" stroke="#333" stroke-width="0.75"/>
<line x1="452.05" y1="877.45" x2="454.65" y2="877.45" stroke="#333" stroke-width="0.75"/>
<rect x="455.5" y="914.35" width="4.3" height="6.75" fill="#d08a65"/>
<line x1="457.65" y1="913.45" x2="457.65" y2="915.25" stroke="#333" stroke-width="0.75"/>
<line x1="456.35" y1="913.45" x2="458.95" y2="913.45" stroke="#333" stroke-width="0.75"/>
<line x1="456.35" y1="915.25" x2="458.95" y2="915.25" stroke="#333" stroke-width="0.75"/>
<text x="457.65" y="915.14" font-size="9.6" text-anchor="middle" fill="#555" dominant-baseline="auto" stroke="#555" stroke-width="0.2">*</text>
<text x="457.65" y="910.74" font-size="9.6" text-anchor="middle" fill="#555" dominant-baseline="auto" stroke="#555" stroke-width="0.2">*</text>
<text x="457.65" y="906.34" font-size="9.6" text-anchor="middle" fill="#555" dominant-baseline="auto" stroke="#555" stroke-width="0.2">*</text>
<line x1="455.5" y1="921.1" x2="455.5" y2="924.4" stroke="#555" stroke-width="0.9"/>
<text x="460.1" y="928.1" font-size="9" text-anchor="end" transform="rotate(-45 460.1 928.1)" dominant-baseline="auto" stroke="#1e1e1e" stroke-width="0.18">SLC2A4</text>
<rect x="462.4" y="872.95" width="4.3" height="48.15" fill="#5e8fa8"/>
<line x1="464.55" y1="862.6" x2="464.55" y2="883.3" stroke="#333" stroke-width="0.75"/>
<line x1="463.25" y1="862.6" x2="465.85" y2="862.6" stroke="#333" stroke-width="0.75"/>
<line x1="463.25" y1="883.3" x2="465.85" y2="883.3" stroke="#333" stroke-width="0.75"/>
<rect x="466.7" y="891.4" width="4.3" height="29.7" fill="#d08a65"/>
<line x1="468.85" y1="882.4" x2="468.85" y2="900.4" stroke="#333" stroke-width="0.75"/>
<line x1="467.55" y1="882.4" x2="470.15" y2="882.4" stroke="#333" stroke-width="0.75"/>
<line x1="467.55" y1="900.4" x2="470.15" y2="900.4" stroke="#333" stroke-width="0.75"/>
<text x="468.85" y="884.09" font-size="9.6" text-anchor="middle" fill="#555" dominant-baseline="auto" stroke="#555" stroke-width="0.2">*</text>
<line x1="466.7" y1="921.1" x2="466.7" y2="924.4" stroke="#555" stroke-width="0.9"/>
<text x="471.3" y="928.1" font-size="9" text-anchor="end" transform="rotate(-45 471.3 928.1)" dominant-baseline="auto" stroke="#1e1e1e" stroke-width="0.18">SOCS1</text>
<rect x="473.6" y="872.95" width="4.3" height="48.15" fill="#5e8fa8"/>
<line x1="475.75" y1="869.8" x2="475.75" y2="876.1" stroke="#333" stroke-width="0.75"/>
<line x1="474.45" y1="869.8" x2="477.05" y2="869.8" stroke="#333" stroke-width="0.75"/>
<line x1="474.45" y1="876.1" x2="477.05" y2="876.1" stroke="#333" stroke-width="0.75"/>
<rect x="477.9" y="899.95" width="4.3" height="21.15" fill="#d08a65"/>
<line x1="480.05" y1="885.55" x2="480.05" y2="914.35" stroke="#333" stroke-width="0.75"/>
<line x1="478.75" y1="885.55" x2="481.35" y2="885.55" stroke="#333" stroke-width="0.75"/>
<line x1="478.75" y1="914.35" x2="481.35" y2="914.35" stroke="#333" stroke-width="0.75"/>
<text x="480.05" y="887.24" font-size="9.6" text-anchor="middle" fill="#555" dominant-baseline="auto" stroke="#555" stroke-width="0.2">*</text>
<line x1="477.9" y1="921.1" x2="477.9" y2="924.4" stroke="#555" stroke-width="0.9"/>
<text x="482.5" y="928.1" font-size="9" text-anchor="end" transform="rotate(-45 482.5 928.1)" dominant-baseline="auto" stroke="#1e1e1e" stroke-width="0.18">STAT2</text>
<rect x="484.8" y="876.55" width="4.3" height="44.55" fill="#5e8fa8"/>
<line x1="486.95" y1="871.15" x2="486.95" y2="881.95" stroke="#333" stroke-width="0.75"/>
<line x1="485.65" y1="871.15" x2="488.25" y2="871.15" stroke="#333" stroke-width="0.75"/>
<line x1="485.65" y1="881.95" x2="488.25" y2="881.95" stroke="#333" stroke-width="0.75"/>
<rect x="489.1" y="892.3" width="4.3" height="28.8" fill="#d08a65"/>
<line x1="491.25" y1="875.2" x2="491.25" y2="909.4" stroke="#333" stroke-width="0.75"/>
<line x1="489.95" y1="875.2" x2="492.55" y2="875.2" stroke="#333" stroke-width="0.75"/>
<line x1="489.95" y1="909.4" x2="492.55" y2="909.4" stroke="#333" stroke-width="0.75"/>
<text x="491.25" y="876.89" font-size="9.6" text-anchor="middle" fill="#555" dominant-baseline="auto" stroke="#555" stroke-width="0.2">*</text>
<line x1="489.1" y1="921.1" x2="489.1" y2="924.4" stroke="#555" stroke-width="0.9"/>
<text x="493.7" y="928.1" font-size="9" text-anchor="end" transform="rotate(-45 493.7 928.1)" dominant-baseline="auto" stroke="#1e1e1e" stroke-width="0.18">STAT4</text>
<rect x="496" y="877" width="4.3" height="44.1" fill="#5e8fa8"/>
<line x1="498.15" y1="874.3" x2="498.15" y2="879.7" stroke="#333" stroke-width="0.75"/>
<line x1="496.85" y1="874.3" x2="499.45" y2="874.3" stroke="#333" stroke-width="0.75"/>
<line x1="496.85" y1="879.7" x2="499.45" y2="879.7" stroke="#333" stroke-width="0.75"/>
<rect x="500.3" y="906.25" width="4.3" height="14.85" fill="#d08a65"/>
<line x1="502.45" y1="899.05" x2="502.45" y2="913.45" stroke="#333" stroke-width="0.75"/>
<line x1="501.15" y1="899.05" x2="503.75" y2="899.05" stroke="#333" stroke-width="0.75"/>
<line x1="501.15" y1="913.45" x2="503.75" y2="913.45" stroke="#333" stroke-width="0.75"/>
<text x="502.45" y="900.74" font-size="9.6" text-anchor="middle" fill="#555" dominant-baseline="auto" stroke="#555" stroke-width="0.2">*</text>
<text x="502.45" y="896.34" font-size="9.6" text-anchor="middle" fill="#555" dominant-baseline="auto" stroke="#555" stroke-width="0.2">*</text>
<line x1="500.3" y1="921.1" x2="500.3" y2="924.4" stroke="#555" stroke-width="0.9"/>
<text x="504.9" y="928.1" font-size="9" text-anchor="end" transform="rotate(-45 504.9 928.1)" dominant-baseline="auto" stroke="#1e1e1e" stroke-width="0.18">TGFBR</text>
<text x="514.7" y="819.2" font-size="9.5" dominant-baseline="central" stroke="#1e1e1e" stroke-width="0.18">N</text>
<line x1="543.9" y1="834.2" x2="543.9" y2="921.1" stroke="#444" stroke-width="0.9"/>
<line x1="541.4" y1="921.1" x2="543.9" y2="921.1" stroke="#444" stroke-width="0.9"/>
<text x="539.9" y="921.1" font-size="9.3" text-anchor="end" dominant-baseline="central" stroke="#1e1e1e" stroke-width="0.18">0</text>
<line x1="541.4" y1="903.72" x2="543.9" y2="903.72" stroke="#444" stroke-width="0.9"/>
<text x="539.9" y="903.72" font-size="9.3" text-anchor="end" dominant-baseline="central" stroke="#1e1e1e" stroke-width="0.18">2</text>
<line x1="541.4" y1="886.34" x2="543.9" y2="886.34" stroke="#444" stroke-width="0.9"/>
<text x="539.9" y="886.34" font-size="9.3" text-anchor="end" dominant-baseline="central" stroke="#1e1e1e" stroke-width="0.18">4</text>
<line x1="541.4" y1="868.96" x2="543.9" y2="868.96" stroke="#444" stroke-width="0.9"/>
<text x="539.9" y="868.96" font-size="9.3" text-anchor="end" dominant-baseline="central" stroke="#1e1e1e" stroke-width="0.18">6</text>
<line x1="541.4" y1="851.58" x2="543.9" y2="851.58" stroke="#444" stroke-width="0.9"/>
<text x="539.9" y="851.58" font-size="9.3" text-anchor="end" dominant-baseline="central" stroke="#1e1e1e" stroke-width="0.18">8</text>
<line x1="541.4" y1="834.2" x2="543.9" y2="834.2" stroke="#444" stroke-width="0.9"/>
<text x="539.9" y="834.2" font-size="9.3" text-anchor="end" dominant-baseline="central" stroke="#1e1e1e" stroke-width="0.18">10</text>
<text x="522.1" y="875.7" font-size="8.9" text-anchor="middle" transform="rotate(-90 522.1 875.7)" dominant-baseline="central" stroke="#1e1e1e" stroke-width="0.18">Relative level of mRNA</text>
<rect x="556.8" y="831.2" width="10.5" height="6.2" fill="#5e8fa8"/>
<text x="572" y="834.5" font-size="9.3" dominant-baseline="central" stroke="#1e1e1e" stroke-width="0.18">shSCR</text>
<rect x="623.2" y="831.2" width="10.5" height="6.2" fill="#d08a65"/>
<text x="637.7" y="834.5" font-size="9.3" dominant-baseline="central" stroke="#1e1e1e" stroke-width="0.18">shJAB1#2</text>
<line x1="543.9" y1="921.1" x2="673.2" y2="921.1" stroke="#555" stroke-width="0.9"/>
<rect x="545.2" y="912.41" width="4.2" height="8.69" fill="#5e8fa8"/>
<line x1="547.3" y1="911.98" x2="547.3" y2="912.84" stroke="#333" stroke-width="0.75"/>
<line x1="546" y1="911.98" x2="548.6" y2="911.98" stroke="#333" stroke-width="0.75"/>
<line x1="546" y1="912.84" x2="548.6" y2="912.84" stroke="#333" stroke-width="0.75"/>
<rect x="549.4" y="855.06" width="4.2" height="66.04" fill="#d08a65"/>
<line x1="551.5" y1="850.71" x2="551.5" y2="859.4" stroke="#333" stroke-width="0.75"/>
<line x1="550.2" y1="850.71" x2="552.8" y2="850.71" stroke="#333" stroke-width="0.75"/>
<line x1="550.2" y1="859.4" x2="552.8" y2="859.4" stroke="#333" stroke-width="0.75"/>
<text x="551.5" y="852.4" font-size="9.6" text-anchor="middle" fill="#555" dominant-baseline="auto" stroke="#555" stroke-width="0.2">*</text>
<text x="551.5" y="848" font-size="9.6" text-anchor="middle" fill="#555" dominant-baseline="auto" stroke="#555" stroke-width="0.2">*</text>
<text x="551.5" y="843.6" font-size="9.6" text-anchor="middle" fill="#555" dominant-baseline="auto" stroke="#555" stroke-width="0.2">*</text>
<line x1="549.4" y1="921.1" x2="549.4" y2="924.4" stroke="#555" stroke-width="0.9"/>
<text x="554" y="928.1" font-size="9" text-anchor="end" transform="rotate(-45 554 928.1)" dominant-baseline="auto" stroke="#1e1e1e" stroke-width="0.18">ACSL5</text>
<rect x="556" y="912.24" width="4.2" height="8.86" fill="#5e8fa8"/>
<line x1="558.1" y1="911.8" x2="558.1" y2="912.67" stroke="#333" stroke-width="0.75"/>
<line x1="556.8" y1="911.8" x2="559.4" y2="911.8" stroke="#333" stroke-width="0.75"/>
<line x1="556.8" y1="912.67" x2="559.4" y2="912.67" stroke="#333" stroke-width="0.75"/>
<rect x="560.2" y="883.3" width="4.2" height="37.8" fill="#d08a65"/>
<line x1="562.3" y1="868.53" x2="562.3" y2="898.07" stroke="#333" stroke-width="0.75"/>
<line x1="561" y1="868.53" x2="563.6" y2="868.53" stroke="#333" stroke-width="0.75"/>
<line x1="561" y1="898.07" x2="563.6" y2="898.07" stroke="#333" stroke-width="0.75"/>
<text x="562.3" y="870.22" font-size="9.6" text-anchor="middle" fill="#555" dominant-baseline="auto" stroke="#555" stroke-width="0.2">*</text>
<text x="562.3" y="865.82" font-size="9.6" text-anchor="middle" fill="#555" dominant-baseline="auto" stroke="#555" stroke-width="0.2">*</text>
<text x="562.3" y="861.42" font-size="9.6" text-anchor="middle" fill="#555" dominant-baseline="auto" stroke="#555" stroke-width="0.2">*</text>
<line x1="560.2" y1="921.1" x2="560.2" y2="924.4" stroke="#555" stroke-width="0.9"/>
<text x="564.8" y="928.1" font-size="9" text-anchor="end" transform="rotate(-45 564.8 928.1)" dominant-baseline="auto" stroke="#1e1e1e" stroke-width="0.18">ADCY9</text>
<rect x="566.8" y="912.41" width="4.2" height="8.69" fill="#5e8fa8"/>
<line x1="568.9" y1="912.15" x2="568.9" y2="912.67" stroke="#333" stroke-width="0.75"/>
<line x1="567.6" y1="912.15" x2="570.2" y2="912.15" stroke="#333" stroke-width="0.75"/>
<line x1="567.6" y1="912.67" x2="570.2" y2="912.67" stroke="#333" stroke-width="0.75"/>
<rect x="571" y="885.04" width="4.2" height="36.06" fill="#d08a65"/>
<line x1="573.1" y1="875.48" x2="573.1" y2="894.6" stroke="#333" stroke-width="0.75"/>
<line x1="571.8" y1="875.48" x2="574.4" y2="875.48" stroke="#333" stroke-width="0.75"/>
<line x1="571.8" y1="894.6" x2="574.4" y2="894.6" stroke="#333" stroke-width="0.75"/>
<text x="573.1" y="877.17" font-size="9.6" text-anchor="middle" fill="#555" dominant-baseline="auto" stroke="#555" stroke-width="0.2">*</text>
<text x="573.1" y="872.77" font-size="9.6" text-anchor="middle" fill="#555" dominant-baseline="auto" stroke="#555" stroke-width="0.2">*</text>
<text x="573.1" y="868.37" font-size="9.6" text-anchor="middle" fill="#555" dominant-baseline="auto" stroke="#555" stroke-width="0.2">*</text>
<line x1="571" y1="921.1" x2="571" y2="924.4" stroke="#555" stroke-width="0.9"/>
<text x="575.6" y="928.1" font-size="9" text-anchor="end" transform="rotate(-45 575.6 928.1)" dominant-baseline="auto" stroke="#1e1e1e" stroke-width="0.18">G0S2</text>
<rect x="577.6" y="911.98" width="4.2" height="9.12" fill="#5e8fa8"/>
<line x1="579.7" y1="910.67" x2="579.7" y2="913.28" stroke="#333" stroke-width="0.75"/>
<line x1="578.4" y1="910.67" x2="581" y2="910.67" stroke="#333" stroke-width="0.75"/>
<line x1="578.4" y1="913.28" x2="581" y2="913.28" stroke="#333" stroke-width="0.75"/>
<rect x="581.8" y="892.86" width="4.2" height="28.24" fill="#d08a65"/>
<line x1="583.9" y1="885.91" x2="583.9" y2="899.81" stroke="#333" stroke-width="0.75"/>
<line x1="582.6" y1="885.91" x2="585.2" y2="885.91" stroke="#333" stroke-width="0.75"/>
<line x1="582.6" y1="899.81" x2="585.2" y2="899.81" stroke="#333" stroke-width="0.75"/>
<text x="583.9" y="887.6" font-size="9.6" text-anchor="middle" fill="#555" dominant-baseline="auto" stroke="#555" stroke-width="0.2">*</text>
<text x="583.9" y="883.2" font-size="9.6" text-anchor="middle" fill="#555" dominant-baseline="auto" stroke="#555" stroke-width="0.2">*</text>
<text x="583.9" y="878.8" font-size="9.6" text-anchor="middle" fill="#555" dominant-baseline="auto" stroke="#555" stroke-width="0.2">*</text>
<line x1="581.8" y1="921.1" x2="581.8" y2="924.4" stroke="#555" stroke-width="0.9"/>
<text x="586.4" y="928.1" font-size="9" text-anchor="end" transform="rotate(-45 586.4 928.1)" dominant-baseline="auto" stroke="#1e1e1e" stroke-width="0.18">ITGB7</text>
<rect x="588.4" y="912.24" width="4.2" height="8.86" fill="#5e8fa8"/>
<line x1="590.5" y1="911.37" x2="590.5" y2="913.11" stroke="#333" stroke-width="0.75"/>
<line x1="589.2" y1="911.37" x2="591.8" y2="911.37" stroke="#333" stroke-width="0.75"/>
<line x1="589.2" y1="913.11" x2="591.8" y2="913.11" stroke="#333" stroke-width="0.75"/>
<rect x="592.6" y="875.91" width="4.2" height="45.19" fill="#d08a65"/>
<line x1="594.7" y1="863.75" x2="594.7" y2="888.08" stroke="#333" stroke-width="0.75"/>
<line x1="593.4" y1="863.75" x2="596" y2="863.75" stroke="#333" stroke-width="0.75"/>
<line x1="593.4" y1="888.08" x2="596" y2="888.08" stroke="#333" stroke-width="0.75"/>
<text x="594.7" y="865.44" font-size="9.6" text-anchor="middle" fill="#555" dominant-baseline="auto" stroke="#555" stroke-width="0.2">*</text>
<text x="594.7" y="861.04" font-size="9.6" text-anchor="middle" fill="#555" dominant-baseline="auto" stroke="#555" stroke-width="0.2">*</text>
<text x="594.7" y="856.64" font-size="9.6" text-anchor="middle" fill="#555" dominant-baseline="auto" stroke="#555" stroke-width="0.2">*</text>
<line x1="592.6" y1="921.1" x2="592.6" y2="924.4" stroke="#555" stroke-width="0.9"/>
<text x="597.2" y="928.1" font-size="9" text-anchor="end" transform="rotate(-45 597.2 928.1)" dominant-baseline="auto" stroke="#1e1e1e" stroke-width="0.18">NFKBIA</text>
<rect x="599.2" y="912.41" width="4.2" height="8.69" fill="#5e8fa8"/>
<line x1="601.3" y1="911.98" x2="601.3" y2="912.84" stroke="#333" stroke-width="0.75"/>
<line x1="600" y1="911.98" x2="602.6" y2="911.98" stroke="#333" stroke-width="0.75"/>
<line x1="600" y1="912.84" x2="602.6" y2="912.84" stroke="#333" stroke-width="0.75"/>
<rect x="603.4" y="885.91" width="4.2" height="35.19" fill="#d08a65"/>
<line x1="605.5" y1="878.08" x2="605.5" y2="893.73" stroke="#333" stroke-width="0.75"/>
<line x1="604.2" y1="878.08" x2="606.8" y2="878.08" stroke="#333" stroke-width="0.75"/>
<line x1="604.2" y1="893.73" x2="606.8" y2="893.73" stroke="#333" stroke-width="0.75"/>
<text x="605.5" y="879.78" font-size="9.6" text-anchor="middle" fill="#555" dominant-baseline="auto" stroke="#555" stroke-width="0.2">*</text>
<text x="605.5" y="875.38" font-size="9.6" text-anchor="middle" fill="#555" dominant-baseline="auto" stroke="#555" stroke-width="0.2">*</text>
<text x="605.5" y="870.98" font-size="9.6" text-anchor="middle" fill="#555" dominant-baseline="auto" stroke="#555" stroke-width="0.2">*</text>
<line x1="603.4" y1="921.1" x2="603.4" y2="924.4" stroke="#555" stroke-width="0.9"/>
<text x="608" y="928.1" font-size="9" text-anchor="end" transform="rotate(-45 608 928.1)" dominant-baseline="auto" stroke="#1e1e1e" stroke-width="0.18">NOD2</text>
<rect x="610" y="911.98" width="4.2" height="9.12" fill="#5e8fa8"/>
<line x1="612.1" y1="909.8" x2="612.1" y2="914.15" stroke="#333" stroke-width="0.75"/>
<line x1="610.8" y1="909.8" x2="613.4" y2="909.8" stroke="#333" stroke-width="0.75"/>
<line x1="610.8" y1="914.15" x2="613.4" y2="914.15" stroke="#333" stroke-width="0.75"/>
<rect x="614.2" y="890.25" width="4.2" height="30.85" fill="#d08a65"/>
<line x1="616.3" y1="872" x2="616.3" y2="908.5" stroke="#333" stroke-width="0.75"/>
<line x1="615" y1="872" x2="617.6" y2="872" stroke="#333" stroke-width="0.75"/>
<line x1="615" y1="908.5" x2="617.6" y2="908.5" stroke="#333" stroke-width="0.75"/>
<text x="616.3" y="873.69" font-size="9.6" text-anchor="middle" fill="#555" dominant-baseline="auto" stroke="#555" stroke-width="0.2">*</text>
<text x="616.3" y="869.29" font-size="9.6" text-anchor="middle" fill="#555" dominant-baseline="auto" stroke="#555" stroke-width="0.2">*</text>
<text x="616.3" y="864.89" font-size="9.6" text-anchor="middle" fill="#555" dominant-baseline="auto" stroke="#555" stroke-width="0.2">*</text>
<line x1="614.2" y1="921.1" x2="614.2" y2="924.4" stroke="#555" stroke-width="0.9"/>
<text x="618.8" y="928.1" font-size="9" text-anchor="end" transform="rotate(-45 618.8 928.1)" dominant-baseline="auto" stroke="#1e1e1e" stroke-width="0.18">PPARA</text>
<rect x="620.8" y="912.41" width="4.2" height="8.69" fill="#5e8fa8"/>
<line x1="622.9" y1="911.71" x2="622.9" y2="913.11" stroke="#333" stroke-width="0.75"/>
<line x1="621.6" y1="911.71" x2="624.2" y2="911.71" stroke="#333" stroke-width="0.75"/>
<line x1="621.6" y1="913.11" x2="624.2" y2="913.11" stroke="#333" stroke-width="0.75"/>
<rect x="625" y="881.56" width="4.2" height="39.54" fill="#d08a65"/>
<line x1="627.1" y1="864.62" x2="627.1" y2="898.51" stroke="#333" stroke-width="0.75"/>
<line x1="625.8" y1="864.62" x2="628.4" y2="864.62" stroke="#333" stroke-width="0.75"/>
<line x1="625.8" y1="898.51" x2="628.4" y2="898.51" stroke="#333" stroke-width="0.75"/>
<text x="627.1" y="866.31" font-size="9.6" text-anchor="middle" fill="#555" dominant-baseline="auto" stroke="#555" stroke-width="0.2">*</text>
<text x="627.1" y="861.91" font-size="9.6" text-anchor="middle" fill="#555" dominant-baseline="auto" stroke="#555" stroke-width="0.2">*</text>
<text x="627.1" y="857.51" font-size="9.6" text-anchor="middle" fill="#555" dominant-baseline="auto" stroke="#555" stroke-width="0.2">*</text>
<line x1="625" y1="921.1" x2="625" y2="924.4" stroke="#555" stroke-width="0.9"/>
<text x="629.6" y="928.1" font-size="9" text-anchor="end" transform="rotate(-45 629.6 928.1)" dominant-baseline="auto" stroke="#1e1e1e" stroke-width="0.18">PPARG</text>
<rect x="631.6" y="911.98" width="4.2" height="9.12" fill="#5e8fa8"/>
<line x1="633.7" y1="909.37" x2="633.7" y2="914.58" stroke="#333" stroke-width="0.75"/>
<line x1="632.4" y1="909.37" x2="635" y2="909.37" stroke="#333" stroke-width="0.75"/>
<line x1="632.4" y1="914.58" x2="635" y2="914.58" stroke="#333" stroke-width="0.75"/>
<rect x="635.8" y="885.91" width="4.2" height="35.19" fill="#d08a65"/>
<line x1="637.9" y1="872.87" x2="637.9" y2="898.94" stroke="#333" stroke-width="0.75"/>
<line x1="636.6" y1="872.87" x2="639.2" y2="872.87" stroke="#333" stroke-width="0.75"/>
<line x1="636.6" y1="898.94" x2="639.2" y2="898.94" stroke="#333" stroke-width="0.75"/>
<text x="637.9" y="874.56" font-size="9.6" text-anchor="middle" fill="#555" dominant-baseline="auto" stroke="#555" stroke-width="0.2">*</text>
<text x="637.9" y="870.16" font-size="9.6" text-anchor="middle" fill="#555" dominant-baseline="auto" stroke="#555" stroke-width="0.2">*</text>
<text x="637.9" y="865.76" font-size="9.6" text-anchor="middle" fill="#555" dominant-baseline="auto" stroke="#555" stroke-width="0.2">*</text>
<line x1="635.8" y1="921.1" x2="635.8" y2="924.4" stroke="#555" stroke-width="0.9"/>
<text x="640.4" y="928.1" font-size="9" text-anchor="end" transform="rotate(-45 640.4 928.1)" dominant-baseline="auto" stroke="#1e1e1e" stroke-width="0.18">RBL1</text>
<rect x="642.4" y="912.41" width="4.2" height="8.69" fill="#5e8fa8"/>
<line x1="644.5" y1="911.98" x2="644.5" y2="912.84" stroke="#333" stroke-width="0.75"/>
<line x1="643.2" y1="911.98" x2="645.8" y2="911.98" stroke="#333" stroke-width="0.75"/>
<line x1="643.2" y1="912.84" x2="645.8" y2="912.84" stroke="#333" stroke-width="0.75"/>
<rect x="646.6" y="864.62" width="4.2" height="56.48" fill="#d08a65"/>
<line x1="648.7" y1="851.58" x2="648.7" y2="877.65" stroke="#333" stroke-width="0.75"/>
<line x1="647.4" y1="851.58" x2="650" y2="851.58" stroke="#333" stroke-width="0.75"/>
<line x1="647.4" y1="877.65" x2="650" y2="877.65" stroke="#333" stroke-width="0.75"/>
<text x="648.7" y="853.27" font-size="9.6" text-anchor="middle" fill="#555" dominant-baseline="auto" stroke="#555" stroke-width="0.2">*</text>
<text x="648.7" y="848.87" font-size="9.6" text-anchor="middle" fill="#555" dominant-baseline="auto" stroke="#555" stroke-width="0.2">*</text>
<text x="648.7" y="844.47" font-size="9.6" text-anchor="middle" fill="#555" dominant-baseline="auto" stroke="#555" stroke-width="0.2">*</text>
<line x1="646.6" y1="921.1" x2="646.6" y2="924.4" stroke="#555" stroke-width="0.9"/>
<text x="651.2" y="928.1" font-size="9" text-anchor="end" transform="rotate(-45 651.2 928.1)" dominant-baseline="auto" stroke="#1e1e1e" stroke-width="0.18">RAP1GAP</text>
<rect x="653.2" y="911.98" width="4.2" height="9.12" fill="#5e8fa8"/>
<line x1="655.3" y1="911.11" x2="655.3" y2="912.84" stroke="#333" stroke-width="0.75"/>
<line x1="654" y1="911.11" x2="656.6" y2="911.11" stroke="#333" stroke-width="0.75"/>
<line x1="654" y1="912.84" x2="656.6" y2="912.84" stroke="#333" stroke-width="0.75"/>
<rect x="657.4" y="883.3" width="4.2" height="37.8" fill="#d08a65"/>
<line x1="659.5" y1="867.66" x2="659.5" y2="898.94" stroke="#333" stroke-width="0.75"/>
<line x1="658.2" y1="867.66" x2="660.8" y2="867.66" stroke="#333" stroke-width="0.75"/>
<line x1="658.2" y1="898.94" x2="660.8" y2="898.94" stroke="#333" stroke-width="0.75"/>
<text x="659.5" y="869.35" font-size="9.6" text-anchor="middle" fill="#555" dominant-baseline="auto" stroke="#555" stroke-width="0.2">*</text>
<text x="659.5" y="864.95" font-size="9.6" text-anchor="middle" fill="#555" dominant-baseline="auto" stroke="#555" stroke-width="0.2">*</text>
<text x="659.5" y="860.55" font-size="9.6" text-anchor="middle" fill="#555" dominant-baseline="auto" stroke="#555" stroke-width="0.2">*</text>
<line x1="657.4" y1="921.1" x2="657.4" y2="924.4" stroke="#555" stroke-width="0.9"/>
<text x="662" y="928.1" font-size="9" text-anchor="end" transform="rotate(-45 662 928.1)" dominant-baseline="auto" stroke="#1e1e1e" stroke-width="0.18">SLC27A5</text>
<rect x="664" y="912.41" width="4.2" height="8.69" fill="#5e8fa8"/>
<line x1="666.1" y1="911.98" x2="666.1" y2="912.84" stroke="#333" stroke-width="0.75"/>
<line x1="664.8" y1="911.98" x2="667.4" y2="911.98" stroke="#333" stroke-width="0.75"/>
<line x1="664.8" y1="912.84" x2="667.4" y2="912.84" stroke="#333" stroke-width="0.75"/>
<rect x="668.2" y="883.73" width="4.2" height="37.37" fill="#d08a65"/>
<line x1="670.3" y1="875.04" x2="670.3" y2="892.42" stroke="#333" stroke-width="0.75"/>
<line x1="669" y1="875.04" x2="671.6" y2="875.04" stroke="#333" stroke-width="0.75"/>
<line x1="669" y1="892.42" x2="671.6" y2="892.42" stroke="#333" stroke-width="0.75"/>
<text x="670.3" y="876.74" font-size="9.6" text-anchor="middle" fill="#555" dominant-baseline="auto" stroke="#555" stroke-width="0.2">*</text>
<text x="670.3" y="872.34" font-size="9.6" text-anchor="middle" fill="#555" dominant-baseline="auto" stroke="#555" stroke-width="0.2">*</text>
<text x="670.3" y="867.94" font-size="9.6" text-anchor="middle" fill="#555" dominant-baseline="auto" stroke="#555" stroke-width="0.2">*</text>
<line x1="668.2" y1="921.1" x2="668.2" y2="924.4" stroke="#555" stroke-width="0.9"/>
<text x="672.8" y="928.1" font-size="9" text-anchor="end" transform="rotate(-45 672.8 928.1)" dominant-baseline="auto" stroke="#1e1e1e" stroke-width="0.18">TRAF3IP2</text>
</svg></body></html>
